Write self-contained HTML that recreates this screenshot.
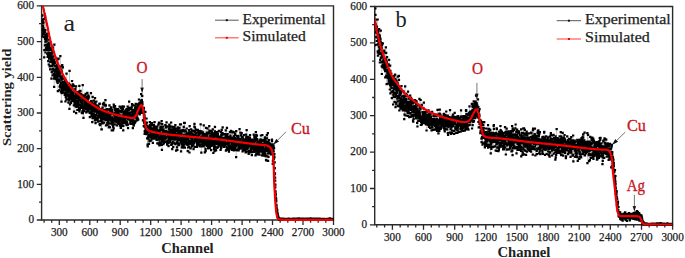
<!DOCTYPE html>
<html><head><meta charset="utf-8"><style>
html,body{margin:0;padding:0;background:#fff;width:685px;height:258px;overflow:hidden}
svg{display:block}
text{font-family:"Liberation Serif",serif}
</style></head><body>
<svg width="685" height="258" viewBox="0 0 685 258">
<rect width="685" height="258" fill="#fff"/>
<path d="M41.6 5.9H333.5V220H41.6Z" fill="none" stroke="#2a2a2a" stroke-width="1.4"/>
<path d="M44.1 220v2.8M51.7 220v2.8M59.3 220v5.0M66.9 220v2.8M74.5 220v2.8M82.1 220v2.8M89.8 220v5.0M97.4 220v2.8M105 220v2.8M112.6 220v2.8M120.2 220v5.0M127.8 220v2.8M135.5 220v2.8M143.1 220v2.8M150.7 220v5.0M158.3 220v2.8M165.9 220v2.8M173.5 220v2.8M181.1 220v5.0M188.8 220v2.8M196.4 220v2.8M204 220v2.8M211.6 220v5.0M219.2 220v2.8M226.8 220v2.8M234.5 220v2.8M242.1 220v5.0M249.7 220v2.8M257.3 220v2.8M264.9 220v2.8M272.5 220v5.0M280.2 220v2.8M287.8 220v2.8M295.4 220v2.8M303 220v5.0M310.6 220v2.8M318.2 220v2.8M325.8 220v2.8M333.5 220v5.0M41.6 220h-4.8M41.6 202.2h-2.6M41.6 184.3h-4.8M41.6 166.5h-2.6M41.6 148.6h-4.8M41.6 130.8h-2.6M41.6 113h-4.8M41.6 95.1h-2.6M41.6 77.3h-4.8M41.6 59.4h-2.6M41.6 41.6h-4.8M41.6 23.7h-2.6M41.6 5.9h-4.8" stroke="#2a2a2a" stroke-width="1.3" fill="none"/>
<g fill="#222" stroke="#222" stroke-width="0.25" font-family="Liberation Serif, serif"><text x="59.3" y="236" text-anchor="middle" font-size="11.6" textLength="16.8" lengthAdjust="spacingAndGlyphs">300</text><text x="89.8" y="236" text-anchor="middle" font-size="11.6" textLength="16.8" lengthAdjust="spacingAndGlyphs">600</text><text x="120.2" y="236" text-anchor="middle" font-size="11.6" textLength="16.8" lengthAdjust="spacingAndGlyphs">900</text><text x="150.7" y="236" text-anchor="middle" font-size="11.6" textLength="22.4" lengthAdjust="spacingAndGlyphs">1200</text><text x="181.1" y="236" text-anchor="middle" font-size="11.6" textLength="22.4" lengthAdjust="spacingAndGlyphs">1500</text><text x="211.6" y="236" text-anchor="middle" font-size="11.6" textLength="22.4" lengthAdjust="spacingAndGlyphs">1800</text><text x="242.1" y="236" text-anchor="middle" font-size="11.6" textLength="22.4" lengthAdjust="spacingAndGlyphs">2100</text><text x="272.5" y="236" text-anchor="middle" font-size="11.6" textLength="22.4" lengthAdjust="spacingAndGlyphs">2400</text><text x="303" y="236" text-anchor="middle" font-size="11.6" textLength="22.4" lengthAdjust="spacingAndGlyphs">2700</text><text x="333.5" y="236" text-anchor="middle" font-size="11.6" textLength="22.4" lengthAdjust="spacingAndGlyphs">3000</text><text x="34" y="223.3" text-anchor="end" font-size="11.6" textLength="5.6" lengthAdjust="spacingAndGlyphs">0</text><text x="34" y="187.6" text-anchor="end" font-size="11.6" textLength="16.8" lengthAdjust="spacingAndGlyphs">100</text><text x="34" y="151.9" text-anchor="end" font-size="11.6" textLength="16.8" lengthAdjust="spacingAndGlyphs">200</text><text x="34" y="116.2" text-anchor="end" font-size="11.6" textLength="16.8" lengthAdjust="spacingAndGlyphs">300</text><text x="34" y="80.6" text-anchor="end" font-size="11.6" textLength="16.8" lengthAdjust="spacingAndGlyphs">400</text><text x="34" y="44.9" text-anchor="end" font-size="11.6" textLength="16.8" lengthAdjust="spacingAndGlyphs">500</text><text x="34" y="9.2" text-anchor="end" font-size="11.6" textLength="16.8" lengthAdjust="spacingAndGlyphs">600</text></g>
<path d="M374.7 6.5H672.6V224.8H374.7Z" fill="none" stroke="#2a2a2a" stroke-width="1.4"/>
<path d="M376.8 224.8v2.8M384.6 224.8v2.8M392.4 224.8v5.0M400.2 224.8v2.8M408 224.8v2.8M415.7 224.8v2.8M423.5 224.8v5.0M431.3 224.8v2.8M439.1 224.8v2.8M446.9 224.8v2.8M454.7 224.8v5.0M462.4 224.8v2.8M470.2 224.8v2.8M478 224.8v2.8M485.8 224.8v5.0M493.6 224.8v2.8M501.4 224.8v2.8M509.1 224.8v2.8M516.9 224.8v5.0M524.7 224.8v2.8M532.5 224.8v2.8M540.3 224.8v2.8M548.1 224.8v5.0M555.8 224.8v2.8M563.6 224.8v2.8M571.4 224.8v2.8M579.2 224.8v5.0M587 224.8v2.8M594.8 224.8v2.8M602.5 224.8v2.8M610.3 224.8v5.0M618.1 224.8v2.8M625.9 224.8v2.8M633.7 224.8v2.8M641.5 224.8v5.0M649.2 224.8v2.8M657 224.8v2.8M664.8 224.8v2.8M672.6 224.8v5.0M374.7 224.8h-4.8M374.7 206.7h-2.6M374.7 188.5h-4.8M374.7 170.3h-2.6M374.7 152.1h-4.8M374.7 133.9h-2.6M374.7 115.7h-4.8M374.7 97.5h-2.6M374.7 79.3h-4.8M374.7 61.1h-2.6M374.7 42.9h-4.8M374.7 24.7h-2.6M374.7 6.5h-4.8" stroke="#2a2a2a" stroke-width="1.3" fill="none"/>
<g fill="#222" stroke="#222" stroke-width="0.25" font-family="Liberation Serif, serif"><text x="392.4" y="240.5" text-anchor="middle" font-size="11.6" textLength="16.8" lengthAdjust="spacingAndGlyphs">300</text><text x="423.5" y="240.5" text-anchor="middle" font-size="11.6" textLength="16.8" lengthAdjust="spacingAndGlyphs">600</text><text x="454.7" y="240.5" text-anchor="middle" font-size="11.6" textLength="16.8" lengthAdjust="spacingAndGlyphs">900</text><text x="485.8" y="240.5" text-anchor="middle" font-size="11.6" textLength="22.4" lengthAdjust="spacingAndGlyphs">1200</text><text x="516.9" y="240.5" text-anchor="middle" font-size="11.6" textLength="22.4" lengthAdjust="spacingAndGlyphs">1500</text><text x="548.1" y="240.5" text-anchor="middle" font-size="11.6" textLength="22.4" lengthAdjust="spacingAndGlyphs">1800</text><text x="579.2" y="240.5" text-anchor="middle" font-size="11.6" textLength="22.4" lengthAdjust="spacingAndGlyphs">2100</text><text x="610.3" y="240.5" text-anchor="middle" font-size="11.6" textLength="22.4" lengthAdjust="spacingAndGlyphs">2400</text><text x="641.5" y="240.5" text-anchor="middle" font-size="11.6" textLength="22.4" lengthAdjust="spacingAndGlyphs">2700</text><text x="672.6" y="240.5" text-anchor="middle" font-size="11.6" textLength="22.4" lengthAdjust="spacingAndGlyphs">3000</text><text x="367.1" y="228.2" text-anchor="end" font-size="11.6" textLength="5.6" lengthAdjust="spacingAndGlyphs">0</text><text x="367.1" y="191.8" text-anchor="end" font-size="11.6" textLength="16.8" lengthAdjust="spacingAndGlyphs">100</text><text x="367.1" y="155.4" text-anchor="end" font-size="11.6" textLength="16.8" lengthAdjust="spacingAndGlyphs">200</text><text x="367.1" y="119" text-anchor="end" font-size="11.6" textLength="16.8" lengthAdjust="spacingAndGlyphs">300</text><text x="367.1" y="82.6" text-anchor="end" font-size="11.6" textLength="16.8" lengthAdjust="spacingAndGlyphs">400</text><text x="367.1" y="46.2" text-anchor="end" font-size="11.6" textLength="16.8" lengthAdjust="spacingAndGlyphs">500</text><text x="367.1" y="9.8" text-anchor="end" font-size="11.6" textLength="16.8" lengthAdjust="spacingAndGlyphs">600</text></g>
<clipPath id="c1"><rect x="41.6" y="5.9" width="291.9" height="215.1"/></clipPath>
<g clip-path="url(#c1)">
<path d="M41.8 19.6 41.9 15.3 42 20.4 42.1 36.5 42.2 15.6 42.3 20.4 42.4 30.2 42.5 19.8 42.6 22.3 42.7 23.3 42.8 26.2 42.9 21.7 43 34.3 43.1 29.2 43.2 32.6 43.3 22.7 43.4 28.4 43.5 31.9 43.6 37 43.7 33.2 43.8 30.3 43.9 33.4 44 19 44.1 18.8 44.2 57.4 44.3 50.2 44.4 34.5 44.5 37.2 44.6 30.9 44.7 32 44.8 14.6 45 45.3 45.1 38.8 45.2 16.6 45.3 30 45.4 30.3 45.5 41.6 45.6 52.5 45.7 36 45.8 36.9 45.9 49.7 46 45 46.1 39.7 46.2 48.2 46.3 40.7 46.4 39.3 46.5 40.3 46.6 45.6 46.7 35.9 46.8 33.6 46.9 38.2 47 50 47.1 36.2 47.2 47.9 47.3 35.7 47.4 53.9 47.5 36.3 47.6 45.2 47.7 56.8 47.8 48.7 47.9 45.8 48 44.3 48.1 56 48.2 61.1 48.3 46.2 48.4 52.7 48.5 46.8 48.6 42.5 48.7 64.5 48.8 47.9 48.9 39.7 49 53.7 49.1 58.7 49.2 45.1 49.3 50 49.4 44.6 49.5 56 49.6 66.5 49.7 54.7 49.8 58 49.9 47.5 50 53 50.1 69.4 50.2 65.9 50.3 47.9 50.4 50 50.5 61.9 50.6 56.6 50.7 53 50.8 53.1 50.9 49.8 51 55.6 51.1 58.9 51.2 60.6 51.3 49.5 51.4 78.6 51.6 60.4 51.7 59.2 51.8 72.2 51.9 57.2 52 66 52.1 53.1 52.2 62 52.3 53.3 52.4 50.9 52.5 58.4 52.6 69.5 52.7 75.3 52.8 47.3 52.9 63.7 53 68.9 53.1 62 53.2 65.1 53.3 56.4 53.4 63.7 53.5 64.1 53.6 70.6 53.7 60.7 53.8 73.8 53.9 59.5 54 52.4 54.1 78.6 54.2 86.9 54.3 60.8 54.4 44.6 54.5 75.1 54.6 77.4 54.7 62 54.8 74.4 54.9 71.7 55 70.6 55.1 63.4 55.2 71.5 55.3 66 55.4 70 55.5 75.9 55.6 71.7 55.7 77.2 55.8 69.3 55.9 79.1 56 79 56.1 57.8 56.2 70.7 56.3 70.9 56.4 66.4 56.5 74.4 56.6 73 56.7 67.7 56.8 69.1 56.9 81.4 57 64.9 57.1 77 57.2 81.1 57.3 80 57.4 75.9 57.5 59.3 57.6 82.8 57.7 71.9 57.8 91.2 57.9 73.6 58 66.3 58.2 76 58.3 79.4 58.4 72.5 58.5 68.8 58.6 69.3 58.7 58.6 58.8 73.4 58.9 80.2 59 76.5 59.1 76.3 59.2 74.9 59.3 76.3 59.4 74.8 59.5 90.1 59.6 69.8 59.7 81.5 59.8 86.6 59.9 71.9 60 66.6 60.1 73.5 60.2 76.4 60.3 85.5 60.4 56.1 60.5 71.1 60.6 87.7 60.7 85 60.8 78.1 60.9 91.6 61 77.8 61.1 83 61.2 69.6 61.3 72 61.4 101.6 61.5 79.7 61.6 93.2 61.7 71.5 61.8 79.2 61.9 76.3 62 89.4 62.1 66.5 62.2 65.1 62.3 89.9 62.4 78.6 62.5 87.1 62.6 82.1 62.7 92.1 62.8 67.4 62.9 90 63 84.9 63.1 78.7 63.2 87.9 63.3 84.9 63.4 87.6 63.5 84.3 63.6 92.6 63.7 87 63.8 85.4 63.9 86.5 64 83.6 64.1 86.5 64.2 78.5 64.3 87 64.4 85.7 64.5 89.9 64.6 89 64.8 94.9 64.9 81.2 65 94.2 65.1 93.3 65.2 82.8 65.3 82.6 65.4 89 65.5 101.5 65.6 82.9 65.7 84.3 65.8 97.2 65.9 80.6 66 92 66.1 95.4 66.2 86.2 66.3 88.4 66.4 85.6 66.5 99.5 66.6 73.7 66.7 92.1 66.8 99.4 66.9 83.1 67 90.6 67.1 85.6 67.2 90.7 67.3 88.7 67.4 86.6 67.5 94.2 67.6 83.6 67.7 92.3 67.8 95.4 67.9 88.4 68 85.8 68.1 91 68.2 95.8 68.3 84.9 68.4 102.7 68.5 97.4 68.6 89.4 68.7 100.1 68.8 89.8 68.9 90.6 69 83.6 69.1 99.5 69.2 95.1 69.3 88.1 69.4 108.9 69.5 70.9 69.6 96.1 69.7 96.5 69.8 84.9 69.9 91.6 70 104.5 70.1 87 70.2 85.5 70.3 95.2 70.4 94 70.5 88.6 70.6 98.9 70.7 89.2 70.8 91 70.9 97.5 71 102.8 71.1 94.5 71.3 101.5 71.4 85.8 71.5 92.1 71.6 87.6 71.7 92.4 71.8 91.6 71.9 99.2 72 88.9 72.1 81 72.2 96.1 72.3 98.3 72.4 95.3 72.5 97.7 72.6 99.3 72.7 93.4 72.8 96.6 72.9 84.4 73 94.7 73.1 92.5 73.2 85.8 73.3 97.1 73.4 84.9 73.5 99.7 73.6 101 73.7 98 73.8 96.3 73.9 105.4 74 95.9 74.1 111.6 74.2 86 74.3 96.5 74.4 100.5 74.5 102.5 74.6 98.9 74.7 97.8 74.8 103.7 74.9 102.9 75 97.8 75.1 100.2 75.2 90.1 75.3 88.8 75.4 96.7 75.5 93.6 75.6 106.3 75.7 92.7 75.8 97.4 75.9 93.9 76 86.3 76.1 113.2 76.2 95.7 76.3 105.2 76.4 93.6 76.5 106.8 76.6 101.2 76.7 96.5 76.8 93.8 76.9 97.6 77 103.6 77.1 102 77.2 92.3 77.3 98.4 77.4 110 77.5 92.8 77.6 95.8 77.7 92.8 77.9 101.1 78 93.3 78.1 106.2 78.2 95.2 78.3 102.5 78.4 94.6 78.5 92.5 78.6 104.4 78.7 99.8 78.8 99.3 78.9 91.6 79 94.9 79.1 108 79.2 96.8 79.3 95 79.4 85.8 79.5 111.4 79.6 105.1 79.7 91.4 79.8 109.4 79.9 108.5 80 97.1 80.1 93.8 80.2 105.1 80.3 97.2 80.4 100.1 80.5 90.8 80.6 101 80.7 94.5 80.8 107.2 80.9 102.5 81 102 81.1 93.9 81.2 97.7 81.3 106.5 81.4 97.1 81.5 96.6 81.6 102.5 81.7 103.6 81.8 103.2 81.9 113.2 82 100.9 82.1 100.7 82.2 107.9 82.3 97.5 82.4 111.4 82.5 106.1 82.6 105.7 82.7 85.2 82.8 113.1 82.9 99.2 83 96.8 83.1 100.5 83.2 95.4 83.3 109.6 83.4 117.9 83.5 98.3 83.6 111.1 83.7 105.5 83.8 111.1 83.9 96.8 84 98.1 84.1 108.4 84.2 98 84.3 103.1 84.5 104.8 84.6 103.7 84.7 105.4 84.8 100.3 84.9 102.3 85 106.6 85.1 98 85.2 108.4 85.3 102.7 85.4 101.9 85.5 95.3 85.6 108 85.7 93.8 85.8 103.8 85.9 106.2 86 109.3 86.1 101.4 86.2 104.9 86.3 112.2 86.4 112.5 86.5 108.9 86.6 109.7 86.7 98.7 86.8 97 86.9 100.3 87 103.6 87.1 108.5 87.2 105.6 87.3 100.5 87.4 92.8 87.5 100.5 87.6 108.6 87.7 106.1 87.8 109.4 87.9 111.3 88 107.6 88.1 105.4 88.2 95.3 88.3 106.4 88.4 98.4 88.5 96 88.6 106.4 88.7 97.1 88.8 102.7 88.9 109.7 89 105.6 89.1 107.1 89.2 108.8 89.3 108.6 89.4 106.6 89.5 104.9 89.6 113 89.7 107.8 89.8 117.1 89.9 106.3 90 104.1 90.1 107 90.2 106.3 90.3 104.6 90.4 112.2 90.5 109.7 90.6 105.3 90.7 102.4 90.8 106.1 90.9 93.2 91.1 109.2 91.2 102.7 91.3 101.2 91.4 109.7 91.5 113.9 91.6 116.1 91.7 108.1 91.8 102.5 91.9 107 92 108.3 92.1 111.6 92.2 106.1 92.3 122.2 92.4 108.2 92.5 109.5 92.6 117.8 92.7 96.9 92.8 118.1 92.9 116.3 93 117.1 93.1 103.5 93.2 115.4 93.3 106.3 93.4 106.8 93.5 108.8 93.6 118.1 93.7 114.1 93.8 100.7 93.9 118.2 94 115.5 94.1 111.7 94.2 106.1 94.3 109.4 94.4 106.6 94.5 117.2 94.6 105.6 94.7 107.8 94.8 120.5 94.9 102.4 95 98.1 95.1 115.9 95.2 111.2 95.3 103.5 95.4 120.2 95.5 123.1 95.6 119.2 95.7 115.1 95.8 115.2 95.9 108.4 96 110.5 96.1 119.2 96.2 108.9 96.3 101.5 96.4 105.4 96.5 106.6 96.6 112.2 96.7 106.8 96.8 118 96.9 108.3 97 113.1 97.1 106.2 97.2 110.1 97.3 119 97.4 112.1 97.5 106 97.7 119.3 97.8 116.2 97.9 117.4 98 121.6 98.1 107.8 98.2 105.9 98.3 108.8 98.4 112 98.5 113.7 98.6 112.1 98.7 117.6 98.8 108.6 98.9 107.8 99 108.5 99.1 116.7 99.2 113.3 99.3 114.8 99.4 103.9 99.5 112.9 99.6 124.4 99.7 111.8 99.8 103.7 99.9 110.3 100 109.3 100.1 114 100.2 125.1 100.3 124.2 100.4 121.1 100.5 115 100.6 112.6 100.7 110.5 100.8 116.2 100.9 109.1 101 115.9 101.1 118.3 101.2 109.7 101.3 119.5 101.4 129.4 101.5 120.3 101.6 114 101.7 129.4 101.8 116.5 101.9 116.4 102 122.4 102.1 122.7 102.2 118 102.3 117.6 102.4 107.7 102.5 112.6 102.6 123.4 102.7 119.4 102.8 110.8 102.9 104.2 103 111.8 103.1 113 103.2 104.5 103.3 114.9 103.4 116.5 103.5 122.6 103.6 117.6 103.7 102.8 103.8 122.7 103.9 114.8 104 122.6 104.1 114.1 104.3 110 104.4 116.2 104.5 110.9 104.6 110.9 104.7 112.5 104.8 105.5 104.9 110.6 105 116.6 105.1 118.7 105.2 119.6 105.3 112.4 105.4 116.8 105.5 100.1 105.6 104.9 105.7 116.6 105.8 116.9 105.9 105.7 106 125.4 106.1 117.6 106.2 109.8 106.3 120.1 106.4 117.7 106.5 117 106.6 111.5 106.7 114.4 106.8 112.9 106.9 111.9 107 115 107.1 109.1 107.2 119.2 107.3 123.1 107.4 125 107.5 124.1 107.6 118.3 107.7 109.6 107.8 114.3 107.9 118.5 108 121.1 108.1 118.2 108.2 117.5 108.3 118.4 108.4 123.2 108.5 117.9 108.6 109.7 108.7 127.3 108.8 116.7 108.9 127 109 114.3 109.1 119.5 109.2 126.8 109.3 114.8 109.4 105.4 109.5 114.8 109.6 109 109.7 115.8 109.8 127.3 109.9 112.7 110 117.7 110.1 123.5 110.2 111.1 110.3 113.9 110.4 118.3 110.5 110.7 110.6 120.3 110.7 111.9 110.9 120.7 111 112.6 111.1 123.7 111.2 107.3 111.3 114.1 111.4 107.7 111.5 120.1 111.6 118.2 111.7 110.9 111.8 130.4 111.9 121.4 112 109.9 112.1 113 112.2 110.2 112.3 117.3 112.4 112.5 112.5 119.6 112.6 123.1 112.7 124.9 112.8 118.7 112.9 118.6 113 119.1 113.1 130.5 113.2 126.6 113.3 118.6 113.4 114.1 113.5 118.8 113.6 120.5 113.7 128.4 113.8 104.6 113.9 121.7 114 106.4 114.1 107.1 114.2 114.2 114.3 118.8 114.4 115 114.5 124.3 114.6 114.3 114.7 115.7 114.8 112.8 114.9 108.7 115 106.2 115.1 117.9 115.2 110 115.3 120.1 115.4 120.7 115.5 119.1 115.6 121.2 115.7 110.4 115.8 110.7 115.9 108.8 116 115.9 116.1 114.3 116.2 119 116.3 122.1 116.4 113.3 116.5 114.3 116.6 121.9 116.7 111.5 116.8 125.4 116.9 116.8 117 119.3 117.1 118.7 117.2 121.8 117.3 110.6 117.5 112.7 117.6 109.3 117.7 115.1 117.8 122.9 117.9 117.9 118 122.4 118.1 113.4 118.2 109.2 118.3 114.1 118.4 120.4 118.5 117.9 118.6 114.8 118.7 123.8 118.8 115.1 118.9 114.8 119 118.9 119.1 118.2 119.2 115 119.3 120.4 119.4 122.1 119.5 111.7 119.6 114.7 119.7 106.7 119.8 121.4 119.9 125.7 120 110.8 120.1 110.7 120.2 120 120.3 124 120.4 116.2 120.5 125.6 120.6 117.9 120.7 128 120.8 117.4 120.9 127.7 121 117.4 121.1 107.8 121.2 117.6 121.3 111.9 121.4 119.6 121.5 121 121.6 124.4 121.7 110.5 121.8 116.5 121.9 107.3 122 122.7 122.1 117.4 122.2 115.8 122.3 108.5 122.4 106.3 122.5 119.8 122.6 122.5 122.7 125.8 122.8 109 122.9 116.8 123 119.9 123.1 116.6 123.2 130.4 123.3 125.8 123.4 111.3 123.5 114.2 123.6 115.6 123.7 121.9 123.8 113.2 123.9 106.7 124.1 123.1 124.2 116.4 124.3 118.8 124.4 114.5 124.5 116.4 124.6 117.3 124.7 121.3 124.8 116.6 124.9 119.9 125 117.3 125.1 116.8 125.2 112.9 125.3 119.7 125.4 118.3 125.5 110.7 125.6 117.7 125.7 118 125.8 111.8 125.9 114.6 126 116.1 126.1 115.4 126.2 123.3 126.3 114 126.4 109.3 126.5 113.4 126.6 125.1 126.7 115 126.8 121.5 126.9 117.8 127 115.9 127.1 123.1 127.2 109.2 127.3 116.9 127.4 112.2 127.5 113.1 127.6 106.7 127.7 110 127.8 124.6 127.9 116.3 128 128.2 128.1 119 128.2 112.6 128.3 109.9 128.4 109.5 128.5 118.6 128.6 114.3 128.7 116 128.8 109.6 128.9 107.9 129 119.3 129.1 101.6 129.2 116.6 129.3 118.6 129.4 113.3 129.5 112.5 129.6 113.6 129.7 120.2 129.8 108.6 129.9 116.3 130 108.2 130.1 109 130.2 123.6 130.3 122 130.4 122.1 130.6 115.3 130.7 116.3 130.8 115.1 130.9 121.1 131 114.3 131.1 108.9 131.2 123.9 131.3 118.1 131.4 115.2 131.5 117.3 131.6 117.6 131.7 106.9 131.8 109.5 131.9 111.9 132 120.7 132.1 104.2 132.2 114.5 132.3 119.6 132.4 118.3 132.5 119.1 132.6 104.8 132.7 115.2 132.8 116 132.9 128.1 133 112.2 133.1 124 133.2 122.3 133.3 112.7 133.4 120.8 133.5 111.4 133.6 109.8 133.7 125.7 133.8 116.6 133.9 124.4 134 116.1 134.1 110.6 134.2 123.1 134.3 105.6 134.4 117.1 134.5 121.8 134.6 115.9 134.7 110.8 134.8 122.6 134.9 114.9 135 122.4 135.1 108 135.2 113.7 135.3 116.7 135.4 108.5 135.5 121.3 135.6 116.2 135.7 103.8 135.8 114.6 135.9 106.3 136 112.7 136.1 117.5 136.2 114.9 136.3 113 136.4 115.5 136.5 116.9 136.6 116.5 136.7 119.6 136.8 112 136.9 110.5 137 108.7 137.2 120.4 137.3 108 137.4 111.6 137.5 118 137.6 110.7 137.7 107.1 137.8 108.3 137.9 107.2 138 104.4 138.1 106 138.2 110.3 138.3 119.7 138.4 113.3 138.5 107.9 138.6 111.6 138.7 105.9 138.8 103.8 138.9 108.4 139 99.5 139.1 112.8 139.2 103.5 139.3 110 139.4 111.3 139.5 104.5 139.6 110.1 139.7 102.9 139.8 114.3 139.9 106.5 140 110.5 140.1 107.5 140.2 108 140.3 111.5 140.4 102.8 140.5 111.8 140.6 110.4 140.7 101.3 140.8 100.8 140.9 102.1 141 103.6 141.1 94.2 141.2 113 141.3 108.7 141.4 109.9 141.5 100.8 141.6 103.8 141.7 100 141.8 100.8 141.9 106.8 142 109.8 142.1 110.9 142.2 95.9 142.3 102.2 142.4 104.3 142.5 109.1 142.6 108.8 142.7 109.9 142.8 110.2 142.9 120.4 143 109.9 143.1 111.7 143.2 109.2 143.3 110.2 143.4 108 143.5 112.8 143.6 109.8 143.8 126.1 143.9 120.1 144 107.9 144.1 122.1 144.2 118.6 144.3 114.9 144.4 122.8 144.5 116.3 144.6 126.7 144.7 133.9 144.8 131.1 144.9 133.6 145 124.6 145.1 126.9 145.2 123.6 145.3 132 145.4 111.8 145.5 127.5 145.6 127.7 145.7 125.2 145.8 129.6 145.9 132.1 146 128.2 146.1 123.7 146.2 125.4 146.3 124 146.4 132.8 146.5 134.1 146.6 118.5 146.7 131.4 146.8 126.6 146.9 126.2 147 122.5 147.1 138.3 147.2 133.5 147.3 133.3 147.4 132.7 147.5 144.7 147.6 131.7 147.7 146.4 147.8 129.7 147.9 128.4 148 128.2 148.1 138.4 148.2 126.3 148.3 136.6 148.4 138.7 148.5 137.4 148.6 136.7 148.7 131 148.8 127.4 148.9 143.9 149 135.2 149.1 127.2 149.2 131.1 149.3 129.5 149.4 140.7 149.5 127.1 149.6 141.2 149.7 131.4 149.8 124.9 149.9 122 150 129.7 150.1 127.7 150.2 136 150.4 135.3 150.5 126.1 150.6 132.7 150.7 133.4 150.8 140.6 150.9 131.9 151 129.2 151.1 137.2 151.2 135.7 151.3 124.1 151.4 131.9 151.5 134.5 151.6 139.3 151.7 136.4 151.8 134.4 151.9 125.4 152 136.4 152.1 123.1 152.2 138.3 152.3 135.1 152.4 128.4 152.5 134.5 152.6 137.8 152.7 133.9 152.8 130.7 152.9 142.8 153 134.7 153.1 133.9 153.2 135.6 153.3 129.3 153.4 136.5 153.5 135.4 153.6 133.2 153.7 129.4 153.8 134.7 153.9 125.1 154 138.6 154.1 126.4 154.2 138.3 154.3 134.5 154.4 131.6 154.5 122.2 154.6 128.7 154.7 135.9 154.8 126.5 154.9 134.9 155 138.1 155.1 131.3 155.2 133.3 155.3 128.5 155.4 136.9 155.5 131.7 155.6 130.3 155.7 132.3 155.8 134.1 155.9 137.8 156 128.9 156.1 133.2 156.2 131.2 156.3 135.9 156.4 134 156.5 139.8 156.6 133.6 156.7 129.8 156.8 133.6 157 129.4 157.1 132.4 157.2 126.6 157.3 135.2 157.4 143.3 157.5 131.8 157.6 135.2 157.7 139.6 157.8 130.7 157.9 132.8 158 131.9 158.1 136.2 158.2 133.3 158.3 133 158.4 124.6 158.5 138.2 158.6 134.5 158.7 132.4 158.8 144 158.9 143.3 159 122.5 159.1 144.3 159.2 131.4 159.3 139.2 159.4 138.8 159.5 145.5 159.6 139.6 159.7 130.3 159.8 142.3 159.9 130.2 160 132.9 160.1 123.5 160.2 137.3 160.3 127.7 160.4 129.8 160.5 136.3 160.6 143.9 160.7 126.5 160.8 142.3 160.9 137.4 161 130 161.1 128.7 161.2 139.5 161.3 135 161.4 136.3 161.5 128.4 161.6 121.1 161.7 145 161.8 129.9 161.9 149.8 162 134.9 162.1 141.1 162.2 124 162.3 134.1 162.4 139.1 162.5 137.8 162.6 138.2 162.7 133.7 162.8 136 162.9 131.5 163 126.6 163.1 131.3 163.2 141.9 163.3 144.1 163.4 139.3 163.6 129.4 163.7 137.1 163.8 138.9 163.9 134.5 164 143 164.1 141.5 164.2 132.5 164.3 137 164.4 137.8 164.5 133.6 164.6 138.5 164.7 139.1 164.8 137.9 164.9 132.1 165 135.1 165.1 142 165.2 137.1 165.3 131.9 165.4 125.2 165.5 141.7 165.6 133.6 165.7 136.9 165.8 131 165.9 133 166 127.4 166.1 132.7 166.2 138.5 166.3 138.5 166.4 133.3 166.5 133.4 166.6 122.4 166.7 126.4 166.8 142.1 166.9 133.7 167 142.9 167.1 144.7 167.2 131.6 167.3 132.6 167.4 141.4 167.5 126.7 167.6 141.1 167.7 142.1 167.8 132.2 167.9 134.5 168 136.6 168.1 136.1 168.2 134.1 168.3 136.6 168.4 136.7 168.5 146.2 168.6 143.2 168.7 132.5 168.8 139.7 168.9 132.9 169 129.1 169.1 137.8 169.2 134.3 169.3 124.5 169.4 132.1 169.5 125.8 169.6 127.5 169.7 130.4 169.8 136.6 169.9 140.6 170 142.1 170.2 133.3 170.3 133.4 170.4 137 170.5 131.4 170.6 139.3 170.7 130 170.8 135.8 170.9 136.3 171 136.1 171.1 136.6 171.2 122.5 171.3 144.9 171.4 135.1 171.5 129.3 171.6 132.2 171.7 137.8 171.8 126.6 171.9 144.1 172 143.3 172.1 133.1 172.2 144.1 172.3 149.2 172.4 131.4 172.5 132.1 172.6 132.2 172.7 138.9 172.8 135.3 172.9 141.5 173 126.8 173.1 132 173.2 132.2 173.3 147 173.4 131.9 173.5 128.2 173.6 129.7 173.7 132 173.8 136.4 173.9 138.2 174 133.1 174.1 134.3 174.2 135.1 174.3 138.1 174.4 127.2 174.5 142.8 174.6 136.6 174.7 139.6 174.8 130.8 174.9 128.7 175 129.7 175.1 132.4 175.2 144.1 175.3 125.1 175.4 133.7 175.5 137.1 175.6 136.4 175.7 138.4 175.8 134.2 175.9 134.9 176 138.5 176.1 150.6 176.2 136.8 176.3 134 176.4 133.7 176.5 137.5 176.6 134.2 176.8 131 176.9 139.2 177 128.7 177.1 147.3 177.2 143.5 177.3 141.6 177.4 150 177.5 142.2 177.6 129.9 177.7 130 177.8 136.2 177.9 127.4 178 135.4 178.1 139.5 178.2 135.5 178.3 137.5 178.4 132.8 178.5 145 178.6 131.4 178.7 139.3 178.8 132.2 178.9 145.2 179 139.1 179.1 136.4 179.2 132 179.3 143.5 179.4 127.8 179.5 134.3 179.6 139.8 179.7 130.3 179.8 136.4 179.9 130.6 180 124.3 180.1 132.8 180.2 139.8 180.3 139.3 180.4 133.8 180.5 135.4 180.6 141.5 180.7 140.6 180.8 133.4 180.9 124.3 181 151.4 181.1 133.1 181.2 138.2 181.3 132.8 181.4 132.4 181.5 136.8 181.6 142.6 181.7 144.7 181.8 147.3 181.9 130.5 182 138.3 182.1 140.1 182.2 138.7 182.3 144.5 182.4 135.5 182.5 130 182.6 131 182.7 145.7 182.8 129.8 182.9 141.4 183 147.6 183.1 143.9 183.3 142.5 183.4 137.3 183.5 142.9 183.6 145.5 183.7 138.7 183.8 126.9 183.9 141.1 184 134.8 184.1 136.9 184.2 122.9 184.3 147.7 184.4 131.4 184.5 144.4 184.6 140.6 184.7 137.9 184.8 122.8 184.9 141.6 185 147.7 185.1 130.4 185.2 142 185.3 138.8 185.4 137.6 185.5 137 185.6 138.4 185.7 136.1 185.8 135.4 185.9 131.3 186 139.9 186.1 141.6 186.2 143.4 186.3 134.4 186.4 137.9 186.5 134.6 186.6 134.7 186.7 128.5 186.8 136.5 186.9 133.6 187 144.2 187.1 143.5 187.2 139.4 187.3 144.3 187.4 134 187.5 144.9 187.6 137.4 187.7 151.1 187.8 143.7 187.9 139.6 188 139.2 188.1 147.5 188.2 137.2 188.3 132.5 188.4 134.3 188.5 141.4 188.6 141 188.7 144.3 188.8 134.4 188.9 130.1 189 140.7 189.1 147.1 189.2 136.8 189.3 134.1 189.4 152.5 189.5 137.2 189.6 126.2 189.7 133.5 189.9 135 190 135.8 190.1 132.2 190.2 143.1 190.3 142.6 190.4 135.8 190.5 141.7 190.6 136.1 190.7 148.4 190.8 133.9 190.9 133.5 191 137.8 191.1 136.9 191.2 129.3 191.3 143.9 191.4 143 191.5 144 191.6 140.4 191.7 143.6 191.8 137.9 191.9 141.7 192 146 192.1 146.5 192.2 131.6 192.3 138.6 192.4 139.4 192.5 138.1 192.6 138.7 192.7 134.1 192.8 135.2 192.9 141.4 193 142.7 193.1 144.1 193.2 145 193.3 130.7 193.4 143.2 193.5 149.2 193.6 142.9 193.7 142.6 193.8 136.5 193.9 143.1 194 135.5 194.1 136.3 194.2 131.5 194.3 126.7 194.4 123.8 194.5 131.1 194.6 146.8 194.7 140.6 194.8 137.1 194.9 127.3 195 134.8 195.1 131.9 195.2 139.4 195.3 135.3 195.4 134.6 195.5 140.9 195.6 132.8 195.7 132.7 195.8 139.4 195.9 133 196 129.6 196.1 138.2 196.2 138.5 196.3 140.2 196.5 141.9 196.6 137.7 196.7 140.8 196.8 140.3 196.9 142.8 197 146.9 197.1 143.7 197.2 136.8 197.3 145 197.4 142.1 197.5 129.8 197.6 132.6 197.7 142.4 197.8 135.4 197.9 142.2 198 129.9 198.1 141.8 198.2 138.3 198.3 131.2 198.4 143.2 198.5 131.7 198.6 143.1 198.7 137.5 198.8 140.3 198.9 139.2 199 137.6 199.1 139.2 199.2 144.3 199.3 134.1 199.4 134.9 199.5 131.9 199.6 131.4 199.7 146.1 199.8 131.9 199.9 131.9 200 141.7 200.1 133.3 200.2 131 200.3 141.8 200.4 146.3 200.5 140.8 200.6 124.4 200.7 137.6 200.8 145.4 200.9 140.3 201 144.3 201.1 141.1 201.2 138.4 201.3 152.7 201.4 137 201.5 131.4 201.6 140 201.7 141.1 201.8 133.1 201.9 145.8 202 145.7 202.1 146.5 202.2 139.9 202.3 136.9 202.4 139.5 202.5 136.1 202.6 134.6 202.7 135.5 202.8 143.4 202.9 140.5 203.1 132.4 203.2 144.7 203.3 140.5 203.4 141.4 203.5 140.1 203.6 144.9 203.7 146.4 203.8 125.4 203.9 134.1 204 143 204.1 139.5 204.2 135.6 204.3 141.1 204.4 135.9 204.5 142.5 204.6 141.2 204.7 139.7 204.8 141.7 204.9 152.4 205 139.2 205.1 137.9 205.2 136.7 205.3 144.6 205.4 137.5 205.5 138.2 205.6 148.8 205.7 151.1 205.8 136.8 205.9 144.5 206 134 206.1 127.9 206.2 143.6 206.3 143.1 206.4 139.5 206.5 135.8 206.6 145.5 206.7 132.7 206.8 134.1 206.9 135.9 207 142.3 207.1 134.5 207.2 134.9 207.3 145.9 207.4 128.3 207.5 141.1 207.6 137.5 207.7 142.3 207.8 137.5 207.9 133.3 208 143.9 208.1 148.4 208.2 142 208.3 146.6 208.4 143.6 208.5 140.3 208.6 139.9 208.7 132.7 208.8 145 208.9 137.7 209 142.3 209.1 132.3 209.2 126.1 209.3 138 209.4 130.7 209.5 142.5 209.7 148.2 209.8 146.5 209.9 148.2 210 144.8 210.1 141 210.2 133.6 210.3 136 210.4 137.3 210.5 142 210.6 143.6 210.7 139.6 210.8 139.1 210.9 138.4 211 137.8 211.1 140.4 211.2 150.1 211.3 145.8 211.4 144.3 211.5 130.8 211.6 142.2 211.7 135 211.8 132.1 211.9 138.1 212 142 212.1 141.5 212.2 145.4 212.3 138.3 212.4 133.9 212.5 136.9 212.6 135.8 212.7 136.1 212.8 129.3 212.9 143.4 213 139.2 213.1 136.2 213.2 133.4 213.3 153 213.4 142.8 213.5 141.2 213.6 145.6 213.7 135.6 213.8 138.9 213.9 142.2 214 148.8 214.1 147.2 214.2 145.4 214.3 137.7 214.4 146.7 214.5 151.2 214.6 147.9 214.7 143.3 214.8 131.3 214.9 126.9 215 142.8 215.1 135.2 215.2 132.8 215.3 133.4 215.4 140.9 215.5 147.2 215.6 142.9 215.7 150.2 215.8 139 215.9 136.2 216 150.4 216.1 140.6 216.3 138.8 216.4 133.7 216.5 133 216.6 136.1 216.7 144.1 216.8 142.4 216.9 134 217 143.7 217.1 140.7 217.2 132.1 217.3 139.8 217.4 147.8 217.5 142.1 217.6 137.1 217.7 141.5 217.8 134.3 217.9 133.7 218 144 218.1 143.2 218.2 141.1 218.3 147 218.4 138.6 218.5 141.6 218.6 136.4 218.7 143.8 218.8 145.3 218.9 130.9 219 145.3 219.1 143.8 219.2 144.6 219.3 142.3 219.4 145.6 219.5 141 219.6 144.5 219.7 143 219.8 138.8 219.9 137 220 138.3 220.1 144.7 220.2 138.7 220.3 141.5 220.4 141.4 220.5 150 220.6 137.3 220.7 141.6 220.8 131.8 220.9 137.5 221 146.8 221.1 148.2 221.2 134.8 221.3 145.6 221.4 137.3 221.5 142.6 221.6 129.8 221.7 140.6 221.8 133 221.9 133.9 222 143.5 222.1 142.8 222.2 133.2 222.3 141 222.4 145.7 222.5 134.7 222.6 127.4 222.7 141.2 222.9 133.6 223 141.9 223.1 133.8 223.2 142.3 223.3 134 223.4 138.1 223.5 142 223.6 139.8 223.7 143.9 223.8 147 223.9 146.6 224 141.3 224.1 146.6 224.2 138.7 224.3 138.2 224.4 138.5 224.5 143.7 224.6 140.7 224.7 141.2 224.8 134 224.9 145.3 225 143.1 225.1 142.3 225.2 141.8 225.3 145.1 225.4 144.4 225.5 135.7 225.6 144.5 225.7 136.3 225.8 130.4 225.9 134.4 226 150.7 226.1 137.1 226.2 138.7 226.3 138.3 226.4 149.8 226.5 137.2 226.6 147 226.7 134.4 226.8 135.6 226.9 127.8 227 143.4 227.1 149.4 227.2 135.8 227.3 136.8 227.4 143.4 227.5 134.2 227.6 137.8 227.7 148.2 227.8 143.3 227.9 143.8 228 142.1 228.1 140.5 228.2 145.2 228.3 142.6 228.4 138.4 228.5 141.9 228.6 143 228.7 143.2 228.8 142.1 228.9 151.7 229 140.8 229.1 147.1 229.2 141.1 229.3 149.4 229.5 136.8 229.6 140.4 229.7 148.8 229.8 140.5 229.9 145.7 230 132.2 230.1 139.2 230.2 146 230.3 140.6 230.4 142 230.5 135.5 230.6 139.9 230.7 138.1 230.8 147.7 230.9 137.7 231 130.8 231.1 138.5 231.2 142.1 231.3 140.6 231.4 146.9 231.5 140.9 231.6 147.7 231.7 141.7 231.8 144 231.9 146.3 232 138.9 232.1 149.8 232.2 142.2 232.3 149 232.4 132.4 232.5 131.7 232.6 137.6 232.7 132.1 232.8 139 232.9 139.2 233 144.4 233.1 146.8 233.2 141.5 233.3 145 233.4 144.5 233.5 138.4 233.6 142.9 233.7 150.4 233.8 143.4 233.9 146.3 234 143.8 234.1 148.1 234.2 136 234.3 132.3 234.4 150.1 234.5 138.9 234.6 139.2 234.7 148 234.8 141.6 234.9 135 235 138 235.1 133.9 235.2 148.6 235.3 146.4 235.4 141 235.5 140.6 235.6 142.4 235.7 144.6 235.8 144.7 235.9 145.8 236.1 140.2 236.2 157.1 236.3 131.2 236.4 145.4 236.5 150.2 236.6 139.8 236.7 150.1 236.8 140.7 236.9 144.9 237 139.7 237.1 138.6 237.2 136 237.3 145.4 237.4 144.4 237.5 142.9 237.6 150.3 237.7 139.8 237.8 142.2 237.9 149.9 238 136.6 238.1 135.8 238.2 149.9 238.3 140 238.4 136.5 238.5 138.6 238.6 148.2 238.7 150.4 238.8 143.7 238.9 145.7 239 143.1 239.1 143.7 239.2 140.4 239.3 146.1 239.4 144 239.5 129.2 239.6 143.9 239.7 139.4 239.8 141.7 239.9 142.1 240 148 240.1 140.5 240.2 143.6 240.3 139 240.4 132.6 240.5 142.4 240.6 139.4 240.7 148.7 240.8 142.8 240.9 135.3 241 143.7 241.1 146.8 241.2 142.4 241.3 144.4 241.4 144.7 241.5 145.4 241.6 133.1 241.7 148.1 241.8 145.7 241.9 146.5 242 137.1 242.1 145 242.2 136.8 242.3 142.7 242.4 143.7 242.6 151.3 242.7 137.3 242.8 140.8 242.9 141.6 243 144.3 243.1 145.9 243.2 150.3 243.3 138.8 243.4 142.3 243.5 145.6 243.6 147.1 243.7 143.2 243.8 144.3 243.9 135.2 244 139.8 244.1 146.9 244.2 149.6 244.3 145.1 244.4 148.6 244.5 143.5 244.6 141.8 244.7 140.6 244.8 141.7 244.9 144.9 245 140.8 245.1 148.6 245.2 144.4 245.3 139.7 245.4 142.5 245.5 150.6 245.6 150 245.7 152.4 245.8 134.6 245.9 152.1 246 144.7 246.1 134.5 246.2 138.4 246.3 137.2 246.4 146.7 246.5 140.2 246.6 130.2 246.7 144.3 246.8 142 246.9 145.8 247 144.2 247.1 142.2 247.2 136.9 247.3 148.8 247.4 151.6 247.5 144.1 247.6 143.1 247.7 136.9 247.8 140.5 247.9 147.5 248 141.3 248.1 138.5 248.2 142.8 248.3 146 248.4 140.8 248.5 146.2 248.6 154 248.7 137.4 248.8 151 248.9 146.1 249 146 249.2 146.1 249.3 145.9 249.4 151.9 249.5 141.7 249.6 144.3 249.7 144.3 249.8 138.9 249.9 138.8 250 137.6 250.1 135 250.2 142.2 250.3 152.5 250.4 143.5 250.5 144.5 250.6 144.3 250.7 147.7 250.8 149.2 250.9 140.5 251 139.6 251.1 150.5 251.2 141.9 251.3 145.6 251.4 146.7 251.5 141.2 251.6 145 251.7 147.6 251.8 144.5 251.9 155.1 252 147.9 252.1 147.1 252.2 152.1 252.3 143.9 252.4 143.5 252.5 148 252.6 145.8 252.7 141.4 252.8 139.5 252.9 148.9 253 143.2 253.1 139.6 253.2 145.2 253.3 149 253.4 149 253.5 146.7 253.6 150.4 253.7 134.7 253.8 148.1 253.9 143.2 254 144.2 254.1 141.9 254.2 147.2 254.3 151.9 254.4 136.8 254.5 145.6 254.6 144.6 254.7 144.2 254.8 138.8 254.9 141.3 255 139.2 255.1 141.1 255.2 144.5 255.3 144 255.4 149.2 255.5 155.4 255.6 146.6 255.8 150.9 255.9 132 256 137.4 256.1 139.4 256.2 148.3 256.3 134.8 256.4 154.2 256.5 151.7 256.6 149.5 256.7 150.4 256.8 144.8 256.9 144.5 257 135.7 257.1 140.4 257.2 139.2 257.3 143.4 257.4 146.3 257.5 149.1 257.6 153.4 257.7 150.1 257.8 147.6 257.9 141.7 258 154.3 258.1 152.7 258.2 144.5 258.3 151.1 258.4 143.9 258.5 147.8 258.6 149.6 258.7 152.6 258.8 146.2 258.9 149.5 259 148.9 259.1 149 259.2 144.8 259.3 145 259.4 154.6 259.5 146.6 259.6 143.7 259.7 140.4 259.8 141.8 259.9 144.7 260 151.7 260.1 149.8 260.2 141.1 260.3 149.4 260.4 140.6 260.5 139.3 260.6 151.3 260.7 143.6 260.8 146.5 260.9 135.5 261 141.6 261.1 148.5 261.2 143.8 261.3 150.6 261.4 146.7 261.5 144.9 261.6 145.2 261.7 143.8 261.8 150.6 261.9 155.5 262 147.8 262.1 150.6 262.2 149.6 262.4 135 262.5 140 262.6 146.9 262.7 153.4 262.8 152.7 262.9 144.2 263 140.5 263.1 147.5 263.2 145.4 263.3 144.8 263.4 140.6 263.5 155.7 263.6 145.3 263.7 144 263.8 141.2 263.9 144.1 264 151.8 264.1 149.1 264.2 154 264.3 145.2 264.4 145.2 264.5 143.6 264.6 151.2 264.7 152.1 264.8 138.4 264.9 145.3 265 137.3 265.1 144 265.2 153.8 265.3 142.2 265.4 140 265.5 148.6 265.6 156.2 265.7 143 265.8 147.1 265.9 145 266 160.2 266.1 144.1 266.2 160.3 266.3 150.9 266.4 142 266.5 155.9 266.6 156.1 266.7 148.9 266.8 135.2 266.9 138.4 267 150.9 267.1 141.6 267.2 143.8 267.3 145.5 267.4 145 267.5 150.6 267.6 142.8 267.7 141.5 267.8 133.2 267.9 142.4 268 160.9 268.1 153.3 268.2 145.5 268.3 146.8 268.4 156.8 268.5 148.1 268.6 149.2 268.7 147.7 268.8 148.2 269 142.9 269.1 140.2 269.2 144.3 269.3 153.4 269.4 152.2 269.5 151.3 269.6 148.3 269.7 150.3 269.8 150 269.9 153 270 143.6 270.1 144.2 270.2 143.8 270.3 149.1 270.4 146.5 270.5 153.5 270.6 153.1 270.7 150.9 270.8 145.3 270.9 149.2 271 154.4 271.1 147.1 271.2 145.5 271.3 146.9 271.4 151.3 271.5 147.7 271.6 150.3 271.7 149.9 271.8 148.9 271.9 144.8 272 139.6 272.1 141.1 272.2 146 272.3 151.4 272.4 151.1 272.5 151.2 272.6 144.3 272.7 163.8 272.8 149.4 272.9 160.9 273 151.4 273.1 145.1 273.2 156.5 273.3 163.7 273.4 146.5 273.5 145.9 273.6 151.3 273.7 148.2 273.8 158.8 273.9 148 274 148.3 274.1 154.3 274.2 157 274.3 154.2 274.4 157.3 274.5 168.5 274.6 162.3 274.7 168.1 274.8 174.1 274.9 173.3 275 177.6 275.1 180.7 275.2 187.3 275.3 184.6 275.4 193 275.6 191.4 275.7 197.9 275.8 199.4 275.9 194.6 276 197.7 276.1 198.9 276.2 199.1 276.3 201.3 276.4 206.5 276.5 204.9 276.6 206.5 276.7 208.7 276.8 209 276.9 210.4 277 211.8 277.1 212.1 277.2 211.9 277.3 209.8 277.4 215.4 277.5 213.6 277.6 216.9 277.7 213.4 277.8 216.3 277.9 216.2 278 215.4 278.1 216.2 278.2 218.9 278.3 217.3 278.4 218.2 278.5 217.7 278.6 218.2 278.7 217.9 278.8 218.4 278.9 218.9 279 218.1 279.1 219.9 279.2 219.3 279.3 219.7 279.4 219.3 279.5 219.5 279.6 219.4 279.7 219.7 279.8 219.6 279.9 220 280 219.4 280.1 219.3 280.2 219.7 280.3 219.7 280.4 219.7 280.5 218.7 280.6 219.3 280.7 219.3 280.8 219.6 280.9 219.7 281 219.8 281.1 218.7 281.2 220 281.3 219.3 281.4 219.4 281.5 219.5 281.6 220 281.7 220 281.8 219 281.9 219.7 282 219 282.2 219.1 282.3 219.2 282.4 219.1 282.5 220 282.6 219.6 282.7 219.1 282.8 220 282.9 218.7 283 219.7 283.1 219.5 283.2 219.9 283.3 219.3 283.4 219.8 283.5 219.5 283.6 219.9 283.7 218.9 283.8 220 283.9 219.2 284 219.3 284.1 219.2 284.2 219.9 284.3 219 284.4 219 284.5 219.4 284.6 219.3 284.7 219.5 284.8 219.1 284.9 219.9 285 219.2 285.1 219.2 285.2 220 285.3 220 285.4 219.5 285.5 219.5 285.6 218.9 285.7 219.4 285.8 219.7 285.9 220 286 219.5 286.1 219.7 286.2 219.9 286.3 219.5 286.4 219 286.5 219.4 286.6 219.9 286.7 219.3 286.8 219.9 286.9 220 287 219.2 287.1 219.7 287.2 218.9 287.3 219.3 287.4 219.8 287.5 219.3 287.6 218.8 287.7 219.5 287.8 219.9 287.9 219.7 288 219.8 288.1 220 288.2 220 288.3 219.2 288.4 218.9 288.5 219.6 288.6 219.1 288.8 219 288.9 218.7 289 219.5 289.1 219.6 289.2 219.2 289.3 219.4 289.4 219.3 289.5 218.8 289.6 219.6 289.7 219.3 289.8 219.9 289.9 219.5 290 219.7 290.1 219.8 290.2 219.5 290.3 219.6 290.4 219.3 290.5 219.1 290.6 220 290.7 219 290.8 220 290.9 219.3 291 219.1 291.1 219.7 291.2 219.5 291.3 219.8 291.4 219 291.5 220 291.6 219.9 291.7 220 291.8 219.3 291.9 218.8 292 218.9 292.1 219.1 292.2 219.3 292.3 219.8 292.4 218.9 292.5 219.1 292.6 219.8 292.7 220 292.8 219.7 292.9 218.9 293 218.9 293.1 218.7 293.2 219.8 293.3 219.6 293.4 218.8 293.5 219.3 293.6 219.1 293.7 220 293.8 219.7 293.9 219.4 294 219.6 294.1 219.6 294.2 220 294.3 218.7 294.4 219.4 294.5 220 294.6 218.9 294.7 219.4 294.8 219.1 294.9 219.5 295 219.8 295.1 219.8 295.3 219.3 295.4 219.1 295.5 219.2 295.6 219.1 295.7 218.9 295.8 219.3 295.9 219 296 218.9 296.1 219.3 296.2 219.5 296.3 219.6 296.4 220 296.5 220 296.6 218.8 296.7 219.4 296.8 219.7 296.9 218.7 297 219 297.1 219.4 297.2 219 297.3 219.5 297.4 219.2 297.5 218.6 297.6 218.9 297.7 219.5 297.8 219.1 297.9 218.9 298 219.5 298.1 219.6 298.2 218.6 298.3 219.5 298.4 220 298.5 219.3 298.6 218.4 298.7 219.1 298.8 219 298.9 220 299 219.6 299.1 218.6 299.2 219.6 299.3 218.8 299.4 219.2 299.5 219.2 299.6 218.6 299.7 219.6 299.8 219.6 299.9 219.3 300 219.3 300.1 220 300.2 218.8 300.3 219.3 300.4 219.4 300.5 219.1 300.6 219.5 300.7 218.8 300.8 219.3 300.9 219 301 219.8 301.1 219.5 301.2 219.2 301.3 219.8 301.4 219.7 301.5 219.4 301.6 218.9 301.7 219 301.9 219 302 219.2 302.1 219 302.2 218.7 302.3 219.3 302.4 219.2 302.5 219.1 302.6 220 302.7 219.4 302.8 219.2 302.9 219 303 219.5 303.1 218.9 303.2 219.7 303.3 219.5 303.4 218.6 303.5 220 303.6 219.4 303.7 219.4 303.8 219.4 303.9 219.6 304 219.1 304.1 219.9 304.2 220 304.3 219.2 304.4 219.9 304.5 219.2 304.6 219.4 304.7 219.7 304.8 219.5 304.9 219.4 305 219.2 305.1 219.7 305.2 219.5 305.3 220 305.4 219.5 305.5 220 305.6 219.4 305.7 219.6 305.8 218.5 305.9 218.8 306 219.5 306.1 219 306.2 219.3 306.3 219.9 306.4 220 306.5 218.9 306.6 219.2 306.7 220 306.8 219.1 306.9 218.8 307 219.7 307.1 219.1 307.2 220 307.3 219.5 307.4 219.4 307.5 219.1 307.6 219.2 307.7 219.3 307.8 219.2 307.9 219.7 308 218.7 308.1 219.6 308.2 219.1 308.3 219.4 308.5 219.6 308.6 219.2 308.7 219.2 308.8 218.8 308.9 218.9 309 219.7 309.1 219.2 309.2 219.4 309.3 219.8 309.4 219.9 309.5 219.3 309.6 219.7 309.7 220 309.8 219.5 309.9 219.3 310 219.4 310.1 220 310.2 219.7 310.3 218.8 310.4 219.8 310.5 219.6 310.6 218.4 310.7 219.3 310.8 219.6 310.9 220 311 219.3 311.1 220 311.2 219.4 311.3 219.8 311.4 220 311.5 218.7 311.6 219.5 311.7 219 311.8 219.1 311.9 219.8 312 219.4 312.1 219.6 312.2 219 312.3 219.2 312.4 219.6 312.5 218.7 312.6 219.2 312.7 219.2 312.8 219.8 312.9 219.2 313 220 313.1 219.2 313.2 219.8 313.3 219.3 313.4 219.6 313.5 219.3 313.6 219.3 313.7 219.5 313.8 219.5 313.9 220 314 220 314.1 218.9 314.2 219.2 314.3 220 314.4 218.6 314.5 219.8 314.6 219.2 314.7 219.2 314.8 219.4 314.9 219.2 315.1 220 315.2 219.4 315.3 219.5 315.4 219.4 315.5 219.6 315.6 219.7 315.7 219.8 315.8 219 315.9 219.8 316 219.3 316.1 219.3 316.2 219.5 316.3 219.2 316.4 219.2 316.5 219.8 316.6 219.3 316.7 218.6 316.8 219.9 316.9 219.6 317 219.8 317.1 218.5 317.2 220 317.3 219.4 317.4 219 317.5 219.8 317.6 219.5 317.7 219.8 317.8 220 317.9 219.5 318 219.2 318.1 219.6 318.2 219.4 318.3 219.1 318.4 218.9 318.5 220 318.6 219.2 318.7 219.7 318.8 220 318.9 219.8 319 219.1 319.1 219.3 319.2 219.9 319.3 218.7 319.4 219.2 319.5 219.5 319.6 219.7 319.7 219.2 319.8 219.6 319.9 218.9 320 219.3 320.1 219.2 320.2 219.6 320.3 220 320.4 219.2 320.5 219.9 320.6 219.5 320.7 219.4 320.8 219.8 320.9 219 321 220 321.1 218.8 321.2 219.7 321.3 219 321.4 218.8 321.5 219.8 321.7 219.8 321.8 219 321.9 219.3 322 219.4 322.1 220 322.2 220 322.3 219.2 322.4 218.8 322.5 219.7 322.6 219.8 322.7 219.3 322.8 219.2 322.9 219.2 323 219.6 323.1 220 323.2 218.8 323.3 219.7 323.4 218.9 323.5 220 323.6 219.3 323.7 219.7 323.8 220 323.9 219 324 218.8 324.1 219.7 324.2 219.1 324.3 219.9 324.4 219.7 324.5 219.5 324.6 219.6 324.7 219.1 324.8 220 324.9 219 325 219 325.1 219.5 325.2 220 325.3 220 325.4 219.5 325.5 219.7 325.6 219.4 325.7 219.9 325.8 219.4 325.9 219.5 326 219.4 326.1 219.3 326.2 219.3 326.3 219 326.4 219.8 326.5 219 326.6 219.4 326.7 219.6 326.8 219.9 326.9 218.8 327 219.3 327.1 219.7 327.2 219.4 327.3 219.4 327.4 219.7 327.5 220 327.6 219.4 327.7 219.5 327.8 219.6 327.9 219 328 220 328.1 219.9 328.3 219.4 328.4 219.1 328.5 219.2 328.6 219.1 328.7 220 328.8 219.2 328.9 219.2 329 219.1 329.1 219.7 329.2 219.2 329.3 219 329.4 218.7 329.5 219.3 329.6 220 329.7 219.4 329.8 219.1 329.9 219.2 330 218.3 330.1 219.5 330.2 219.9 330.3 219.7 330.4 219.1 330.5 219.8 330.6 219.9 330.7 219.8 330.8 218.9 330.9 219.3 331 219.6 331.1 219 331.2 219.1 331.3 219.9 331.4 219.1 331.5 219.3 331.6 220 331.7 220 331.8 219.3 331.9 219.2 332 219.6 332.1 219.9 332.2 219.3 332.3 220 332.4 219.2 332.5 219.5 332.6 219.4 332.7 219.7 332.8 219.1 332.9 220 333 219.8 333.1 219.2 333.2 219.8 333.3 218.8 333.4 219.2 333.5 219.8" fill="none" stroke="#000" stroke-width="0.4" stroke-opacity="0.3"/>
<path d="M40.7 19.6h2.3M40.8 15.3h2.3M40.9 20.4h2.3M41 36.5h2.3M41.1 15.6h2.3M41.2 20.4h2.3M41.3 30.2h2.3M41.4 19.8h2.3M41.5 22.3h2.3M41.6 23.3h2.3M41.7 26.2h2.3M41.8 21.7h2.3M41.9 34.3h2.3M42 29.2h2.3M42.1 32.6h2.3M42.2 22.7h2.3M42.3 28.4h2.3M42.4 31.9h2.3M42.5 37h2.3M42.6 33.2h2.3M42.7 30.3h2.3M42.8 33.4h2.3M42.9 19h2.3M43 18.8h2.3M43.1 57.4h2.3M43.2 50.2h2.3M43.3 34.5h2.3M43.4 37.2h2.3M43.5 30.9h2.3M43.6 32h2.3M43.7 14.6h2.3M43.8 45.3h2.3M43.9 38.8h2.3M44 16.6h2.3M44.1 30h2.3M44.2 30.3h2.3M44.3 41.6h2.3M44.4 52.5h2.3M44.5 36h2.3M44.6 36.9h2.3M44.7 49.7h2.3M44.8 45h2.3M44.9 39.7h2.3M45 48.2h2.3M45.1 40.7h2.3M45.2 39.3h2.3M45.3 40.3h2.3M45.4 45.6h2.3M45.5 35.9h2.3M45.6 33.6h2.3M45.7 38.2h2.3M45.8 50h2.3M45.9 36.2h2.3M46 47.9h2.3M46.1 35.7h2.3M46.2 53.9h2.3M46.3 36.3h2.3M46.4 45.2h2.3M46.5 56.8h2.3M46.6 48.7h2.3M46.7 45.8h2.3M46.8 44.3h2.3M46.9 56h2.3M47.1 61.1h2.3M47.2 46.2h2.3M47.3 52.7h2.3M47.4 46.8h2.3M47.5 42.5h2.3M47.6 64.5h2.3M47.7 47.9h2.3M47.8 39.7h2.3M47.9 53.7h2.3M48 58.7h2.3M48.1 45.1h2.3M48.2 50h2.3M48.3 44.6h2.3M48.4 56h2.3M48.5 66.5h2.3M48.6 54.7h2.3M48.7 58h2.3M48.8 47.5h2.3M48.9 53h2.3M49 69.4h2.3M49.1 65.9h2.3M49.2 47.9h2.3M49.3 50h2.3M49.4 61.9h2.3M49.5 56.6h2.3M49.6 53h2.3M49.7 53.1h2.3M49.8 49.8h2.3M49.9 55.6h2.3M50 58.9h2.3M50.1 60.6h2.3M50.2 49.5h2.3M50.3 78.6h2.3M50.4 60.4h2.3M50.5 59.2h2.3M50.6 72.2h2.3M50.7 57.2h2.3M50.8 66h2.3M50.9 53.1h2.3M51 62h2.3M51.1 53.3h2.3M51.2 50.9h2.3M51.3 58.4h2.3M51.4 69.5h2.3M51.5 75.3h2.3M51.6 47.3h2.3M51.7 63.7h2.3M51.8 68.9h2.3M51.9 62h2.3M52 65.1h2.3M52.1 56.4h2.3M52.2 63.7h2.3M52.3 64.1h2.3M52.4 70.6h2.3M52.5 60.7h2.3M52.6 73.8h2.3M52.7 59.5h2.3M52.8 52.4h2.3M52.9 78.6h2.3M53 86.9h2.3M53.1 60.8h2.3M53.2 44.6h2.3M53.3 75.1h2.3M53.4 77.4h2.3M53.5 62h2.3M53.7 74.4h2.3M53.8 71.7h2.3M53.9 70.6h2.3M54 63.4h2.3M54.1 71.5h2.3M54.2 66h2.3M54.3 70h2.3M54.4 75.9h2.3M54.5 71.7h2.3M54.6 77.2h2.3M54.7 69.3h2.3M54.8 79.1h2.3M54.9 79h2.3M55 57.8h2.3M55.1 70.7h2.3M55.2 70.9h2.3M55.3 66.4h2.3M55.4 74.4h2.3M55.5 73h2.3M55.6 67.7h2.3M55.7 69.1h2.3M55.8 81.4h2.3M55.9 64.9h2.3M56 77h2.3M56.1 81.1h2.3M56.2 80h2.3M56.3 75.9h2.3M56.4 59.3h2.3M56.5 82.8h2.3M56.6 71.9h2.3M56.7 91.2h2.3M56.8 73.6h2.3M56.9 66.3h2.3M57 76h2.3M57.1 79.4h2.3M57.2 72.5h2.3M57.3 68.8h2.3M57.4 69.3h2.3M57.5 58.6h2.3M57.6 73.4h2.3M57.7 80.2h2.3M57.8 76.5h2.3M57.9 76.3h2.3M58 74.9h2.3M58.1 76.3h2.3M58.2 74.8h2.3M58.3 90.1h2.3M58.4 69.8h2.3M58.5 81.5h2.3M58.6 86.6h2.3M58.7 71.9h2.3M58.8 66.6h2.3M58.9 73.5h2.3M59 76.4h2.3M59.1 85.5h2.3M59.2 56.1h2.3M59.3 71.1h2.3M59.4 87.7h2.3M59.5 85h2.3M59.6 78.1h2.3M59.7 91.6h2.3M59.8 77.8h2.3M59.9 83h2.3M60 69.6h2.3M60.1 72h2.3M60.3 101.6h2.3M60.4 79.7h2.3M60.5 93.2h2.3M60.6 71.5h2.3M60.7 79.2h2.3M60.8 76.3h2.3M60.9 89.4h2.3M61 66.5h2.3M61.1 65.1h2.3M61.2 89.9h2.3M61.3 78.6h2.3M61.4 87.1h2.3M61.5 82.1h2.3M61.6 92.1h2.3M61.7 67.4h2.3M61.8 90h2.3M61.9 84.9h2.3M62 78.7h2.3M62.1 87.9h2.3M62.2 84.9h2.3M62.3 87.6h2.3M62.4 84.3h2.3M62.5 92.6h2.3M62.6 87h2.3M62.7 85.4h2.3M62.8 86.5h2.3M62.9 83.6h2.3M63 86.5h2.3M63.1 78.5h2.3M63.2 87h2.3M63.3 85.7h2.3M63.4 89.9h2.3M63.5 89h2.3M63.6 94.9h2.3M63.7 81.2h2.3M63.8 94.2h2.3M63.9 93.3h2.3M64 82.8h2.3M64.1 82.6h2.3M64.2 89h2.3M64.3 101.5h2.3M64.4 82.9h2.3M64.5 84.3h2.3M64.6 97.2h2.3M64.7 80.6h2.3M64.8 92h2.3M64.9 95.4h2.3M65 86.2h2.3M65.1 88.4h2.3M65.2 85.6h2.3M65.3 99.5h2.3M65.4 73.7h2.3M65.5 92.1h2.3M65.6 99.4h2.3M65.7 83.1h2.3M65.8 90.6h2.3M65.9 85.6h2.3M66 90.7h2.3M66.1 88.7h2.3M66.2 86.6h2.3M66.3 94.2h2.3M66.4 83.6h2.3M66.5 92.3h2.3M66.6 95.4h2.3M66.7 88.4h2.3M66.9 85.8h2.3M67 91h2.3M67.1 95.8h2.3M67.2 84.9h2.3M67.3 102.7h2.3M67.4 97.4h2.3M67.5 89.4h2.3M67.6 100.1h2.3M67.7 89.8h2.3M67.8 90.6h2.3M67.9 83.6h2.3M68 99.5h2.3M68.1 95.1h2.3M68.2 88.1h2.3M68.3 108.9h2.3M68.4 70.9h2.3M68.5 96.1h2.3M68.6 96.5h2.3M68.7 84.9h2.3M68.8 91.6h2.3M68.9 104.5h2.3M69 87h2.3M69.1 85.5h2.3M69.2 95.2h2.3M69.3 94h2.3M69.4 88.6h2.3M69.5 98.9h2.3M69.6 89.2h2.3M69.7 91h2.3M69.8 97.5h2.3M69.9 102.8h2.3M70 94.5h2.3M70.1 101.5h2.3M70.2 85.8h2.3M70.3 92.1h2.3M70.4 87.6h2.3M70.5 92.4h2.3M70.6 91.6h2.3M70.7 99.2h2.3M70.8 88.9h2.3M70.9 81h2.3M71 96.1h2.3M71.1 98.3h2.3M71.2 95.3h2.3M71.3 97.7h2.3M71.4 99.3h2.3M71.5 93.4h2.3M71.6 96.6h2.3M71.7 84.4h2.3M71.8 94.7h2.3M71.9 92.5h2.3M72 85.8h2.3M72.1 97.1h2.3M72.2 84.9h2.3M72.3 99.7h2.3M72.4 101h2.3M72.5 98h2.3M72.6 96.3h2.3M72.7 105.4h2.3M72.8 95.9h2.3M72.9 111.6h2.3M73 86h2.3M73.1 96.5h2.3M73.2 100.5h2.3M73.3 102.5h2.3M73.5 98.9h2.3M73.6 97.8h2.3M73.7 103.7h2.3M73.8 102.9h2.3M73.9 97.8h2.3M74 100.2h2.3M74.1 90.1h2.3M74.2 88.8h2.3M74.3 96.7h2.3M74.4 93.6h2.3M74.5 106.3h2.3M74.6 92.7h2.3M74.7 97.4h2.3M74.8 93.9h2.3M74.9 86.3h2.3M75 113.2h2.3M75.1 95.7h2.3M75.2 105.2h2.3M75.3 93.6h2.3M75.4 106.8h2.3M75.5 101.2h2.3M75.6 96.5h2.3M75.7 93.8h2.3M75.8 97.6h2.3M75.9 103.6h2.3M76 102h2.3M76.1 92.3h2.3M76.2 98.4h2.3M76.3 110h2.3M76.4 92.8h2.3M76.5 95.8h2.3M76.6 92.8h2.3M76.7 101.1h2.3M76.8 93.3h2.3M76.9 106.2h2.3M77 95.2h2.3M77.1 102.5h2.3M77.2 94.6h2.3M77.3 92.5h2.3M77.4 104.4h2.3M77.5 99.8h2.3M77.6 99.3h2.3M77.7 91.6h2.3M77.8 94.9h2.3M77.9 108h2.3M78 96.8h2.3M78.1 95h2.3M78.2 85.8h2.3M78.3 111.4h2.3M78.4 105.1h2.3M78.5 91.4h2.3M78.6 109.4h2.3M78.7 108.5h2.3M78.8 97.1h2.3M78.9 93.8h2.3M79 105.1h2.3M79.1 97.2h2.3M79.2 100.1h2.3M79.3 90.8h2.3M79.4 101h2.3M79.5 94.5h2.3M79.6 107.2h2.3M79.7 102.5h2.3M79.8 102h2.3M79.9 93.9h2.3M80.1 97.7h2.3M80.2 106.5h2.3M80.3 97.1h2.3M80.4 96.6h2.3M80.5 102.5h2.3M80.6 103.6h2.3M80.7 103.2h2.3M80.8 113.2h2.3M80.9 100.9h2.3M81 100.7h2.3M81.1 107.9h2.3M81.2 97.5h2.3M81.3 111.4h2.3M81.4 106.1h2.3M81.5 105.7h2.3M81.6 85.2h2.3M81.7 113.1h2.3M81.8 99.2h2.3M81.9 96.8h2.3M82 100.5h2.3M82.1 95.4h2.3M82.2 109.6h2.3M82.3 117.9h2.3M82.4 98.3h2.3M82.5 111.1h2.3M82.6 105.5h2.3M82.7 111.1h2.3M82.8 96.8h2.3M82.9 98.1h2.3M83 108.4h2.3M83.1 98h2.3M83.2 103.1h2.3M83.3 104.8h2.3M83.4 103.7h2.3M83.5 105.4h2.3M83.6 100.3h2.3M83.7 102.3h2.3M83.8 106.6h2.3M83.9 98h2.3M84 108.4h2.3M84.1 102.7h2.3M84.2 101.9h2.3M84.3 95.3h2.3M84.4 108h2.3M84.5 93.8h2.3M84.6 103.8h2.3M84.7 106.2h2.3M84.8 109.3h2.3M84.9 101.4h2.3M85 104.9h2.3M85.1 112.2h2.3M85.2 112.5h2.3M85.3 108.9h2.3M85.4 109.7h2.3M85.5 98.7h2.3M85.6 97h2.3M85.7 100.3h2.3M85.8 103.6h2.3M85.9 108.5h2.3M86 105.6h2.3M86.1 100.5h2.3M86.2 92.8h2.3M86.3 100.5h2.3M86.4 108.6h2.3M86.5 106.1h2.3M86.7 109.4h2.3M86.8 111.3h2.3M86.9 107.6h2.3M87 105.4h2.3M87.1 95.3h2.3M87.2 106.4h2.3M87.3 98.4h2.3M87.4 96h2.3M87.5 106.4h2.3M87.6 97.1h2.3M87.7 102.7h2.3M87.8 109.7h2.3M87.9 105.6h2.3M88 107.1h2.3M88.1 108.8h2.3M88.2 108.6h2.3M88.3 106.6h2.3M88.4 104.9h2.3M88.5 113h2.3M88.6 107.8h2.3M88.7 117.1h2.3M88.8 106.3h2.3M88.9 104.1h2.3M89 107h2.3M89.1 106.3h2.3M89.2 104.6h2.3M89.3 112.2h2.3M89.4 109.7h2.3M89.5 105.3h2.3M89.6 102.4h2.3M89.7 106.1h2.3M89.8 93.2h2.3M89.9 109.2h2.3M90 102.7h2.3M90.1 101.2h2.3M90.2 109.7h2.3M90.3 113.9h2.3M90.4 116.1h2.3M90.5 108.1h2.3M90.6 102.5h2.3M90.7 107h2.3M90.8 108.3h2.3M90.9 111.6h2.3M91 106.1h2.3M91.1 122.2h2.3M91.2 108.2h2.3M91.3 109.5h2.3M91.4 117.8h2.3M91.5 96.9h2.3M91.6 118.1h2.3M91.7 116.3h2.3M91.8 117.1h2.3M91.9 103.5h2.3M92 115.4h2.3M92.1 106.3h2.3M92.2 106.8h2.3M92.3 108.8h2.3M92.4 118.1h2.3M92.5 114.1h2.3M92.6 100.7h2.3M92.7 118.2h2.3M92.8 115.5h2.3M92.9 111.7h2.3M93 106.1h2.3M93.1 109.4h2.3M93.3 106.6h2.3M93.4 117.2h2.3M93.5 105.6h2.3M93.6 107.8h2.3M93.7 120.5h2.3M93.8 102.4h2.3M93.9 98.1h2.3M94 115.9h2.3M94.1 111.2h2.3M94.2 103.5h2.3M94.3 120.2h2.3M94.4 123.1h2.3M94.5 119.2h2.3M94.6 115.1h2.3M94.7 115.2h2.3M94.8 108.4h2.3M94.9 110.5h2.3M95 119.2h2.3M95.1 108.9h2.3M95.2 101.5h2.3M95.3 105.4h2.3M95.4 106.6h2.3M95.5 112.2h2.3M95.6 106.8h2.3M95.7 118h2.3M95.8 108.3h2.3M95.9 113.1h2.3M96 106.2h2.3M96.1 110.1h2.3M96.2 119h2.3M96.3 112.1h2.3M96.4 106h2.3M96.5 119.3h2.3M96.6 116.2h2.3M96.7 117.4h2.3M96.8 121.6h2.3M96.9 107.8h2.3M97 105.9h2.3M97.1 108.8h2.3M97.2 112h2.3M97.3 113.7h2.3M97.4 112.1h2.3M97.5 117.6h2.3M97.6 108.6h2.3M97.7 107.8h2.3M97.8 108.5h2.3M97.9 116.7h2.3M98 113.3h2.3M98.1 114.8h2.3M98.2 103.9h2.3M98.3 112.9h2.3M98.4 124.4h2.3M98.5 111.8h2.3M98.6 103.7h2.3M98.7 110.3h2.3M98.8 109.3h2.3M98.9 114h2.3M99 125.1h2.3M99.1 124.2h2.3M99.2 121.1h2.3M99.3 115h2.3M99.4 112.6h2.3M99.5 110.5h2.3M99.6 116.2h2.3M99.8 109.1h2.3M99.9 115.9h2.3M100 118.3h2.3M100.1 109.7h2.3M100.2 119.5h2.3M100.3 129.4h2.3M100.4 120.3h2.3M100.5 114h2.3M100.6 129.4h2.3M100.7 116.5h2.3M100.8 116.4h2.3M100.9 122.4h2.3M101 122.7h2.3M101.1 118h2.3M101.2 117.6h2.3M101.3 107.7h2.3M101.4 112.6h2.3M101.5 123.4h2.3M101.6 119.4h2.3M101.7 110.8h2.3M101.8 104.2h2.3M101.9 111.8h2.3M102 113h2.3M102.1 104.5h2.3M102.2 114.9h2.3M102.3 116.5h2.3M102.4 122.6h2.3M102.5 117.6h2.3M102.6 102.8h2.3M102.7 122.7h2.3M102.8 114.8h2.3M102.9 122.6h2.3M103 114.1h2.3M103.1 110h2.3M103.2 116.2h2.3M103.3 110.9h2.3M103.4 110.9h2.3M103.5 112.5h2.3M103.6 105.5h2.3M103.7 110.6h2.3M103.8 116.6h2.3M103.9 118.7h2.3M104 119.6h2.3M104.1 112.4h2.3M104.2 116.8h2.3M104.3 100.1h2.3M104.4 104.9h2.3M104.5 116.6h2.3M104.6 116.9h2.3M104.7 105.7h2.3M104.8 125.4h2.3M104.9 117.6h2.3M105 109.8h2.3M105.1 120.1h2.3M105.2 117.7h2.3M105.3 117h2.3M105.4 111.5h2.3M105.5 114.4h2.3M105.6 112.9h2.3M105.7 111.9h2.3M105.8 115h2.3M105.9 109.1h2.3M106 119.2h2.3M106.1 123.1h2.3M106.2 125h2.3M106.4 124.1h2.3M106.5 118.3h2.3M106.6 109.6h2.3M106.7 114.3h2.3M106.8 118.5h2.3M106.9 121.1h2.3M107 118.2h2.3M107.1 117.5h2.3M107.2 118.4h2.3M107.3 123.2h2.3M107.4 117.9h2.3M107.5 109.7h2.3M107.6 127.3h2.3M107.7 116.7h2.3M107.8 127h2.3M107.9 114.3h2.3M108 119.5h2.3M108.1 126.8h2.3M108.2 114.8h2.3M108.3 105.4h2.3M108.4 114.8h2.3M108.5 109h2.3M108.6 115.8h2.3M108.7 127.3h2.3M108.8 112.7h2.3M108.9 117.7h2.3M109 123.5h2.3M109.1 111.1h2.3M109.2 113.9h2.3M109.3 118.3h2.3M109.4 110.7h2.3M109.5 120.3h2.3M109.6 111.9h2.3M109.7 120.7h2.3M109.8 112.6h2.3M109.9 123.7h2.3M110 107.3h2.3M110.1 114.1h2.3M110.2 107.7h2.3M110.3 120.1h2.3M110.4 118.2h2.3M110.5 110.9h2.3M110.6 130.4h2.3M110.7 121.4h2.3M110.8 109.9h2.3M110.9 113h2.3M111 110.2h2.3M111.1 117.3h2.3M111.2 112.5h2.3M111.3 119.6h2.3M111.4 123.1h2.3M111.5 124.9h2.3M111.6 118.7h2.3M111.7 118.6h2.3M111.8 119.1h2.3M111.9 130.5h2.3M112 126.6h2.3M112.1 118.6h2.3M112.2 114.1h2.3M112.3 118.8h2.3M112.4 120.5h2.3M112.5 128.4h2.3M112.6 104.6h2.3M112.7 121.7h2.3M112.8 106.4h2.3M113 107.1h2.3M113.1 114.2h2.3M113.2 118.8h2.3M113.3 115h2.3M113.4 124.3h2.3M113.5 114.3h2.3M113.6 115.7h2.3M113.7 112.8h2.3M113.8 108.7h2.3M113.9 106.2h2.3M114 117.9h2.3M114.1 110h2.3M114.2 120.1h2.3M114.3 120.7h2.3M114.4 119.1h2.3M114.5 121.2h2.3M114.6 110.4h2.3M114.7 110.7h2.3M114.8 108.8h2.3M114.9 115.9h2.3M115 114.3h2.3M115.1 119h2.3M115.2 122.1h2.3M115.3 113.3h2.3M115.4 114.3h2.3M115.5 121.9h2.3M115.6 111.5h2.3M115.7 125.4h2.3M115.8 116.8h2.3M115.9 119.3h2.3M116 118.7h2.3M116.1 121.8h2.3M116.2 110.6h2.3M116.3 112.7h2.3M116.4 109.3h2.3M116.5 115.1h2.3M116.6 122.9h2.3M116.7 117.9h2.3M116.8 122.4h2.3M116.9 113.4h2.3M117 109.2h2.3M117.1 114.1h2.3M117.2 120.4h2.3M117.3 117.9h2.3M117.4 114.8h2.3M117.5 123.8h2.3M117.6 115.1h2.3M117.7 114.8h2.3M117.8 118.9h2.3M117.9 118.2h2.3M118 115h2.3M118.1 120.4h2.3M118.2 122.1h2.3M118.3 111.7h2.3M118.4 114.7h2.3M118.5 106.7h2.3M118.6 121.4h2.3M118.7 125.7h2.3M118.8 110.8h2.3M118.9 110.7h2.3M119 120h2.3M119.1 124h2.3M119.2 116.2h2.3M119.3 125.6h2.3M119.4 117.9h2.3M119.6 128h2.3M119.7 117.4h2.3M119.8 127.7h2.3M119.9 117.4h2.3M120 107.8h2.3M120.1 117.6h2.3M120.2 111.9h2.3M120.3 119.6h2.3M120.4 121h2.3M120.5 124.4h2.3M120.6 110.5h2.3M120.7 116.5h2.3M120.8 107.3h2.3M120.9 122.7h2.3M121 117.4h2.3M121.1 115.8h2.3M121.2 108.5h2.3M121.3 106.3h2.3M121.4 119.8h2.3M121.5 122.5h2.3M121.6 125.8h2.3M121.7 109h2.3M121.8 116.8h2.3M121.9 119.9h2.3M122 116.6h2.3M122.1 130.4h2.3M122.2 125.8h2.3M122.3 111.3h2.3M122.4 114.2h2.3M122.5 115.6h2.3M122.6 121.9h2.3M122.7 113.2h2.3M122.8 106.7h2.3M122.9 123.1h2.3M123 116.4h2.3M123.1 118.8h2.3M123.2 114.5h2.3M123.3 116.4h2.3M123.4 117.3h2.3M123.5 121.3h2.3M123.6 116.6h2.3M123.7 119.9h2.3M123.8 117.3h2.3M123.9 116.8h2.3M124 112.9h2.3M124.1 119.7h2.3M124.2 118.3h2.3M124.3 110.7h2.3M124.4 117.7h2.3M124.5 118h2.3M124.6 111.8h2.3M124.7 114.6h2.3M124.8 116.1h2.3M124.9 115.4h2.3M125 123.3h2.3M125.1 114h2.3M125.2 109.3h2.3M125.3 113.4h2.3M125.4 125.1h2.3M125.5 115h2.3M125.6 121.5h2.3M125.7 117.8h2.3M125.8 115.9h2.3M125.9 123.1h2.3M126 109.2h2.3M126.2 116.9h2.3M126.3 112.2h2.3M126.4 113.1h2.3M126.5 106.7h2.3M126.6 110h2.3M126.7 124.6h2.3M126.8 116.3h2.3M126.9 128.2h2.3M127 119h2.3M127.1 112.6h2.3M127.2 109.9h2.3M127.3 109.5h2.3M127.4 118.6h2.3M127.5 114.3h2.3M127.6 116h2.3M127.7 109.6h2.3M127.8 107.9h2.3M127.9 119.3h2.3M128 101.6h2.3M128.1 116.6h2.3M128.2 118.6h2.3M128.3 113.3h2.3M128.4 112.5h2.3M128.5 113.6h2.3M128.6 120.2h2.3M128.7 108.6h2.3M128.8 116.3h2.3M128.9 108.2h2.3M129 109h2.3M129.1 123.6h2.3M129.2 122h2.3M129.3 122.1h2.3M129.4 115.3h2.3M129.5 116.3h2.3M129.6 115.1h2.3M129.7 121.1h2.3M129.8 114.3h2.3M129.9 108.9h2.3M130 123.9h2.3M130.1 118.1h2.3M130.2 115.2h2.3M130.3 117.3h2.3M130.4 117.6h2.3M130.5 106.9h2.3M130.6 109.5h2.3M130.7 111.9h2.3M130.8 120.7h2.3M130.9 104.2h2.3M131 114.5h2.3M131.1 119.6h2.3M131.2 118.3h2.3M131.3 119.1h2.3M131.4 104.8h2.3M131.5 115.2h2.3M131.6 116h2.3M131.7 128.1h2.3M131.8 112.2h2.3M131.9 124h2.3M132 122.3h2.3M132.1 112.7h2.3M132.2 120.8h2.3M132.3 111.4h2.3M132.4 109.8h2.3M132.5 125.7h2.3M132.6 116.6h2.3M132.8 124.4h2.3M132.9 116.1h2.3M133 110.6h2.3M133.1 123.1h2.3M133.2 105.6h2.3M133.3 117.1h2.3M133.4 121.8h2.3M133.5 115.9h2.3M133.6 110.8h2.3M133.7 122.6h2.3M133.8 114.9h2.3M133.9 122.4h2.3M134 108h2.3M134.1 113.7h2.3M134.2 116.7h2.3M134.3 108.5h2.3M134.4 121.3h2.3M134.5 116.2h2.3M134.6 103.8h2.3M134.7 114.6h2.3M134.8 106.3h2.3M134.9 112.7h2.3M135 117.5h2.3M135.1 114.9h2.3M135.2 113h2.3M135.3 115.5h2.3M135.4 116.9h2.3M135.5 116.5h2.3M135.6 119.6h2.3M135.7 112h2.3M135.8 110.5h2.3M135.9 108.7h2.3M136 120.4h2.3M136.1 108h2.3M136.2 111.6h2.3M136.3 118h2.3M136.4 110.7h2.3M136.5 107.1h2.3M136.6 108.3h2.3M136.7 107.2h2.3M136.8 104.4h2.3M136.9 106h2.3M137 110.3h2.3M137.1 119.7h2.3M137.2 113.3h2.3M137.3 107.9h2.3M137.4 111.6h2.3M137.5 105.9h2.3M137.6 103.8h2.3M137.7 108.4h2.3M137.8 99.5h2.3M137.9 112.8h2.3M138 103.5h2.3M138.1 110h2.3M138.2 111.3h2.3M138.3 104.5h2.3M138.4 110.1h2.3M138.5 102.9h2.3M138.6 114.3h2.3M138.7 106.5h2.3M138.8 110.5h2.3M138.9 107.5h2.3M139 108h2.3M139.1 111.5h2.3M139.2 102.8h2.3M139.4 111.8h2.3M139.5 110.4h2.3M139.6 101.3h2.3M139.7 100.8h2.3M139.8 102.1h2.3M139.9 103.6h2.3M140 94.2h2.3M140.1 113h2.3M140.2 108.7h2.3M140.3 109.9h2.3M140.4 100.8h2.3M140.5 103.8h2.3M140.6 100h2.3M140.7 100.8h2.3M140.8 106.8h2.3M140.9 109.8h2.3M141 110.9h2.3M141.1 95.9h2.3M141.2 102.2h2.3M141.3 104.3h2.3M141.4 109.1h2.3M141.5 108.8h2.3M141.6 109.9h2.3M141.7 110.2h2.3M141.8 120.4h2.3M141.9 109.9h2.3M142 111.7h2.3M142.1 109.2h2.3M142.2 110.2h2.3M142.3 108h2.3M142.4 112.8h2.3M142.5 109.8h2.3M142.6 126.1h2.3M142.7 120.1h2.3M142.8 107.9h2.3M142.9 122.1h2.3M143 118.6h2.3M143.1 114.9h2.3M143.2 122.8h2.3M143.3 116.3h2.3M143.4 126.7h2.3M143.5 133.9h2.3M143.6 131.1h2.3M143.7 133.6h2.3M143.8 124.6h2.3M143.9 126.9h2.3M144 123.6h2.3M144.1 132h2.3M144.2 111.8h2.3M144.3 127.5h2.3M144.4 127.7h2.3M144.5 125.2h2.3M144.6 129.6h2.3M144.7 132.1h2.3M144.8 128.2h2.3M144.9 123.7h2.3M145 125.4h2.3M145.1 124h2.3M145.2 132.8h2.3M145.3 134.1h2.3M145.4 118.5h2.3M145.5 131.4h2.3M145.6 126.6h2.3M145.7 126.2h2.3M145.8 122.5h2.3M146 138.3h2.3M146.1 133.5h2.3M146.2 133.3h2.3M146.3 132.7h2.3M146.4 144.7h2.3M146.5 131.7h2.3M146.6 146.4h2.3M146.7 129.7h2.3M146.8 128.4h2.3M146.9 128.2h2.3M147 138.4h2.3M147.1 126.3h2.3M147.2 136.6h2.3M147.3 138.7h2.3M147.4 137.4h2.3M147.5 136.7h2.3M147.6 131h2.3M147.7 127.4h2.3M147.8 143.9h2.3M147.9 135.2h2.3M148 127.2h2.3M148.1 131.1h2.3M148.2 129.5h2.3M148.3 140.7h2.3M148.4 127.1h2.3M148.5 141.2h2.3M148.6 131.4h2.3M148.7 124.9h2.3M148.8 122h2.3M148.9 129.7h2.3M149 127.7h2.3M149.1 136h2.3M149.2 135.3h2.3M149.3 126.1h2.3M149.4 132.7h2.3M149.5 133.4h2.3M149.6 140.6h2.3M149.7 131.9h2.3M149.8 129.2h2.3M149.9 137.2h2.3M150 135.7h2.3M150.1 124.1h2.3M150.2 131.9h2.3M150.3 134.5h2.3M150.4 139.3h2.3M150.5 136.4h2.3M150.6 134.4h2.3M150.7 125.4h2.3M150.8 136.4h2.3M150.9 123.1h2.3M151 138.3h2.3M151.1 135.1h2.3M151.2 128.4h2.3M151.3 134.5h2.3M151.4 137.8h2.3M151.5 133.9h2.3M151.6 130.7h2.3M151.7 142.8h2.3M151.8 134.7h2.3M151.9 133.9h2.3M152 135.6h2.3M152.1 129.3h2.3M152.2 136.5h2.3M152.3 135.4h2.3M152.4 133.2h2.3M152.6 129.4h2.3M152.7 134.7h2.3M152.8 125.1h2.3M152.9 138.6h2.3M153 126.4h2.3M153.1 138.3h2.3M153.2 134.5h2.3M153.3 131.6h2.3M153.4 122.2h2.3M153.5 128.7h2.3M153.6 135.9h2.3M153.7 126.5h2.3M153.8 134.9h2.3M153.9 138.1h2.3M154 131.3h2.3M154.1 133.3h2.3M154.2 128.5h2.3M154.3 136.9h2.3M154.4 131.7h2.3M154.5 130.3h2.3M154.6 132.3h2.3M154.7 134.1h2.3M154.8 137.8h2.3M154.9 128.9h2.3M155 133.2h2.3M155.1 131.2h2.3M155.2 135.9h2.3M155.3 134h2.3M155.4 139.8h2.3M155.5 133.6h2.3M155.6 129.8h2.3M155.7 133.6h2.3M155.8 129.4h2.3M155.9 132.4h2.3M156 126.6h2.3M156.1 135.2h2.3M156.2 143.3h2.3M156.3 131.8h2.3M156.4 135.2h2.3M156.5 139.6h2.3M156.6 130.7h2.3M156.7 132.8h2.3M156.8 131.9h2.3M156.9 136.2h2.3M157 133.3h2.3M157.1 133h2.3M157.2 124.6h2.3M157.3 138.2h2.3M157.4 134.5h2.3M157.5 132.4h2.3M157.6 144h2.3M157.7 143.3h2.3M157.8 122.5h2.3M157.9 144.3h2.3M158 131.4h2.3M158.1 139.2h2.3M158.2 138.8h2.3M158.3 145.5h2.3M158.4 139.6h2.3M158.5 130.3h2.3M158.6 142.3h2.3M158.7 130.2h2.3M158.8 132.9h2.3M158.9 123.5h2.3M159.1 137.3h2.3M159.2 127.7h2.3M159.3 129.8h2.3M159.4 136.3h2.3M159.5 143.9h2.3M159.6 126.5h2.3M159.7 142.3h2.3M159.8 137.4h2.3M159.9 130h2.3M160 128.7h2.3M160.1 139.5h2.3M160.2 135h2.3M160.3 136.3h2.3M160.4 128.4h2.3M160.5 121.1h2.3M160.6 145h2.3M160.7 129.9h2.3M160.8 149.8h2.3M160.9 134.9h2.3M161 141.1h2.3M161.1 124h2.3M161.2 134.1h2.3M161.3 139.1h2.3M161.4 137.8h2.3M161.5 138.2h2.3M161.6 133.7h2.3M161.7 136h2.3M161.8 131.5h2.3M161.9 126.6h2.3M162 131.3h2.3M162.1 141.9h2.3M162.2 144.1h2.3M162.3 139.3h2.3M162.4 129.4h2.3M162.5 137.1h2.3M162.6 138.9h2.3M162.7 134.5h2.3M162.8 143h2.3M162.9 141.5h2.3M163 132.5h2.3M163.1 137h2.3M163.2 137.8h2.3M163.3 133.6h2.3M163.4 138.5h2.3M163.5 139.1h2.3M163.6 137.9h2.3M163.7 132.1h2.3M163.8 135.1h2.3M163.9 142h2.3M164 137.1h2.3M164.1 131.9h2.3M164.2 125.2h2.3M164.3 141.7h2.3M164.4 133.6h2.3M164.5 136.9h2.3M164.6 131h2.3M164.7 133h2.3M164.8 127.4h2.3M164.9 132.7h2.3M165 138.5h2.3M165.1 138.5h2.3M165.2 133.3h2.3M165.3 133.4h2.3M165.4 122.4h2.3M165.5 126.4h2.3M165.7 142.1h2.3M165.8 133.7h2.3M165.9 142.9h2.3M166 144.7h2.3M166.1 131.6h2.3M166.2 132.6h2.3M166.3 141.4h2.3M166.4 126.7h2.3M166.5 141.1h2.3M166.6 142.1h2.3M166.7 132.2h2.3M166.8 134.5h2.3M166.9 136.6h2.3M167 136.1h2.3M167.1 134.1h2.3M167.2 136.6h2.3M167.3 136.7h2.3M167.4 146.2h2.3M167.5 143.2h2.3M167.6 132.5h2.3M167.7 139.7h2.3M167.8 132.9h2.3M167.9 129.1h2.3M168 137.8h2.3M168.1 134.3h2.3M168.2 124.5h2.3M168.3 132.1h2.3M168.4 125.8h2.3M168.5 127.5h2.3M168.6 130.4h2.3M168.7 136.6h2.3M168.8 140.6h2.3M168.9 142.1h2.3M169 133.3h2.3M169.1 133.4h2.3M169.2 137h2.3M169.3 131.4h2.3M169.4 139.3h2.3M169.5 130h2.3M169.6 135.8h2.3M169.7 136.3h2.3M169.8 136.1h2.3M169.9 136.6h2.3M170 122.5h2.3M170.1 144.9h2.3M170.2 135.1h2.3M170.3 129.3h2.3M170.4 132.2h2.3M170.5 137.8h2.3M170.6 126.6h2.3M170.7 144.1h2.3M170.8 143.3h2.3M170.9 133.1h2.3M171 144.1h2.3M171.1 149.2h2.3M171.2 131.4h2.3M171.3 132.1h2.3M171.4 132.2h2.3M171.5 138.9h2.3M171.6 135.3h2.3M171.7 141.5h2.3M171.8 126.8h2.3M171.9 132h2.3M172 132.2h2.3M172.1 147h2.3M172.3 131.9h2.3M172.4 128.2h2.3M172.5 129.7h2.3M172.6 132h2.3M172.7 136.4h2.3M172.8 138.2h2.3M172.9 133.1h2.3M173 134.3h2.3M173.1 135.1h2.3M173.2 138.1h2.3M173.3 127.2h2.3M173.4 142.8h2.3M173.5 136.6h2.3M173.6 139.6h2.3M173.7 130.8h2.3M173.8 128.7h2.3M173.9 129.7h2.3M174 132.4h2.3M174.1 144.1h2.3M174.2 125.1h2.3M174.3 133.7h2.3M174.4 137.1h2.3M174.5 136.4h2.3M174.6 138.4h2.3M174.7 134.2h2.3M174.8 134.9h2.3M174.9 138.5h2.3M175 150.6h2.3M175.1 136.8h2.3M175.2 134h2.3M175.3 133.7h2.3M175.4 137.5h2.3M175.5 134.2h2.3M175.6 131h2.3M175.7 139.2h2.3M175.8 128.7h2.3M175.9 147.3h2.3M176 143.5h2.3M176.1 141.6h2.3M176.2 150h2.3M176.3 142.2h2.3M176.4 129.9h2.3M176.5 130h2.3M176.6 136.2h2.3M176.7 127.4h2.3M176.8 135.4h2.3M176.9 139.5h2.3M177 135.5h2.3M177.1 137.5h2.3M177.2 132.8h2.3M177.3 145h2.3M177.4 131.4h2.3M177.5 139.3h2.3M177.6 132.2h2.3M177.7 145.2h2.3M177.8 139.1h2.3M177.9 136.4h2.3M178 132h2.3M178.1 143.5h2.3M178.2 127.8h2.3M178.3 134.3h2.3M178.4 139.8h2.3M178.5 130.3h2.3M178.6 136.4h2.3M178.7 130.6h2.3M178.9 124.3h2.3M179 132.8h2.3M179.1 139.8h2.3M179.2 139.3h2.3M179.3 133.8h2.3M179.4 135.4h2.3M179.5 141.5h2.3M179.6 140.6h2.3M179.7 133.4h2.3M179.8 124.3h2.3M179.9 151.4h2.3M180 133.1h2.3M180.1 138.2h2.3M180.2 132.8h2.3M180.3 132.4h2.3M180.4 136.8h2.3M180.5 142.6h2.3M180.6 144.7h2.3M180.7 147.3h2.3M180.8 130.5h2.3M180.9 138.3h2.3M181 140.1h2.3M181.1 138.7h2.3M181.2 144.5h2.3M181.3 135.5h2.3M181.4 130h2.3M181.5 131h2.3M181.6 145.7h2.3M181.7 129.8h2.3M181.8 141.4h2.3M181.9 147.6h2.3M182 143.9h2.3M182.1 142.5h2.3M182.2 137.3h2.3M182.3 142.9h2.3M182.4 145.5h2.3M182.5 138.7h2.3M182.6 126.9h2.3M182.7 141.1h2.3M182.8 134.8h2.3M182.9 136.9h2.3M183 122.9h2.3M183.1 147.7h2.3M183.2 131.4h2.3M183.3 144.4h2.3M183.4 140.6h2.3M183.5 137.9h2.3M183.6 122.8h2.3M183.7 141.6h2.3M183.8 147.7h2.3M183.9 130.4h2.3M184 142h2.3M184.1 138.8h2.3M184.2 137.6h2.3M184.3 137h2.3M184.4 138.4h2.3M184.5 136.1h2.3M184.6 135.4h2.3M184.7 131.3h2.3M184.8 139.9h2.3M184.9 141.6h2.3M185 143.4h2.3M185.1 134.4h2.3M185.2 137.9h2.3M185.3 134.6h2.3M185.5 134.7h2.3M185.6 128.5h2.3M185.7 136.5h2.3M185.8 133.6h2.3M185.9 144.2h2.3M186 143.5h2.3M186.1 139.4h2.3M186.2 144.3h2.3M186.3 134h2.3M186.4 144.9h2.3M186.5 137.4h2.3M186.6 151.1h2.3M186.7 143.7h2.3M186.8 139.6h2.3M186.9 139.2h2.3M187 147.5h2.3M187.1 137.2h2.3M187.2 132.5h2.3M187.3 134.3h2.3M187.4 141.4h2.3M187.5 141h2.3M187.6 144.3h2.3M187.7 134.4h2.3M187.8 130.1h2.3M187.9 140.7h2.3M188 147.1h2.3M188.1 136.8h2.3M188.2 134.1h2.3M188.3 152.5h2.3M188.4 137.2h2.3M188.5 126.2h2.3M188.6 133.5h2.3M188.7 135h2.3M188.8 135.8h2.3M188.9 132.2h2.3M189 143.1h2.3M189.1 142.6h2.3M189.2 135.8h2.3M189.3 141.7h2.3M189.4 136.1h2.3M189.5 148.4h2.3M189.6 133.9h2.3M189.7 133.5h2.3M189.8 137.8h2.3M189.9 136.9h2.3M190 129.3h2.3M190.1 143.9h2.3M190.2 143h2.3M190.3 144h2.3M190.4 140.4h2.3M190.5 143.6h2.3M190.6 137.9h2.3M190.7 141.7h2.3M190.8 146h2.3M190.9 146.5h2.3M191 131.6h2.3M191.1 138.6h2.3M191.2 139.4h2.3M191.3 138.1h2.3M191.4 138.7h2.3M191.5 134.1h2.3M191.6 135.2h2.3M191.7 141.4h2.3M191.8 142.7h2.3M191.9 144.1h2.3M192.1 145h2.3M192.2 130.7h2.3M192.3 143.2h2.3M192.4 149.2h2.3M192.5 142.9h2.3M192.6 142.6h2.3M192.7 136.5h2.3M192.8 143.1h2.3M192.9 135.5h2.3M193 136.3h2.3M193.1 131.5h2.3M193.2 126.7h2.3M193.3 123.8h2.3M193.4 131.1h2.3M193.5 146.8h2.3M193.6 140.6h2.3M193.7 137.1h2.3M193.8 127.3h2.3M193.9 134.8h2.3M194 131.9h2.3M194.1 139.4h2.3M194.2 135.3h2.3M194.3 134.6h2.3M194.4 140.9h2.3M194.5 132.8h2.3M194.6 132.7h2.3M194.7 139.4h2.3M194.8 133h2.3M194.9 129.6h2.3M195 138.2h2.3M195.1 138.5h2.3M195.2 140.2h2.3M195.3 141.9h2.3M195.4 137.7h2.3M195.5 140.8h2.3M195.6 140.3h2.3M195.7 142.8h2.3M195.8 146.9h2.3M195.9 143.7h2.3M196 136.8h2.3M196.1 145h2.3M196.2 142.1h2.3M196.3 129.8h2.3M196.4 132.6h2.3M196.5 142.4h2.3M196.6 135.4h2.3M196.7 142.2h2.3M196.8 129.9h2.3M196.9 141.8h2.3M197 138.3h2.3M197.1 131.2h2.3M197.2 143.2h2.3M197.3 131.7h2.3M197.4 143.1h2.3M197.5 137.5h2.3M197.6 140.3h2.3M197.7 139.2h2.3M197.8 137.6h2.3M197.9 139.2h2.3M198 144.3h2.3M198.1 134.1h2.3M198.2 134.9h2.3M198.3 131.9h2.3M198.4 131.4h2.3M198.5 146.1h2.3M198.7 131.9h2.3M198.8 131.9h2.3M198.9 141.7h2.3M199 133.3h2.3M199.1 131h2.3M199.2 141.8h2.3M199.3 146.3h2.3M199.4 140.8h2.3M199.5 124.4h2.3M199.6 137.6h2.3M199.7 145.4h2.3M199.8 140.3h2.3M199.9 144.3h2.3M200 141.1h2.3M200.1 138.4h2.3M200.2 152.7h2.3M200.3 137h2.3M200.4 131.4h2.3M200.5 140h2.3M200.6 141.1h2.3M200.7 133.1h2.3M200.8 145.8h2.3M200.9 145.7h2.3M201 146.5h2.3M201.1 139.9h2.3M201.2 136.9h2.3M201.3 139.5h2.3M201.4 136.1h2.3M201.5 134.6h2.3M201.6 135.5h2.3M201.7 143.4h2.3M201.8 140.5h2.3M201.9 132.4h2.3M202 144.7h2.3M202.1 140.5h2.3M202.2 141.4h2.3M202.3 140.1h2.3M202.4 144.9h2.3M202.5 146.4h2.3M202.6 125.4h2.3M202.7 134.1h2.3M202.8 143h2.3M202.9 139.5h2.3M203 135.6h2.3M203.1 141.1h2.3M203.2 135.9h2.3M203.3 142.5h2.3M203.4 141.2h2.3M203.5 139.7h2.3M203.6 141.7h2.3M203.7 152.4h2.3M203.8 139.2h2.3M203.9 137.9h2.3M204 136.7h2.3M204.1 144.6h2.3M204.2 137.5h2.3M204.3 138.2h2.3M204.4 148.8h2.3M204.5 151.1h2.3M204.6 136.8h2.3M204.7 144.5h2.3M204.8 134h2.3M204.9 127.9h2.3M205 143.6h2.3M205.1 143.1h2.3M205.3 139.5h2.3M205.4 135.8h2.3M205.5 145.5h2.3M205.6 132.7h2.3M205.7 134.1h2.3M205.8 135.9h2.3M205.9 142.3h2.3M206 134.5h2.3M206.1 134.9h2.3M206.2 145.9h2.3M206.3 128.3h2.3M206.4 141.1h2.3M206.5 137.5h2.3M206.6 142.3h2.3M206.7 137.5h2.3M206.8 133.3h2.3M206.9 143.9h2.3M207 148.4h2.3M207.1 142h2.3M207.2 146.6h2.3M207.3 143.6h2.3M207.4 140.3h2.3M207.5 139.9h2.3M207.6 132.7h2.3M207.7 145h2.3M207.8 137.7h2.3M207.9 142.3h2.3M208 132.3h2.3M208.1 126.1h2.3M208.2 138h2.3M208.3 130.7h2.3M208.4 142.5h2.3M208.5 148.2h2.3M208.6 146.5h2.3M208.7 148.2h2.3M208.8 144.8h2.3M208.9 141h2.3M209 133.6h2.3M209.1 136h2.3M209.2 137.3h2.3M209.3 142h2.3M209.4 143.6h2.3M209.5 139.6h2.3M209.6 139.1h2.3M209.7 138.4h2.3M209.8 137.8h2.3M209.9 140.4h2.3M210 150.1h2.3M210.1 145.8h2.3M210.2 144.3h2.3M210.3 130.8h2.3M210.4 142.2h2.3M210.5 135h2.3M210.6 132.1h2.3M210.7 138.1h2.3M210.8 142h2.3M210.9 141.5h2.3M211 145.4h2.3M211.1 138.3h2.3M211.2 133.9h2.3M211.3 136.9h2.3M211.4 135.8h2.3M211.5 136.1h2.3M211.6 129.3h2.3M211.8 143.4h2.3M211.9 139.2h2.3M212 136.2h2.3M212.1 133.4h2.3M212.2 153h2.3M212.3 142.8h2.3M212.4 141.2h2.3M212.5 145.6h2.3M212.6 135.6h2.3M212.7 138.9h2.3M212.8 142.2h2.3M212.9 148.8h2.3M213 147.2h2.3M213.1 145.4h2.3M213.2 137.7h2.3M213.3 146.7h2.3M213.4 151.2h2.3M213.5 147.9h2.3M213.6 143.3h2.3M213.7 131.3h2.3M213.8 126.9h2.3M213.9 142.8h2.3M214 135.2h2.3M214.1 132.8h2.3M214.2 133.4h2.3M214.3 140.9h2.3M214.4 147.2h2.3M214.5 142.9h2.3M214.6 150.2h2.3M214.7 139h2.3M214.8 136.2h2.3M214.9 150.4h2.3M215 140.6h2.3M215.1 138.8h2.3M215.2 133.7h2.3M215.3 133h2.3M215.4 136.1h2.3M215.5 144.1h2.3M215.6 142.4h2.3M215.7 134h2.3M215.8 143.7h2.3M215.9 140.7h2.3M216 132.1h2.3M216.1 139.8h2.3M216.2 147.8h2.3M216.3 142.1h2.3M216.4 137.1h2.3M216.5 141.5h2.3M216.6 134.3h2.3M216.7 133.7h2.3M216.8 144h2.3M216.9 143.2h2.3M217 141.1h2.3M217.1 147h2.3M217.2 138.6h2.3M217.3 141.6h2.3M217.4 136.4h2.3M217.5 143.8h2.3M217.6 145.3h2.3M217.7 130.9h2.3M217.8 145.3h2.3M217.9 143.8h2.3M218 144.6h2.3M218.1 142.3h2.3M218.2 145.6h2.3M218.4 141h2.3M218.5 144.5h2.3M218.6 143h2.3M218.7 138.8h2.3M218.8 137h2.3M218.9 138.3h2.3M219 144.7h2.3M219.1 138.7h2.3M219.2 141.5h2.3M219.3 141.4h2.3M219.4 150h2.3M219.5 137.3h2.3M219.6 141.6h2.3M219.7 131.8h2.3M219.8 137.5h2.3M219.9 146.8h2.3M220 148.2h2.3M220.1 134.8h2.3M220.2 145.6h2.3M220.3 137.3h2.3M220.4 142.6h2.3M220.5 129.8h2.3M220.6 140.6h2.3M220.7 133h2.3M220.8 133.9h2.3M220.9 143.5h2.3M221 142.8h2.3M221.1 133.2h2.3M221.2 141h2.3M221.3 145.7h2.3M221.4 134.7h2.3M221.5 127.4h2.3M221.6 141.2h2.3M221.7 133.6h2.3M221.8 141.9h2.3M221.9 133.8h2.3M222 142.3h2.3M222.1 134h2.3M222.2 138.1h2.3M222.3 142h2.3M222.4 139.8h2.3M222.5 143.9h2.3M222.6 147h2.3M222.7 146.6h2.3M222.8 141.3h2.3M222.9 146.6h2.3M223 138.7h2.3M223.1 138.2h2.3M223.2 138.5h2.3M223.3 143.7h2.3M223.4 140.7h2.3M223.5 141.2h2.3M223.6 134h2.3M223.7 145.3h2.3M223.8 143.1h2.3M223.9 142.3h2.3M224 141.8h2.3M224.1 145.1h2.3M224.2 144.4h2.3M224.3 135.7h2.3M224.4 144.5h2.3M224.5 136.3h2.3M224.6 130.4h2.3M224.7 134.4h2.3M224.8 150.7h2.3M225 137.1h2.3M225.1 138.7h2.3M225.2 138.3h2.3M225.3 149.8h2.3M225.4 137.2h2.3M225.5 147h2.3M225.6 134.4h2.3M225.7 135.6h2.3M225.8 127.8h2.3M225.9 143.4h2.3M226 149.4h2.3M226.1 135.8h2.3M226.2 136.8h2.3M226.3 143.4h2.3M226.4 134.2h2.3M226.5 137.8h2.3M226.6 148.2h2.3M226.7 143.3h2.3M226.8 143.8h2.3M226.9 142.1h2.3M227 140.5h2.3M227.1 145.2h2.3M227.2 142.6h2.3M227.3 138.4h2.3M227.4 141.9h2.3M227.5 143h2.3M227.6 143.2h2.3M227.7 142.1h2.3M227.8 151.7h2.3M227.9 140.8h2.3M228 147.1h2.3M228.1 141.1h2.3M228.2 149.4h2.3M228.3 136.8h2.3M228.4 140.4h2.3M228.5 148.8h2.3M228.6 140.5h2.3M228.7 145.7h2.3M228.8 132.2h2.3M228.9 139.2h2.3M229 146h2.3M229.1 140.6h2.3M229.2 142h2.3M229.3 135.5h2.3M229.4 139.9h2.3M229.5 138.1h2.3M229.6 147.7h2.3M229.7 137.7h2.3M229.8 130.8h2.3M229.9 138.5h2.3M230 142.1h2.3M230.1 140.6h2.3M230.2 146.9h2.3M230.3 140.9h2.3M230.4 147.7h2.3M230.5 141.7h2.3M230.6 144h2.3M230.7 146.3h2.3M230.8 138.9h2.3M230.9 149.8h2.3M231 142.2h2.3M231.1 149h2.3M231.2 132.4h2.3M231.3 131.7h2.3M231.4 137.6h2.3M231.6 132.1h2.3M231.7 139h2.3M231.8 139.2h2.3M231.9 144.4h2.3M232 146.8h2.3M232.1 141.5h2.3M232.2 145h2.3M232.3 144.5h2.3M232.4 138.4h2.3M232.5 142.9h2.3M232.6 150.4h2.3M232.7 143.4h2.3M232.8 146.3h2.3M232.9 143.8h2.3M233 148.1h2.3M233.1 136h2.3M233.2 132.3h2.3M233.3 150.1h2.3M233.4 138.9h2.3M233.5 139.2h2.3M233.6 148h2.3M233.7 141.6h2.3M233.8 135h2.3M233.9 138h2.3M234 133.9h2.3M234.1 148.6h2.3M234.2 146.4h2.3M234.3 141h2.3M234.4 140.6h2.3M234.5 142.4h2.3M234.6 144.6h2.3M234.7 144.7h2.3M234.8 145.8h2.3M234.9 140.2h2.3M235 157.1h2.3M235.1 131.2h2.3M235.2 145.4h2.3M235.3 150.2h2.3M235.4 139.8h2.3M235.5 150.1h2.3M235.6 140.7h2.3M235.7 144.9h2.3M235.8 139.7h2.3M235.9 138.6h2.3M236 136h2.3M236.1 145.4h2.3M236.2 144.4h2.3M236.3 142.9h2.3M236.4 150.3h2.3M236.5 139.8h2.3M236.6 142.2h2.3M236.7 149.9h2.3M236.8 136.6h2.3M236.9 135.8h2.3M237 149.9h2.3M237.1 140h2.3M237.2 136.5h2.3M237.3 138.6h2.3M237.4 148.2h2.3M237.5 150.4h2.3M237.6 143.7h2.3M237.7 145.7h2.3M237.8 143.1h2.3M237.9 143.7h2.3M238 140.4h2.3M238.2 146.1h2.3M238.3 144h2.3M238.4 129.2h2.3M238.5 143.9h2.3M238.6 139.4h2.3M238.7 141.7h2.3M238.8 142.1h2.3M238.9 148h2.3M239 140.5h2.3M239.1 143.6h2.3M239.2 139h2.3M239.3 132.6h2.3M239.4 142.4h2.3M239.5 139.4h2.3M239.6 148.7h2.3M239.7 142.8h2.3M239.8 135.3h2.3M239.9 143.7h2.3M240 146.8h2.3M240.1 142.4h2.3M240.2 144.4h2.3M240.3 144.7h2.3M240.4 145.4h2.3M240.5 133.1h2.3M240.6 148.1h2.3M240.7 145.7h2.3M240.8 146.5h2.3M240.9 137.1h2.3M241 145h2.3M241.1 136.8h2.3M241.2 142.7h2.3M241.3 143.7h2.3M241.4 151.3h2.3M241.5 137.3h2.3M241.6 140.8h2.3M241.7 141.6h2.3M241.8 144.3h2.3M241.9 145.9h2.3M242 150.3h2.3M242.1 138.8h2.3M242.2 142.3h2.3M242.3 145.6h2.3M242.4 147.1h2.3M242.5 143.2h2.3M242.6 144.3h2.3M242.7 135.2h2.3M242.8 139.8h2.3M242.9 146.9h2.3M243 149.6h2.3M243.1 145.1h2.3M243.2 148.6h2.3M243.3 143.5h2.3M243.4 141.8h2.3M243.5 140.6h2.3M243.6 141.7h2.3M243.7 144.9h2.3M243.8 140.8h2.3M243.9 148.6h2.3M244 144.4h2.3M244.1 139.7h2.3M244.2 142.5h2.3M244.3 150.6h2.3M244.4 150h2.3M244.5 152.4h2.3M244.6 134.6h2.3M244.8 152.1h2.3M244.9 144.7h2.3M245 134.5h2.3M245.1 138.4h2.3M245.2 137.2h2.3M245.3 146.7h2.3M245.4 140.2h2.3M245.5 130.2h2.3M245.6 144.3h2.3M245.7 142h2.3M245.8 145.8h2.3M245.9 144.2h2.3M246 142.2h2.3M246.1 136.9h2.3M246.2 148.8h2.3M246.3 151.6h2.3M246.4 144.1h2.3M246.5 143.1h2.3M246.6 136.9h2.3M246.7 140.5h2.3M246.8 147.5h2.3M246.9 141.3h2.3M247 138.5h2.3M247.1 142.8h2.3M247.2 146h2.3M247.3 140.8h2.3M247.4 146.2h2.3M247.5 154h2.3M247.6 137.4h2.3M247.7 151h2.3M247.8 146.1h2.3M247.9 146h2.3M248 146.1h2.3M248.1 145.9h2.3M248.2 151.9h2.3M248.3 141.7h2.3M248.4 144.3h2.3M248.5 144.3h2.3M248.6 138.9h2.3M248.7 138.8h2.3M248.8 137.6h2.3M248.9 135h2.3M249 142.2h2.3M249.1 152.5h2.3M249.2 143.5h2.3M249.3 144.5h2.3M249.4 144.3h2.3M249.5 147.7h2.3M249.6 149.2h2.3M249.7 140.5h2.3M249.8 139.6h2.3M249.9 150.5h2.3M250 141.9h2.3M250.1 145.6h2.3M250.2 146.7h2.3M250.3 141.2h2.3M250.4 145h2.3M250.5 147.6h2.3M250.6 144.5h2.3M250.7 155.1h2.3M250.8 147.9h2.3M250.9 147.1h2.3M251 152.1h2.3M251.1 143.9h2.3M251.2 143.5h2.3M251.4 148h2.3M251.5 145.8h2.3M251.6 141.4h2.3M251.7 139.5h2.3M251.8 148.9h2.3M251.9 143.2h2.3M252 139.6h2.3M252.1 145.2h2.3M252.2 149h2.3M252.3 149h2.3M252.4 146.7h2.3M252.5 150.4h2.3M252.6 134.7h2.3M252.7 148.1h2.3M252.8 143.2h2.3M252.9 144.2h2.3M253 141.9h2.3M253.1 147.2h2.3M253.2 151.9h2.3M253.3 136.8h2.3M253.4 145.6h2.3M253.5 144.6h2.3M253.6 144.2h2.3M253.7 138.8h2.3M253.8 141.3h2.3M253.9 139.2h2.3M254 141.1h2.3M254.1 144.5h2.3M254.2 144h2.3M254.3 149.2h2.3M254.4 155.4h2.3M254.5 146.6h2.3M254.6 150.9h2.3M254.7 132h2.3M254.8 137.4h2.3M254.9 139.4h2.3M255 148.3h2.3M255.1 134.8h2.3M255.2 154.2h2.3M255.3 151.7h2.3M255.4 149.5h2.3M255.5 150.4h2.3M255.6 144.8h2.3M255.7 144.5h2.3M255.8 135.7h2.3M255.9 140.4h2.3M256 139.2h2.3M256.1 143.4h2.3M256.2 146.3h2.3M256.3 149.1h2.3M256.4 153.4h2.3M256.5 150.1h2.3M256.6 147.6h2.3M256.7 141.7h2.3M256.8 154.3h2.3M256.9 152.7h2.3M257 144.5h2.3M257.1 151.1h2.3M257.2 143.9h2.3M257.3 147.8h2.3M257.4 149.6h2.3M257.5 152.6h2.3M257.6 146.2h2.3M257.7 149.5h2.3M257.8 148.9h2.3M258 149h2.3M258.1 144.8h2.3M258.2 145h2.3M258.3 154.6h2.3M258.4 146.6h2.3M258.5 143.7h2.3M258.6 140.4h2.3M258.7 141.8h2.3M258.8 144.7h2.3M258.9 151.7h2.3M259 149.8h2.3M259.1 141.1h2.3M259.2 149.4h2.3M259.3 140.6h2.3M259.4 139.3h2.3M259.5 151.3h2.3M259.6 143.6h2.3M259.7 146.5h2.3M259.8 135.5h2.3M259.9 141.6h2.3M260 148.5h2.3M260.1 143.8h2.3M260.2 150.6h2.3M260.3 146.7h2.3M260.4 144.9h2.3M260.5 145.2h2.3M260.6 143.8h2.3M260.7 150.6h2.3M260.8 155.5h2.3M260.9 147.8h2.3M261 150.6h2.3M261.1 149.6h2.3M261.2 135h2.3M261.3 140h2.3M261.4 146.9h2.3M261.5 153.4h2.3M261.6 152.7h2.3M261.7 144.2h2.3M261.8 140.5h2.3M261.9 147.5h2.3M262 145.4h2.3M262.1 144.8h2.3M262.2 140.6h2.3M262.3 155.7h2.3M262.4 145.3h2.3M262.5 144h2.3M262.6 141.2h2.3M262.7 144.1h2.3M262.8 151.8h2.3M262.9 149.1h2.3M263 154h2.3M263.1 145.2h2.3M263.2 145.2h2.3M263.3 143.6h2.3M263.4 151.2h2.3M263.5 152.1h2.3M263.6 138.4h2.3M263.7 145.3h2.3M263.8 137.3h2.3M263.9 144h2.3M264 153.8h2.3M264.1 142.2h2.3M264.2 140h2.3M264.3 148.6h2.3M264.4 156.2h2.3M264.6 143h2.3M264.7 147.1h2.3M264.8 145h2.3M264.9 160.2h2.3M265 144.1h2.3M265.1 160.3h2.3M265.2 150.9h2.3M265.3 142h2.3M265.4 155.9h2.3M265.5 156.1h2.3M265.6 148.9h2.3M265.7 135.2h2.3M265.8 138.4h2.3M265.9 150.9h2.3M266 141.6h2.3M266.1 143.8h2.3M266.2 145.5h2.3M266.3 145h2.3M266.4 150.6h2.3M266.5 142.8h2.3M266.6 141.5h2.3M266.7 133.2h2.3M266.8 142.4h2.3M266.9 160.9h2.3M267 153.3h2.3M267.1 145.5h2.3M267.2 146.8h2.3M267.3 156.8h2.3M267.4 148.1h2.3M267.5 149.2h2.3M267.6 147.7h2.3M267.7 148.2h2.3M267.8 142.9h2.3M267.9 140.2h2.3M268 144.3h2.3M268.1 153.4h2.3M268.2 152.2h2.3M268.3 151.3h2.3M268.4 148.3h2.3M268.5 150.3h2.3M268.6 150h2.3M268.7 153h2.3M268.8 143.6h2.3M268.9 144.2h2.3M269 143.8h2.3M269.1 149.1h2.3M269.2 146.5h2.3M269.3 153.5h2.3M269.4 153.1h2.3M269.5 150.9h2.3M269.6 145.3h2.3M269.7 149.2h2.3M269.8 154.4h2.3M269.9 147.1h2.3M270 145.5h2.3M270.1 146.9h2.3M270.2 151.3h2.3M270.3 147.7h2.3M270.4 150.3h2.3M270.5 149.9h2.3M270.6 148.9h2.3M270.7 144.8h2.3M270.8 139.6h2.3M270.9 141.1h2.3M271.1 146h2.3M271.2 151.4h2.3M271.3 151.1h2.3M271.4 151.2h2.3M271.5 144.3h2.3M271.6 163.8h2.3M271.7 149.4h2.3M271.8 160.9h2.3M271.9 151.4h2.3M272 145.1h2.3M272.1 156.5h2.3M272.2 163.7h2.3M272.3 146.5h2.3M272.4 145.9h2.3M272.5 151.3h2.3M272.6 148.2h2.3M272.7 158.8h2.3M272.8 148h2.3M272.9 148.3h2.3M273 154.3h2.3M273.1 157h2.3M273.2 154.2h2.3M273.3 157.3h2.3M273.4 168.5h2.3M273.5 162.3h2.3M273.6 168.1h2.3M273.7 174.1h2.3M273.8 173.3h2.3M273.9 177.6h2.3M274 180.7h2.3M274.1 187.3h2.3M274.2 184.6h2.3M274.3 193h2.3M274.4 191.4h2.3M274.5 197.9h2.3M274.6 199.4h2.3M274.7 194.6h2.3M274.8 197.7h2.3M274.9 198.9h2.3M275 199.1h2.3M275.1 201.3h2.3M275.2 206.5h2.3M275.3 204.9h2.3M275.4 206.5h2.3M275.5 208.7h2.3M275.6 209h2.3M275.7 210.4h2.3M275.8 211.8h2.3M275.9 212.1h2.3M276 211.9h2.3M276.1 209.8h2.3M276.2 215.4h2.3M276.3 213.6h2.3M276.4 216.9h2.3M276.5 213.4h2.3M276.6 216.3h2.3M276.7 216.2h2.3M276.8 215.4h2.3M276.9 216.2h2.3M277 218.9h2.3M277.1 217.3h2.3M277.2 218.2h2.3M277.3 217.7h2.3M277.4 218.2h2.3M277.5 217.9h2.3M277.7 218.4h2.3M277.8 218.9h2.3M277.9 218.1h2.3M278 219.9h2.3M278.1 219.3h2.3M278.2 219.7h2.3M278.3 219.3h2.3M278.4 219.5h2.3M278.5 219.4h2.3M278.6 219.7h2.3M278.7 219.6h2.3M278.8 220h2.3M278.9 219.4h2.3M279 219.3h2.3M279.1 219.7h2.3M279.2 219.7h2.3M279.3 219.7h2.3M279.4 218.7h2.3M279.5 219.3h2.3M279.6 219.3h2.3M279.7 219.6h2.3M279.8 219.7h2.3M279.9 219.8h2.3M280 218.7h2.3M280.1 220h2.3M280.2 219.3h2.3M280.3 219.4h2.3M280.4 219.5h2.3M280.5 220h2.3M280.6 220h2.3M280.7 219h2.3M280.8 219.7h2.3M280.9 219h2.3M281 219.1h2.3M281.1 219.2h2.3M281.2 219.1h2.3M281.3 220h2.3M281.4 219.6h2.3M281.5 219.1h2.3M281.6 220h2.3M281.7 218.7h2.3M281.8 219.7h2.3M281.9 219.5h2.3M282 219.9h2.3M282.1 219.3h2.3M282.2 219.8h2.3M282.3 219.5h2.3M282.4 219.9h2.3M282.5 218.9h2.3M282.6 220h2.3M282.7 219.2h2.3M282.8 219.3h2.3M282.9 219.2h2.3M283 219.9h2.3M283.1 219h2.3M283.2 219h2.3M283.3 219.4h2.3M283.4 219.3h2.3M283.5 219.5h2.3M283.6 219.1h2.3M283.7 219.9h2.3M283.8 219.2h2.3M283.9 219.2h2.3M284 220h2.3M284.1 220h2.3M284.3 219.5h2.3M284.4 219.5h2.3M284.5 218.9h2.3M284.6 219.4h2.3M284.7 219.7h2.3M284.8 220h2.3M284.9 219.5h2.3M285 219.7h2.3M285.1 219.9h2.3M285.2 219.5h2.3M285.3 219h2.3M285.4 219.4h2.3M285.5 219.9h2.3M285.6 219.3h2.3M285.7 219.9h2.3M285.8 220h2.3M285.9 219.2h2.3M286 219.7h2.3M286.1 218.9h2.3M286.2 219.3h2.3M286.3 219.8h2.3M286.4 219.3h2.3M286.5 218.8h2.3M286.6 219.5h2.3M286.7 219.9h2.3M286.8 219.7h2.3M286.9 219.8h2.3M287 220h2.3M287.1 220h2.3M287.2 219.2h2.3M287.3 218.9h2.3M287.4 219.6h2.3M287.5 219.1h2.3M287.6 219h2.3M287.7 218.7h2.3M287.8 219.5h2.3M287.9 219.6h2.3M288 219.2h2.3M288.1 219.4h2.3M288.2 219.3h2.3M288.3 218.8h2.3M288.4 219.6h2.3M288.5 219.3h2.3M288.6 219.9h2.3M288.7 219.5h2.3M288.8 219.7h2.3M288.9 219.8h2.3M289 219.5h2.3M289.1 219.6h2.3M289.2 219.3h2.3M289.3 219.1h2.3M289.4 220h2.3M289.5 219h2.3M289.6 220h2.3M289.7 219.3h2.3M289.8 219.1h2.3M289.9 219.7h2.3M290 219.5h2.3M290.1 219.8h2.3M290.2 219h2.3M290.3 220h2.3M290.4 219.9h2.3M290.5 220h2.3M290.6 219.3h2.3M290.7 218.8h2.3M290.9 218.9h2.3M291 219.1h2.3M291.1 219.3h2.3M291.2 219.8h2.3M291.3 218.9h2.3M291.4 219.1h2.3M291.5 219.8h2.3M291.6 220h2.3M291.7 219.7h2.3M291.8 218.9h2.3M291.9 218.9h2.3M292 218.7h2.3M292.1 219.8h2.3M292.2 219.6h2.3M292.3 218.8h2.3M292.4 219.3h2.3M292.5 219.1h2.3M292.6 220h2.3M292.7 219.7h2.3M292.8 219.4h2.3M292.9 219.6h2.3M293 219.6h2.3M293.1 220h2.3M293.2 218.7h2.3M293.3 219.4h2.3M293.4 220h2.3M293.5 218.9h2.3M293.6 219.4h2.3M293.7 219.1h2.3M293.8 219.5h2.3M293.9 219.8h2.3M294 219.8h2.3M294.1 219.3h2.3M294.2 219.1h2.3M294.3 219.2h2.3M294.4 219.1h2.3M294.5 218.9h2.3M294.6 219.3h2.3M294.7 219h2.3M294.8 218.9h2.3M294.9 219.3h2.3M295 219.5h2.3M295.1 219.6h2.3M295.2 220h2.3M295.3 220h2.3M295.4 218.8h2.3M295.5 219.4h2.3M295.6 219.7h2.3M295.7 218.7h2.3M295.8 219h2.3M295.9 219.4h2.3M296 219h2.3M296.1 219.5h2.3M296.2 219.2h2.3M296.3 218.6h2.3M296.4 218.9h2.3M296.5 219.5h2.3M296.6 219.1h2.3M296.7 218.9h2.3M296.8 219.5h2.3M296.9 219.6h2.3M297 218.6h2.3M297.1 219.5h2.3M297.2 220h2.3M297.3 219.3h2.3M297.5 218.4h2.3M297.6 219.1h2.3M297.7 219h2.3M297.8 220h2.3M297.9 219.6h2.3M298 218.6h2.3M298.1 219.6h2.3M298.2 218.8h2.3M298.3 219.2h2.3M298.4 219.2h2.3M298.5 218.6h2.3M298.6 219.6h2.3M298.7 219.6h2.3M298.8 219.3h2.3M298.9 219.3h2.3M299 220h2.3M299.1 218.8h2.3M299.2 219.3h2.3M299.3 219.4h2.3M299.4 219.1h2.3M299.5 219.5h2.3M299.6 218.8h2.3M299.7 219.3h2.3M299.8 219h2.3M299.9 219.8h2.3M300 219.5h2.3M300.1 219.2h2.3M300.2 219.8h2.3M300.3 219.7h2.3M300.4 219.4h2.3M300.5 218.9h2.3M300.6 219h2.3M300.7 219h2.3M300.8 219.2h2.3M300.9 219h2.3M301 218.7h2.3M301.1 219.3h2.3M301.2 219.2h2.3M301.3 219.1h2.3M301.4 220h2.3M301.5 219.4h2.3M301.6 219.2h2.3M301.7 219h2.3M301.8 219.5h2.3M301.9 218.9h2.3M302 219.7h2.3M302.1 219.5h2.3M302.2 218.6h2.3M302.3 220h2.3M302.4 219.4h2.3M302.5 219.4h2.3M302.6 219.4h2.3M302.7 219.6h2.3M302.8 219.1h2.3M302.9 219.9h2.3M303 220h2.3M303.1 219.2h2.3M303.2 219.9h2.3M303.3 219.2h2.3M303.4 219.4h2.3M303.5 219.7h2.3M303.6 219.5h2.3M303.7 219.4h2.3M303.8 219.2h2.3M303.9 219.7h2.3M304.1 219.5h2.3M304.2 220h2.3M304.3 219.5h2.3M304.4 220h2.3M304.5 219.4h2.3M304.6 219.6h2.3M304.7 218.5h2.3M304.8 218.8h2.3M304.9 219.5h2.3M305 219h2.3M305.1 219.3h2.3M305.2 219.9h2.3M305.3 220h2.3M305.4 218.9h2.3M305.5 219.2h2.3M305.6 220h2.3M305.7 219.1h2.3M305.8 218.8h2.3M305.9 219.7h2.3M306 219.1h2.3M306.1 220h2.3M306.2 219.5h2.3M306.3 219.4h2.3M306.4 219.1h2.3M306.5 219.2h2.3M306.6 219.3h2.3M306.7 219.2h2.3M306.8 219.7h2.3M306.9 218.7h2.3M307 219.6h2.3M307.1 219.1h2.3M307.2 219.4h2.3M307.3 219.6h2.3M307.4 219.2h2.3M307.5 219.2h2.3M307.6 218.8h2.3M307.7 218.9h2.3M307.8 219.7h2.3M307.9 219.2h2.3M308 219.4h2.3M308.1 219.8h2.3M308.2 219.9h2.3M308.3 219.3h2.3M308.4 219.7h2.3M308.5 220h2.3M308.6 219.5h2.3M308.7 219.3h2.3M308.8 219.4h2.3M308.9 220h2.3M309 219.7h2.3M309.1 218.8h2.3M309.2 219.8h2.3M309.3 219.6h2.3M309.4 218.4h2.3M309.5 219.3h2.3M309.6 219.6h2.3M309.7 220h2.3M309.8 219.3h2.3M309.9 220h2.3M310 219.4h2.3M310.1 219.8h2.3M310.2 220h2.3M310.3 218.7h2.3M310.4 219.5h2.3M310.5 219h2.3M310.7 219.1h2.3M310.8 219.8h2.3M310.9 219.4h2.3M311 219.6h2.3M311.1 219h2.3M311.2 219.2h2.3M311.3 219.6h2.3M311.4 218.7h2.3M311.5 219.2h2.3M311.6 219.2h2.3M311.7 219.8h2.3M311.8 219.2h2.3M311.9 220h2.3M312 219.2h2.3M312.1 219.8h2.3M312.2 219.3h2.3M312.3 219.6h2.3M312.4 219.3h2.3M312.5 219.3h2.3M312.6 219.5h2.3M312.7 219.5h2.3M312.8 220h2.3M312.9 220h2.3M313 218.9h2.3M313.1 219.2h2.3M313.2 220h2.3M313.3 218.6h2.3M313.4 219.8h2.3M313.5 219.2h2.3M313.6 219.2h2.3M313.7 219.4h2.3M313.8 219.2h2.3M313.9 220h2.3M314 219.4h2.3M314.1 219.5h2.3M314.2 219.4h2.3M314.3 219.6h2.3M314.4 219.7h2.3M314.5 219.8h2.3M314.6 219h2.3M314.7 219.8h2.3M314.8 219.3h2.3M314.9 219.3h2.3M315 219.5h2.3M315.1 219.2h2.3M315.2 219.2h2.3M315.3 219.8h2.3M315.4 219.3h2.3M315.5 218.6h2.3M315.6 219.9h2.3M315.7 219.6h2.3M315.8 219.8h2.3M315.9 218.5h2.3M316 220h2.3M316.1 219.4h2.3M316.2 219h2.3M316.3 219.8h2.3M316.4 219.5h2.3M316.5 219.8h2.3M316.6 220h2.3M316.7 219.5h2.3M316.8 219.2h2.3M316.9 219.6h2.3M317 219.4h2.3M317.1 219.1h2.3M317.3 218.9h2.3M317.4 220h2.3M317.5 219.2h2.3M317.6 219.7h2.3M317.7 220h2.3M317.8 219.8h2.3M317.9 219.1h2.3M318 219.3h2.3M318.1 219.9h2.3M318.2 218.7h2.3M318.3 219.2h2.3M318.4 219.5h2.3M318.5 219.7h2.3M318.6 219.2h2.3M318.7 219.6h2.3M318.8 218.9h2.3M318.9 219.3h2.3M319 219.2h2.3M319.1 219.6h2.3M319.2 220h2.3M319.3 219.2h2.3M319.4 219.9h2.3M319.5 219.5h2.3M319.6 219.4h2.3M319.7 219.8h2.3M319.8 219h2.3M319.9 220h2.3M320 218.8h2.3M320.1 219.7h2.3M320.2 219h2.3M320.3 218.8h2.3M320.4 219.8h2.3M320.5 219.8h2.3M320.6 219h2.3M320.7 219.3h2.3M320.8 219.4h2.3M320.9 220h2.3M321 220h2.3M321.1 219.2h2.3M321.2 218.8h2.3M321.3 219.7h2.3M321.4 219.8h2.3M321.5 219.3h2.3M321.6 219.2h2.3M321.7 219.2h2.3M321.8 219.6h2.3M321.9 220h2.3M322 218.8h2.3M322.1 219.7h2.3M322.2 218.9h2.3M322.3 220h2.3M322.4 219.3h2.3M322.5 219.7h2.3M322.6 220h2.3M322.7 219h2.3M322.8 218.8h2.3M322.9 219.7h2.3M323 219.1h2.3M323.1 219.9h2.3M323.2 219.7h2.3M323.3 219.5h2.3M323.4 219.6h2.3M323.5 219.1h2.3M323.6 220h2.3M323.8 219h2.3M323.9 219h2.3M324 219.5h2.3M324.1 220h2.3M324.2 220h2.3M324.3 219.5h2.3M324.4 219.7h2.3M324.5 219.4h2.3M324.6 219.9h2.3M324.7 219.4h2.3M324.8 219.5h2.3M324.9 219.4h2.3M325 219.3h2.3M325.1 219.3h2.3M325.2 219h2.3M325.3 219.8h2.3M325.4 219h2.3M325.5 219.4h2.3M325.6 219.6h2.3M325.7 219.9h2.3M325.8 218.8h2.3M325.9 219.3h2.3M326 219.7h2.3M326.1 219.4h2.3M326.2 219.4h2.3M326.3 219.7h2.3M326.4 220h2.3M326.5 219.4h2.3M326.6 219.5h2.3M326.7 219.6h2.3M326.8 219h2.3M326.9 220h2.3M327 219.9h2.3M327.1 219.4h2.3M327.2 219.1h2.3M327.3 219.2h2.3M327.4 219.1h2.3M327.5 220h2.3M327.6 219.2h2.3M327.7 219.2h2.3M327.8 219.1h2.3M327.9 219.7h2.3M328 219.2h2.3M328.1 219h2.3M328.2 218.7h2.3M328.3 219.3h2.3M328.4 220h2.3M328.5 219.4h2.3M328.6 219.1h2.3M328.7 219.2h2.3M328.8 218.3h2.3M328.9 219.5h2.3M329 219.9h2.3M329.1 219.7h2.3M329.2 219.1h2.3M329.3 219.8h2.3M329.4 219.9h2.3M329.5 219.8h2.3M329.6 218.9h2.3M329.7 219.3h2.3M329.8 219.6h2.3M329.9 219h2.3M330 219.1h2.3M330.1 219.9h2.3M330.2 219.1h2.3M330.4 219.3h2.3M330.5 220h2.3M330.6 220h2.3M330.7 219.3h2.3M330.8 219.2h2.3M330.9 219.6h2.3M331 219.9h2.3M331.1 219.3h2.3M331.2 220h2.3M331.3 219.2h2.3M331.4 219.5h2.3M331.5 219.4h2.3M331.6 219.7h2.3M331.7 219.1h2.3M331.8 220h2.3M331.9 219.8h2.3M332 219.2h2.3M332.1 219.8h2.3M332.2 218.8h2.3M332.3 219.2h2.3M332.4 219.8h2.3" fill="none" stroke="#000" stroke-width="2.2"/>
<path d="M40 -6 L40.2 -5.1 L40.5 -4.2 L40.8 -3.2 L41 -2.2 L41.2 -1.2 L41.5 -0.2 L41.8 0.9 L42 1.9 L42.2 3 L42.5 4 L42.8 5.1 L43 6.2 L43.2 7.3 L43.5 8.5 L43.8 9.6 L44 10.8 L44.2 12 L44.5 13.2 L44.8 14.4 L45 15.5 L45.2 16.7 L45.5 17.8 L45.8 18.9 L46 20 L46.2 21.1 L46.5 22.2 L46.8 23.3 L47 24.5 L47.2 25.6 L47.5 26.8 L47.8 28.1 L48 29.3 L48.2 30.5 L48.5 31.8 L48.8 33 L49 34.2 L49.2 35.4 L49.5 36.6 L49.8 37.7 L50 38.8 L50.2 39.8 L50.5 40.8 L50.8 41.7 L51 42.7 L51.2 43.6 L51.5 44.5 L51.8 45.4 L52 46.3 L52.2 47.1 L52.5 48 L52.8 48.8 L53 49.6 L53.2 50.4 L53.5 51.2 L53.8 52 L54 52.8 L54.2 53.5 L54.5 54.3 L54.8 55 L55 55.7 L55.2 56.4 L55.5 57.1 L55.8 57.8 L56 58.5 L56.2 59.2 L56.5 59.9 L56.8 60.5 L57 61.2 L57.2 61.8 L57.5 62.5 L57.8 63.1 L58 63.7 L58.2 64.4 L58.5 65 L58.8 65.6 L59 66.2 L59.2 66.8 L59.5 67.4 L59.8 67.9 L60 68.5 L60.2 69.1 L60.5 69.6 L60.8 70.2 L61 70.7 L61.2 71.3 L61.5 71.8 L61.8 72.3 L62 72.8 L62.2 73.3 L62.5 73.8 L62.8 74.3 L63 74.8 L63.2 75.3 L63.5 75.8 L63.8 76.3 L64 76.7 L64.2 77.2 L64.5 77.6 L64.8 78.1 L65 78.5 L65.2 78.9 L65.5 79.3 L65.8 79.8 L66 80.2 L66.2 80.6 L66.5 81 L66.8 81.4 L67 81.7 L67.2 82.1 L67.5 82.5 L67.8 82.9 L68 83.3 L68.2 83.6 L68.5 84 L68.8 84.4 L69 84.7 L69.2 85.1 L69.5 85.4 L69.8 85.7 L70 86.1 L70.2 86.4 L70.5 86.7 L70.8 87 L71 87.3 L71.2 87.6 L71.5 87.9 L71.8 88.2 L72 88.4 L72.2 88.7 L72.5 88.9 L72.8 89.2 L73 89.4 L73.2 89.7 L73.5 89.9 L73.8 90.1 L74 90.4 L74.2 90.6 L74.5 90.8 L74.8 91 L75 91.2 L75.2 91.4 L75.5 91.7 L75.8 91.9 L76 92.1 L76.2 92.3 L76.5 92.5 L76.8 92.7 L77 92.9 L77.2 93.1 L77.5 93.3 L77.8 93.5 L78 93.7 L78.2 93.9 L78.5 94.1 L78.8 94.3 L79 94.5 L79.2 94.7 L79.5 94.9 L79.8 95.1 L80 95.3 L80.2 95.5 L80.5 95.7 L80.8 95.9 L81 96.1 L81.2 96.3 L81.5 96.5 L81.8 96.7 L82 96.9 L82.2 97.1 L82.5 97.3 L82.8 97.5 L83 97.7 L83.2 97.9 L83.5 98.1 L83.8 98.3 L84 98.5 L84.2 98.7 L84.5 98.8 L84.8 99 L85 99.2 L85.2 99.4 L85.5 99.6 L85.8 99.8 L86 100 L86.2 100.1 L86.5 100.3 L86.8 100.5 L87 100.7 L87.2 100.9 L87.5 101 L87.8 101.2 L88 101.4 L88.2 101.6 L88.5 101.8 L88.8 101.9 L89 102.1 L89.2 102.3 L89.5 102.5 L89.8 102.6 L90 102.8 L90.2 103 L90.5 103.2 L90.8 103.4 L91 103.5 L91.2 103.7 L91.5 103.9 L91.8 104.1 L92 104.3 L92.2 104.4 L92.5 104.6 L92.8 104.8 L93 105 L93.2 105.1 L93.5 105.3 L93.8 105.5 L94 105.6 L94.2 105.8 L94.5 106 L94.8 106.2 L95 106.3 L95.2 106.5 L95.5 106.6 L95.8 106.8 L96 107 L96.2 107.1 L96.5 107.3 L96.8 107.4 L97 107.6 L97.2 107.7 L97.5 107.9 L97.8 108 L98 108.2 L98.2 108.3 L98.5 108.4 L98.8 108.6 L99 108.7 L99.2 108.8 L99.5 109 L99.8 109.1 L100 109.2 L100.2 109.3 L100.5 109.4 L100.8 109.5 L101 109.7 L101.2 109.8 L101.5 109.9 L101.8 110 L102 110.1 L102.2 110.2 L102.5 110.3 L102.8 110.4 L103 110.5 L103.2 110.6 L103.5 110.7 L103.8 110.8 L104 110.9 L104.2 111 L104.5 111.1 L104.8 111.2 L105 111.3 L105.2 111.4 L105.5 111.5 L105.8 111.6 L106 111.7 L106.2 111.7 L106.5 111.8 L106.8 111.9 L107 112 L107.2 112.1 L107.5 112.2 L107.8 112.3 L108 112.3 L108.2 112.4 L108.5 112.5 L108.8 112.6 L109 112.7 L109.2 112.8 L109.5 112.8 L109.8 112.9 L110 113 L110.2 113.1 L110.5 113.2 L110.8 113.2 L111 113.3 L111.2 113.4 L111.5 113.5 L111.8 113.6 L112 113.6 L112.2 113.7 L112.5 113.8 L112.8 113.9 L113 113.9 L113.2 114 L113.5 114.1 L113.8 114.2 L114 114.2 L114.2 114.3 L114.5 114.4 L114.8 114.4 L115 114.5 L115.2 114.6 L115.5 114.7 L115.8 114.7 L116 114.8 L116.2 114.9 L116.5 114.9 L116.8 115 L117 115 L117.2 115.1 L117.5 115.2 L117.8 115.2 L118 115.3 L118.2 115.4 L118.5 115.4 L118.8 115.5 L119 115.5 L119.2 115.6 L119.5 115.7 L119.8 115.7 L120 115.8 L120.2 115.8 L120.5 115.9 L120.8 115.9 L121 116 L121.2 116.1 L121.5 116.1 L121.8 116.2 L122 116.2 L122.2 116.3 L122.5 116.3 L122.8 116.4 L123 116.4 L123.2 116.5 L123.5 116.5 L123.8 116.6 L124 116.6 L124.2 116.7 L124.5 116.7 L124.8 116.8 L125 116.8 L125.2 116.9 L125.5 116.9 L125.8 117 L126 117 L126.2 117.1 L126.5 117.1 L126.8 117.2 L127 117.2 L127.2 117.3 L127.5 117.3 L127.8 117.4 L128 117.4 L128.2 117.4 L128.5 117.5 L128.8 117.5 L129 117.6 L129.2 117.6 L129.5 117.7 L129.8 117.7 L130 117.8 L130.2 117.8 L130.5 117.9 L130.8 117.9 L131 117.9 L131.2 118 L131.5 118 L131.8 118 L132 118 L132.2 118 L132.5 118 L132.8 117.9 L133 117.9 L133.2 117.8 L133.5 117.7 L133.8 117.6 L134 117.5 L134.2 117.4 L134.5 117.2 L134.8 117 L135 116.7 L135.2 116.4 L135.5 116.1 L135.8 115.8 L136 115.4 L136.2 115 L136.5 114.4 L136.8 113.8 L137 113.2 L137.2 112.5 L137.5 111.8 L137.8 111.2 L138 110.6 L138.2 110 L138.5 109.4 L138.8 108.8 L139 108.3 L139.2 107.7 L139.5 107.2 L139.8 106.8 L140 106.4 L140.2 106.1 L140.5 105.7 L140.8 105.4 L141 105.2 L141.2 105 L141.5 105 L141.8 105.3 L142 105.8 L142.2 106.5 L142.5 107.3 L142.8 108.2 L143 109.2 L143.2 110.5 L143.5 112.3 L143.8 114.2 L144 116.1 L144.2 117.9 L144.5 119.8 L144.8 121.6 L145 123.1 L145.2 124.4 L145.5 125.6 L145.8 126.6 L146 127.3 L146.2 127.8 L146.5 128.3 L146.8 128.7 L147 129.1 L147.2 129.4 L147.5 129.6 L147.8 129.9 L148 130.1 L148.2 130.3 L148.5 130.5 L148.8 130.6 L149 130.8 L149.2 130.9 L149.5 131 L149.8 131.1 L150 131.2 L150.2 131.3 L150.5 131.3 L150.8 131.4 L151 131.5 L151.2 131.5 L151.5 131.6 L151.8 131.7 L152 131.7 L152.2 131.8 L152.5 131.8 L152.8 131.9 L153 132 L153.2 132 L153.5 132.1 L153.8 132.1 L154 132.2 L154.2 132.3 L154.5 132.3 L154.8 132.4 L155 132.4 L155.2 132.5 L155.5 132.5 L155.8 132.6 L156 132.6 L156.2 132.7 L156.5 132.7 L156.8 132.8 L157 132.8 L157.2 132.9 L157.5 132.9 L157.8 133 L158 133 L158.2 133.1 L158.5 133.1 L158.8 133.1 L159 133.2 L159.2 133.2 L159.5 133.3 L159.8 133.3 L160 133.4 L160.2 133.4 L160.5 133.4 L160.8 133.5 L161 133.5 L161.2 133.6 L161.5 133.6 L161.8 133.6 L162 133.7 L162.2 133.7 L162.5 133.8 L162.8 133.8 L163 133.8 L163.2 133.9 L163.5 133.9 L163.8 133.9 L164 134 L164.2 134 L164.5 134 L164.8 134.1 L165 134.1 L165.2 134.1 L165.5 134.2 L165.8 134.2 L166 134.2 L166.2 134.3 L166.5 134.3 L166.8 134.3 L167 134.4 L167.2 134.4 L167.5 134.4 L167.8 134.4 L168 134.5 L168.2 134.5 L168.5 134.5 L168.8 134.6 L169 134.6 L169.2 134.6 L169.5 134.6 L169.8 134.7 L170 134.7 L170.2 134.7 L170.5 134.7 L170.8 134.8 L171 134.8 L171.2 134.8 L171.5 134.8 L171.8 134.9 L172 134.9 L172.2 134.9 L172.5 135 L172.8 135 L173 135 L173.2 135 L173.5 135.1 L173.8 135.1 L174 135.1 L174.2 135.1 L174.5 135.1 L174.8 135.2 L175 135.2 L175.2 135.2 L175.5 135.2 L175.8 135.3 L176 135.3 L176.2 135.3 L176.5 135.3 L176.8 135.4 L177 135.4 L177.2 135.4 L177.5 135.4 L177.8 135.5 L178 135.5 L178.2 135.5 L178.5 135.5 L178.8 135.6 L179 135.6 L179.2 135.6 L179.5 135.6 L179.8 135.7 L180 135.7 L180.2 135.7 L180.5 135.7 L180.8 135.8 L181 135.8 L181.2 135.8 L181.5 135.8 L181.8 135.9 L182 135.9 L182.2 135.9 L182.5 135.9 L182.8 136 L183 136 L183.2 136 L183.5 136 L183.8 136.1 L184 136.1 L184.2 136.1 L184.5 136.1 L184.8 136.2 L185 136.2 L185.2 136.2 L185.5 136.3 L185.8 136.3 L186 136.3 L186.2 136.3 L186.5 136.4 L186.8 136.4 L187 136.4 L187.2 136.4 L187.5 136.5 L187.8 136.5 L188 136.5 L188.2 136.5 L188.5 136.6 L188.8 136.6 L189 136.6 L189.2 136.6 L189.5 136.7 L189.8 136.7 L190 136.7 L190.2 136.7 L190.5 136.8 L190.8 136.8 L191 136.8 L191.2 136.8 L191.5 136.9 L191.8 136.9 L192 136.9 L192.2 136.9 L192.5 137 L192.8 137 L193 137 L193.2 137 L193.5 137 L193.8 137.1 L194 137.1 L194.2 137.1 L194.5 137.1 L194.8 137.2 L195 137.2 L195.2 137.2 L195.5 137.2 L195.8 137.2 L196 137.3 L196.2 137.3 L196.5 137.3 L196.8 137.3 L197 137.4 L197.2 137.4 L197.5 137.4 L197.8 137.4 L198 137.4 L198.2 137.5 L198.5 137.5 L198.8 137.5 L199 137.5 L199.2 137.6 L199.5 137.6 L199.8 137.6 L200 137.6 L200.2 137.6 L200.5 137.7 L200.8 137.7 L201 137.7 L201.2 137.7 L201.5 137.7 L201.8 137.8 L202 137.8 L202.2 137.8 L202.5 137.8 L202.8 137.8 L203 137.9 L203.2 137.9 L203.5 137.9 L203.8 137.9 L204 138 L204.2 138 L204.5 138 L204.8 138 L205 138 L205.2 138.1 L205.5 138.1 L205.8 138.1 L206 138.1 L206.2 138.2 L206.5 138.2 L206.8 138.2 L207 138.2 L207.2 138.2 L207.5 138.3 L207.8 138.3 L208 138.3 L208.2 138.3 L208.5 138.4 L208.8 138.4 L209 138.4 L209.2 138.4 L209.5 138.4 L209.8 138.5 L210 138.5 L210.2 138.5 L210.5 138.5 L210.8 138.6 L211 138.6 L211.2 138.6 L211.5 138.6 L211.8 138.7 L212 138.7 L212.2 138.7 L212.5 138.7 L212.8 138.8 L213 138.8 L213.2 138.8 L213.5 138.8 L213.8 138.9 L214 138.9 L214.2 138.9 L214.5 138.9 L214.8 139 L215 139 L215.2 139 L215.5 139.1 L215.8 139.1 L216 139.1 L216.2 139.1 L216.5 139.2 L216.8 139.2 L217 139.2 L217.2 139.3 L217.5 139.3 L217.8 139.3 L218 139.3 L218.2 139.4 L218.5 139.4 L218.8 139.4 L219 139.5 L219.2 139.5 L219.5 139.5 L219.8 139.5 L220 139.6 L220.2 139.6 L220.5 139.6 L220.8 139.7 L221 139.7 L221.2 139.7 L221.5 139.8 L221.8 139.8 L222 139.8 L222.2 139.9 L222.5 139.9 L222.8 139.9 L223 140 L223.2 140 L223.5 140 L223.8 140.1 L224 140.1 L224.2 140.1 L224.5 140.1 L224.8 140.2 L225 140.2 L225.2 140.2 L225.5 140.3 L225.8 140.3 L226 140.3 L226.2 140.4 L226.5 140.4 L226.8 140.4 L227 140.5 L227.2 140.5 L227.5 140.5 L227.8 140.6 L228 140.6 L228.2 140.6 L228.5 140.7 L228.8 140.7 L229 140.7 L229.2 140.8 L229.5 140.8 L229.8 140.9 L230 140.9 L230.2 140.9 L230.5 141 L230.8 141 L231 141 L231.2 141.1 L231.5 141.1 L231.8 141.1 L232 141.2 L232.2 141.2 L232.5 141.2 L232.8 141.3 L233 141.3 L233.2 141.3 L233.5 141.4 L233.8 141.4 L234 141.4 L234.2 141.5 L234.5 141.5 L234.8 141.5 L235 141.6 L235.2 141.6 L235.5 141.6 L235.8 141.7 L236 141.7 L236.2 141.7 L236.5 141.8 L236.8 141.8 L237 141.8 L237.2 141.9 L237.5 141.9 L237.8 141.9 L238 142 L238.2 142 L238.5 142 L238.8 142.1 L239 142.1 L239.2 142.1 L239.5 142.2 L239.8 142.2 L240 142.2 L240.2 142.3 L240.5 142.3 L240.8 142.3 L241 142.4 L241.2 142.4 L241.5 142.4 L241.8 142.5 L242 142.5 L242.2 142.5 L242.5 142.6 L242.8 142.6 L243 142.6 L243.2 142.7 L243.5 142.7 L243.8 142.7 L244 142.8 L244.2 142.8 L244.5 142.8 L244.8 142.9 L245 142.9 L245.2 142.9 L245.5 143 L245.8 143 L246 143 L246.2 143.1 L246.5 143.1 L246.8 143.1 L247 143.2 L247.2 143.2 L247.5 143.2 L247.8 143.2 L248 143.3 L248.2 143.3 L248.5 143.3 L248.8 143.4 L249 143.4 L249.2 143.4 L249.5 143.5 L249.8 143.5 L250 143.5 L250.2 143.6 L250.5 143.6 L250.8 143.6 L251 143.7 L251.2 143.7 L251.5 143.7 L251.8 143.8 L252 143.8 L252.2 143.8 L252.5 143.9 L252.8 143.9 L253 143.9 L253.2 143.9 L253.5 144 L253.8 144 L254 144 L254.2 144.1 L254.5 144.1 L254.8 144.1 L255 144.2 L255.2 144.2 L255.5 144.2 L255.8 144.2 L256 144.3 L256.2 144.3 L256.5 144.3 L256.8 144.4 L257 144.4 L257.2 144.4 L257.5 144.4 L257.8 144.5 L258 144.5 L258.2 144.5 L258.5 144.6 L258.8 144.6 L259 144.6 L259.2 144.6 L259.5 144.6 L259.8 144.7 L260 144.7 L260.2 144.7 L260.5 144.7 L260.8 144.7 L261 144.8 L261.2 144.8 L261.5 144.8 L261.8 144.8 L262 144.8 L262.2 144.9 L262.5 144.9 L262.8 144.9 L263 144.9 L263.2 144.9 L263.5 145 L263.8 145 L264 145 L264.2 145 L264.5 145.1 L264.8 145.1 L265 145.1 L265.2 145.2 L265.5 145.2 L265.8 145.3 L266 145.3 L266.2 145.3 L266.5 145.4 L266.8 145.5 L267 145.6 L267.2 145.6 L267.5 145.7 L267.8 145.8 L268 146 L268.2 146.1 L268.5 146.2 L268.8 146.4 L269 146.5 L269.2 146.7 L269.5 146.9 L269.8 147.1 L270 147.3 L270.2 147.6 L270.5 147.9 L270.8 148.2 L271 148.6 L271.2 149 L271.5 149.6 L271.8 150.2 L272 151 L272.2 151.8 L272.5 152.8 L272.8 153.9 L273 155.4 L273.2 157.5 L273.5 161.6 L273.8 168.6 L274 176.9 L274.2 183.5 L274.5 188.4 L274.8 192.6 L275 196.6 L275.2 200.5 L275.5 204.2 L275.8 207.4 L276 210 L276.2 212.1 L276.5 213.8 L276.8 215.3 L277 216.4 L277.2 217.4 L277.5 218 L277.8 218.4 L278 218.8 L278.2 219 L278.5 219.2 L278.8 219.3 L279 219.4 L279.2 219.4 L279.5 219.4 L279.8 219.5 L280 219.5 L280.2 219.5 L280.5 219.6 L280.8 219.6 L281 219.6 L281.2 219.6 L281.5 219.7 L281.8 219.7 L282 219.7 L282.2 219.7 L282.5 219.7 L282.8 219.7 L283 219.8 L283.2 219.8 L283.5 219.8 L283.8 219.8 L284 219.8 L284.2 219.8 L284.5 219.8 L284.8 219.8 L285 219.8 L285.2 219.8 L285.5 219.8 L285.8 219.8 L286 219.8 L286.2 219.8 L286.5 219.8 L286.8 219.8 L287 219.8 L287.2 219.8 L287.5 219.8 L287.8 219.8 L288 219.8 L288.2 219.8 L288.5 219.8 L288.8 219.8 L289 219.8 L289.2 219.8 L289.5 219.8 L289.8 219.8 L290 219.8 L290.2 219.8 L290.5 219.8 L290.8 219.8 L291 219.8 L291.2 219.8 L291.5 219.8 L291.8 219.8 L292 219.8 L292.2 219.8 L292.5 219.8 L292.8 219.8 L293 219.8 L293.2 219.8 L293.5 219.8 L293.8 219.8 L294 219.8 L294.2 219.8 L294.5 219.8 L294.8 219.8 L295 219.8 L295.2 219.8 L295.5 219.8 L295.8 219.8 L296 219.8 L296.2 219.8 L296.5 219.8 L296.8 219.8 L297 219.8 L297.2 219.8 L297.5 219.8 L297.8 219.8 L298 219.8 L298.2 219.8 L298.5 219.8 L298.8 219.8 L299 219.8 L299.2 219.8 L299.5 219.8 L299.8 219.8 L300 219.8 L300.2 219.8 L300.5 219.8 L300.8 219.8 L301 219.8 L301.2 219.8 L301.5 219.8 L301.8 219.8 L302 219.8 L302.2 219.8 L302.5 219.8 L302.8 219.8 L303 219.8 L303.2 219.8 L303.5 219.8 L303.8 219.8 L304 219.8 L304.2 219.8 L304.5 219.8 L304.8 219.8 L305 219.8 L305.2 219.8 L305.5 219.8 L305.8 219.8 L306 219.8 L306.2 219.8 L306.5 219.8 L306.8 219.8 L307 219.8 L307.2 219.8 L307.5 219.8 L307.8 219.8 L308 219.8 L308.2 219.8 L308.5 219.8 L308.8 219.8 L309 219.8 L309.2 219.8 L309.5 219.8 L309.8 219.8 L310 219.8 L310.2 219.8 L310.5 219.8 L310.8 219.8 L311 219.8 L311.2 219.8 L311.5 219.8 L311.8 219.8 L312 219.8 L312.2 219.8 L312.5 219.8 L312.8 219.8 L313 219.8 L313.2 219.8 L313.5 219.8 L313.8 219.8 L314 219.8 L314.2 219.8 L314.5 219.8 L314.8 219.8 L315 219.8 L315.2 219.8 L315.5 219.8 L315.8 219.8 L316 219.8 L316.2 219.8 L316.5 219.8 L316.8 219.8 L317 219.8 L317.2 219.8 L317.5 219.8 L317.8 219.8 L318 219.8 L318.2 219.8 L318.5 219.8 L318.8 219.8 L319 219.8 L319.2 219.8 L319.5 219.8 L319.8 219.8 L320 219.8 L320.2 219.8 L320.5 219.8 L320.8 219.8 L321 219.8 L321.2 219.8 L321.5 219.8 L321.8 219.8 L322 219.8 L322.2 219.8 L322.5 219.8 L322.8 219.8 L323 219.8 L323.2 219.8 L323.5 219.8 L323.8 219.8 L324 219.8 L324.2 219.8 L324.5 219.8 L324.8 219.8 L325 219.8 L325.2 219.8 L325.5 219.8 L325.8 219.8 L326 219.8 L326.2 219.8 L326.5 219.8 L326.8 219.8 L327 219.8 L327.2 219.8 L327.5 219.8 L327.8 219.8 L328 219.8 L328.2 219.8 L328.5 219.8 L328.8 219.8 L329 219.8 L329.2 219.8 L329.5 219.8 L329.8 219.8 L330 219.8 L330.2 219.8 L330.5 219.8 L330.8 219.8 L331 219.8 L331.2 219.8 L331.5 219.8 L331.8 219.8 L332 219.8 L332.2 219.8 L332.5 219.8 L332.8 219.8 L333 219.8 L333.2 219.8" fill="none" stroke="#f00000" stroke-width="2.2" stroke-linejoin="round"/>
</g>
<clipPath id="c2"><rect x="374.7" y="6.5" width="297.9" height="219.3"/></clipPath>
<g clip-path="url(#c2)">
<path d="M374.9 20 375 26.9 375.1 26.6 375.2 45.1 375.3 8.4 375.4 14.9 375.5 28.4 375.6 19.5 375.7 24.5 375.8 32.4 375.9 19.7 376 31.6 376.2 32.3 376.3 37 376.4 26.7 376.5 32.1 376.6 27.1 376.7 37.5 376.8 31.7 376.9 41 377 26.7 377.1 32.8 377.2 32.1 377.3 32 377.4 44.6 377.5 29.8 377.6 19.5 377.7 51.4 377.8 52.7 377.9 55.7 378 31.9 378.1 38.4 378.2 30.8 378.3 34.3 378.4 39.1 378.5 38.9 378.6 43.7 378.7 35 378.9 52.2 379 46.7 379.1 41.5 379.2 29 379.3 50.8 379.4 53.9 379.5 50 379.6 37.7 379.7 48.1 379.8 35.6 379.9 62.5 380 38 380.1 39.2 380.2 59.9 380.3 47.3 380.4 38.9 380.5 48.6 380.6 41.5 380.7 30.6 380.8 48.3 380.9 53.2 381 57.6 381.1 46.4 381.2 53.6 381.3 53.9 381.4 53.6 381.5 47.9 381.7 62.2 381.8 66.3 381.9 74 382 44.9 382.1 54.3 382.2 43.1 382.3 55.7 382.4 62 382.5 52.5 382.6 57.3 382.7 67.1 382.8 64.5 382.9 43.5 383 55.2 383.1 55 383.2 60.9 383.3 64.5 383.4 52.2 383.5 60.5 383.6 66.1 383.7 61.4 383.8 67.9 383.9 59.5 384 52.3 384.1 68.2 384.2 50.6 384.4 67.5 384.5 61.3 384.6 69.5 384.7 64.9 384.8 63.1 384.9 67.2 385 69.6 385.1 69.7 385.2 71.2 385.3 77.3 385.4 67.4 385.5 62.5 385.6 58.8 385.7 61.2 385.8 47.3 385.9 64.3 386 70.7 386.1 52.8 386.2 75.9 386.3 60.5 386.4 75.7 386.5 65.9 386.6 84.2 386.7 62.2 386.8 70.7 386.9 77.3 387 57.1 387.2 64.5 387.3 70.2 387.4 76.7 387.5 71.6 387.6 72.8 387.7 66.3 387.8 66 387.9 77.6 388 76.9 388.1 77.1 388.2 83.6 388.3 78.1 388.4 74.6 388.5 68.9 388.6 64.4 388.7 80.9 388.8 70.8 388.9 78.7 389 59.8 389.1 76.2 389.2 72.3 389.3 83.5 389.4 82.8 389.5 75.4 389.6 80.1 389.7 74.8 389.9 89.5 390 73 390.1 85 390.2 65.6 390.3 81 390.4 70.8 390.5 93.4 390.6 76.4 390.7 86.5 390.8 83.7 390.9 80.1 391 82.9 391.1 78.8 391.2 73.5 391.3 76.4 391.4 82.2 391.5 91.9 391.6 88 391.7 83.7 391.8 98.2 391.9 77.1 392 84.7 392.1 85 392.2 76.3 392.3 78.6 392.4 82.1 392.6 91.3 392.7 81.9 392.8 81.8 392.9 91 393 77.1 393.1 81.2 393.2 104.5 393.3 84.4 393.4 94.7 393.5 77.4 393.6 80 393.7 96.9 393.8 92.7 393.9 85.7 394 88.3 394.1 75.8 394.2 81.6 394.3 89.2 394.4 83.2 394.5 102.1 394.6 85.5 394.7 81.6 394.8 89.3 394.9 93.3 395 84.3 395.1 74.6 395.2 87.2 395.4 96.8 395.5 78.8 395.6 107.2 395.7 85.8 395.8 93.6 395.9 83.1 396 95.8 396.1 80.7 396.2 88 396.3 102.5 396.4 104.3 396.5 92.8 396.6 81.7 396.7 90.1 396.8 90.6 396.9 92.9 397 86.3 397.1 88.9 397.2 89.8 397.3 98.7 397.4 83.8 397.5 82.8 397.6 101.4 397.7 76.6 397.8 87.7 397.9 96.2 398.1 106.1 398.2 88.6 398.3 89.5 398.4 97.5 398.5 105.9 398.6 86.1 398.7 97.9 398.8 97.3 398.9 75.8 399 79.9 399.1 88.1 399.2 97.8 399.3 90.5 399.4 110.5 399.5 94.5 399.6 100.5 399.7 104.2 399.8 106.4 399.9 92.3 400 95.4 400.1 95.1 400.2 90.7 400.3 102.2 400.4 104.9 400.5 108.7 400.6 99.3 400.7 92.1 400.9 98.3 401 93.3 401.1 105.5 401.2 101 401.3 104.8 401.4 106.4 401.5 86.1 401.6 90.9 401.7 103.7 401.8 103.9 401.9 99.4 402 108.6 402.1 96.5 402.2 107.9 402.3 102.1 402.4 106.5 402.5 103.1 402.6 108.8 402.7 110.5 402.8 106.7 402.9 104.9 403 102.6 403.1 100.3 403.2 91.1 403.3 95.8 403.4 102.8 403.6 96.6 403.7 105.8 403.8 92.2 403.9 98.1 404 110.4 404.1 97 404.2 96.7 404.3 119.2 404.4 106.9 404.5 105.3 404.6 114.6 404.7 109.3 404.8 108.6 404.9 99.5 405 100.9 405.1 86.3 405.2 105.5 405.3 95.8 405.4 102.7 405.5 101.6 405.6 110.7 405.7 115.5 405.8 108.4 405.9 98.9 406 93.8 406.1 100 406.2 100.8 406.4 109.2 406.5 94.5 406.6 95.8 406.7 107.6 406.8 104.6 406.9 110.6 407 95.4 407.1 102.1 407.2 105.3 407.3 102.3 407.4 102.1 407.5 107.5 407.6 112.7 407.7 113 407.8 115.9 407.9 102.4 408 91.7 408.1 115.8 408.2 104.7 408.3 103.1 408.4 111.7 408.5 104.5 408.6 112.5 408.7 98.6 408.8 109.6 408.9 105.4 409.1 102 409.2 108.8 409.3 117.1 409.4 109.6 409.5 101.8 409.6 107 409.7 105.2 409.8 113.2 409.9 105.9 410 102.4 410.1 106.7 410.2 95.5 410.3 108.3 410.4 113.3 410.5 116.9 410.6 100.4 410.7 107.7 410.8 101.4 410.9 104.7 411 97.9 411.1 100.1 411.2 109.9 411.3 106.1 411.4 101.4 411.5 115.2 411.6 99.4 411.7 100.9 411.9 102.3 412 109.4 412.1 106.5 412.2 114.9 412.3 108.1 412.4 111.9 412.5 108 412.6 111.5 412.7 107 412.8 101.9 412.9 116.5 413 103.5 413.1 120.6 413.2 121.6 413.3 109.8 413.4 109.1 413.5 106.7 413.6 118.9 413.7 109.8 413.8 108.7 413.9 102.3 414 110.2 414.1 106.6 414.2 115.4 414.3 110.9 414.4 112.5 414.6 106 414.7 115.7 414.8 114.9 414.9 106.9 415 100.1 415.1 108.2 415.2 108.7 415.3 112.5 415.4 102.2 415.5 107.6 415.6 100.9 415.7 109 415.8 116.3 415.9 114.2 416 116.7 416.1 118.2 416.2 104.1 416.3 106.7 416.4 118.4 416.5 101.4 416.6 110.2 416.7 117 416.8 109.5 416.9 112.2 417 116.2 417.1 122.8 417.2 111.8 417.4 110.4 417.5 126.5 417.6 109.1 417.7 108.9 417.8 115 417.9 111.8 418 114.1 418.1 117.3 418.2 114.7 418.3 105.3 418.4 120.9 418.5 111.6 418.6 112 418.7 117 418.8 115.6 418.9 120.9 419 118 419.1 113.3 419.2 111.1 419.3 118.5 419.4 98.9 419.5 116.8 419.6 113.1 419.7 115.1 419.8 116.1 419.9 107 420.1 116.7 420.2 107 420.3 108.1 420.4 120 420.5 108.8 420.6 118 420.7 100 420.8 116.7 420.9 119.8 421 125 421.1 121.8 421.2 118 421.3 122.2 421.4 121.6 421.5 118.9 421.6 116.3 421.7 104.9 421.8 124.4 421.9 118.4 422 120.6 422.1 123.6 422.2 122.4 422.3 120.5 422.4 112 422.5 116.9 422.6 118.8 422.8 112.8 422.9 114.6 423 117.3 423.1 114.2 423.2 120.6 423.3 113.1 423.4 114 423.5 118.6 423.6 122.9 423.7 108.7 423.8 116.2 423.9 102.7 424 120.2 424.1 112.4 424.2 119.2 424.3 115.7 424.4 112.7 424.5 121.2 424.6 117.7 424.7 116.4 424.8 116.7 424.9 114.3 425 112.1 425.1 113.2 425.2 116.2 425.3 119.4 425.4 123.4 425.6 121.5 425.7 120.5 425.8 114.3 425.9 119.7 426 124.3 426.1 114.8 426.2 122.1 426.3 122 426.4 119.3 426.5 115.8 426.6 130.5 426.7 124 426.8 117.5 426.9 120.3 427 122.8 427.1 121.3 427.2 111.6 427.3 121.7 427.4 115.1 427.5 114.8 427.6 121 427.7 116.6 427.8 121.1 427.9 122 428 124.6 428.1 114.7 428.3 121.1 428.4 121.9 428.5 124.8 428.6 110.3 428.7 115.6 428.8 120 428.9 122.8 429 127 429.1 118.1 429.2 118.1 429.3 126.5 429.4 113.9 429.5 115.9 429.6 124.5 429.7 122.5 429.8 121.9 429.9 119.1 430 120.7 430.1 128 430.2 112.8 430.3 118.5 430.4 114 430.5 114.1 430.6 121.2 430.7 118.6 430.8 116.7 430.9 116.6 431.1 121.2 431.2 123.4 431.3 120.3 431.4 124.4 431.5 123.3 431.6 130.4 431.7 120.3 431.8 125.7 431.9 123.4 432 121.1 432.1 119.4 432.2 111.9 432.3 120 432.4 127.7 432.5 120.4 432.6 124.9 432.7 119.2 432.8 124.4 432.9 124.6 433 123.7 433.1 124.3 433.2 130 433.3 124.5 433.4 121.5 433.5 115.8 433.6 122.9 433.8 123.3 433.9 118.9 434 119.1 434.1 114.1 434.2 118.9 434.3 121.8 434.4 115.4 434.5 114.5 434.6 123.9 434.7 121 434.8 129.6 434.9 123.5 435 125.9 435.1 122.8 435.2 124.1 435.3 122.6 435.4 122.3 435.5 119.5 435.6 120.8 435.7 124.5 435.8 127.9 435.9 116.1 436 115.3 436.1 124.1 436.2 119.3 436.3 129.1 436.4 129.3 436.6 123.2 436.7 115.1 436.8 126.9 436.9 125.9 437 114.5 437.1 130.9 437.2 119 437.3 119.8 437.4 123 437.5 121.2 437.6 109.8 437.7 127.4 437.8 123.6 437.9 123.2 438 125.4 438.1 128.4 438.2 114.7 438.3 121.1 438.4 133.3 438.5 125.5 438.6 120.3 438.7 120.3 438.8 129 438.9 122.7 439 121 439.1 120.4 439.3 120.4 439.4 130.8 439.5 113.6 439.6 121 439.7 113.9 439.8 109.7 439.9 123.1 440 128.1 440.1 118.3 440.2 123.2 440.3 124.5 440.4 127.2 440.5 114.5 440.6 124.5 440.7 129 440.8 124.5 440.9 127.8 441 121.7 441.1 124.4 441.2 127.4 441.3 119.6 441.4 125.5 441.5 119.1 441.6 116.6 441.7 124.2 441.8 125.5 441.9 121.6 442.1 118.3 442.2 122.5 442.3 121.9 442.4 122.7 442.5 121.1 442.6 119.6 442.7 125.8 442.8 124.8 442.9 122.3 443 125.7 443.1 121.9 443.2 120.1 443.3 122.7 443.4 125.4 443.5 126.2 443.6 114.4 443.7 118.5 443.8 127.9 443.9 126.6 444 113.9 444.1 115.6 444.2 122 444.3 117.2 444.4 129.6 444.5 122.6 444.6 119.2 444.8 131.4 444.9 126.3 445 119 445.1 117.4 445.2 125.5 445.3 121.3 445.4 115.2 445.5 124.5 445.6 128.9 445.7 123 445.8 124.6 445.9 116.6 446 122 446.1 126.5 446.2 111.5 446.3 125.1 446.4 120.5 446.5 119.6 446.6 119.1 446.7 121.9 446.8 120 446.9 123.1 447 129.4 447.1 123.8 447.2 123.7 447.3 123.6 447.4 122.1 447.6 125.7 447.7 116.6 447.8 115.5 447.9 133.1 448 122.8 448.1 126.1 448.2 135 448.3 120.9 448.4 125.7 448.5 124.6 448.6 126.9 448.7 117.7 448.8 117 448.9 121.5 449 119.6 449.1 123.5 449.2 122.2 449.3 126.3 449.4 122.7 449.5 126.2 449.6 121.1 449.7 119 449.8 121.4 449.9 117.3 450 110.2 450.1 132.7 450.3 122.8 450.4 125.5 450.5 125 450.6 129.2 450.7 122.6 450.8 124.1 450.9 125.8 451 124 451.1 125.6 451.2 133.8 451.3 117.8 451.4 124.3 451.5 127.3 451.6 121.4 451.7 126 451.8 133 451.9 118.7 452 130.7 452.1 123.9 452.2 122.3 452.3 116.6 452.4 117.3 452.5 122.1 452.6 126.4 452.7 124.8 452.8 117.8 452.9 114.5 453.1 120.3 453.2 125.9 453.3 118.1 453.4 124.6 453.5 124.8 453.6 124.2 453.7 120.1 453.8 121.6 453.9 118.2 454 116.8 454.1 119.6 454.2 133.8 454.3 130.8 454.4 122.1 454.5 123.2 454.6 112.8 454.7 123 454.8 123.6 454.9 118.5 455 117.9 455.1 124 455.2 120.6 455.3 128.2 455.4 127.3 455.5 117.1 455.6 129.4 455.8 118.6 455.9 118.6 456 119.3 456.1 118.6 456.2 120.2 456.3 132.9 456.4 127.6 456.5 125.7 456.6 118.6 456.7 128.1 456.8 126.2 456.9 124.6 457 116.7 457.1 129.6 457.2 129.2 457.3 120 457.4 132.8 457.5 121.4 457.6 125.8 457.7 130.3 457.8 124.9 457.9 127.6 458 122.1 458.1 121.2 458.2 116 458.3 123 458.5 122.5 458.6 125.6 458.7 123.1 458.8 118 458.9 131.9 459 119.9 459.1 125.4 459.2 122.6 459.3 121.4 459.4 119 459.5 121.8 459.6 124.8 459.7 121.5 459.8 122.9 459.9 123.9 460 122 460.1 118.9 460.2 122.3 460.3 122.2 460.4 128.9 460.5 123.5 460.6 131.6 460.7 119.6 460.8 127.3 460.9 116.9 461 110.3 461.1 125.4 461.3 116.7 461.4 121 461.5 125.5 461.6 126.8 461.7 120.2 461.8 116.3 461.9 121.2 462 129.9 462.1 127.6 462.2 123.8 462.3 116.4 462.4 121.4 462.5 121.2 462.6 117 462.7 123.6 462.8 123.1 462.9 123.5 463 130.9 463.1 120.4 463.2 120.6 463.3 118 463.4 128.1 463.5 126.3 463.6 118.1 463.7 120.9 463.8 116 464 126.4 464.1 121.4 464.2 125.5 464.3 120.9 464.4 124.6 464.5 119.8 464.6 117.2 464.7 119.1 464.8 130.7 464.9 116.2 465 120.1 465.1 127 465.2 126.3 465.3 122 465.4 119.4 465.5 124.2 465.6 129.6 465.7 120.7 465.8 121.2 465.9 110.5 466 128 466.1 110.1 466.2 110.8 466.3 120.4 466.4 114 466.5 121.1 466.6 117.1 466.8 125.1 466.9 121.2 467 126.3 467.1 128.9 467.2 122.7 467.3 124.4 467.4 118.5 467.5 115.2 467.6 121.9 467.7 120.7 467.8 120 467.9 128.7 468 119.5 468.1 120.6 468.2 120.8 468.3 125.7 468.4 129.7 468.5 121.5 468.6 118.7 468.7 113.7 468.8 114.6 468.9 113 469 118.1 469.1 114.2 469.2 120.6 469.3 115.4 469.5 114.9 469.6 106.4 469.7 117.9 469.8 125 469.9 112.2 470 122.4 470.1 118.8 470.2 119.7 470.3 122.5 470.4 111.7 470.5 115 470.6 120.7 470.7 117.3 470.8 119.5 470.9 114.3 471 118.9 471.1 120.6 471.2 119.9 471.3 118.7 471.4 115 471.5 120.7 471.6 116.4 471.7 113.5 471.8 103.9 471.9 111 472 128.5 472.1 117.4 472.3 116.6 472.4 112.8 472.5 106.3 472.6 110.2 472.7 125.2 472.8 112 472.9 112.8 473 111.1 473.1 106.1 473.2 118.3 473.3 107 473.4 121.8 473.5 113.1 473.6 111.2 473.7 101.4 473.8 116.3 473.9 121.1 474 108.9 474.1 115.5 474.2 104 474.3 115.3 474.4 116 474.5 105.1 474.6 110.8 474.7 105.9 474.8 118.1 475 102.3 475.1 113.5 475.2 106.2 475.3 115.3 475.4 118 475.5 111.3 475.6 109 475.7 101.7 475.8 107.9 475.9 105.9 476 106.2 476.1 95.7 476.2 113.6 476.3 103 476.4 110.2 476.5 108.1 476.6 112.3 476.7 103.6 476.8 116 476.9 116.5 477 111 477.1 116 477.2 105.5 477.3 105.8 477.4 114.5 477.5 107 477.6 114.6 477.8 111.7 477.9 111.7 478 99.3 478.1 112.3 478.2 117.2 478.3 117.5 478.4 107.2 478.5 122 478.6 116.4 478.7 116.5 478.8 127.3 478.9 118 479 111.3 479.1 115.7 479.2 121.9 479.3 114.6 479.4 116 479.5 109.2 479.6 123.9 479.7 122.1 479.8 119.9 479.9 121.6 480 120.7 480.1 122.5 480.2 126.8 480.3 133.1 480.5 127 480.6 132.8 480.7 131.1 480.8 128.4 480.9 122.3 481 120.6 481.1 133 481.2 125.1 481.3 122.5 481.4 128.2 481.5 138.6 481.6 142.2 481.7 124.3 481.8 124 481.9 128.4 482 137.1 482.1 122.1 482.2 124.1 482.3 132.2 482.4 133.7 482.5 144.7 482.6 128.6 482.7 143.3 482.8 129.7 482.9 129.8 483 133.9 483.1 125.2 483.3 136.8 483.4 131.5 483.5 130.4 483.6 133.8 483.7 137.8 483.8 128 483.9 132.9 484 136.7 484.1 136.6 484.2 134.9 484.3 122.1 484.4 135.2 484.5 137.3 484.6 142.3 484.7 143.3 484.8 147.4 484.9 134.7 485 136 485.1 142.3 485.2 145.1 485.3 138.2 485.4 139.5 485.5 144.3 485.6 134.6 485.7 135.6 485.8 136.8 486 132 486.1 140.5 486.2 128.5 486.3 142.7 486.4 133.7 486.5 133 486.6 138.3 486.7 134.7 486.8 144.5 486.9 145.8 487 138.1 487.1 141.3 487.2 133.5 487.3 136.8 487.4 133.4 487.5 135.2 487.6 135.9 487.7 136.6 487.8 139.3 487.9 139.9 488 125.1 488.1 147.6 488.2 138.3 488.3 131.3 488.4 134.8 488.5 128.9 488.7 134 488.8 144.8 488.9 139.3 489 145.7 489.1 131.5 489.2 128.8 489.3 140 489.4 134.2 489.5 139.9 489.6 146 489.7 140.1 489.8 146.9 489.9 140.9 490 136.3 490.1 133.2 490.2 129.9 490.3 139.5 490.4 136.2 490.5 135.1 490.6 134.3 490.7 153.3 490.8 142.2 490.9 132.9 491 144.3 491.1 136.2 491.2 132.7 491.3 148.9 491.5 138.8 491.6 136.3 491.7 137.6 491.8 146.8 491.9 135.7 492 142.3 492.1 132.9 492.2 135.2 492.3 141 492.4 136.7 492.5 141.9 492.6 141.9 492.7 147.2 492.8 139.2 492.9 133.1 493 137.2 493.1 138 493.2 141.6 493.3 141 493.4 133.6 493.5 146.8 493.6 125.8 493.7 138.4 493.8 125.2 493.9 128.8 494 140.5 494.2 133.7 494.3 136.6 494.4 135.4 494.5 133.4 494.6 141.4 494.7 141.8 494.8 140.7 494.9 146.3 495 139.8 495.1 136.9 495.2 136.8 495.3 137.1 495.4 140.6 495.5 133.6 495.6 150.5 495.7 140.7 495.8 140.3 495.9 133.1 496 134.5 496.1 133.7 496.2 138.4 496.3 132.8 496.4 144.4 496.5 138.1 496.6 151 496.7 128.4 496.8 129.2 497 142.1 497.1 143.6 497.2 151 497.3 147.7 497.4 137.9 497.5 139.6 497.6 147.4 497.7 141.6 497.8 142.6 497.9 135.9 498 134.5 498.1 140 498.2 138 498.3 138.7 498.4 151.1 498.5 137.7 498.6 139.1 498.7 134.3 498.8 149.6 498.9 134.2 499 142.5 499.1 137.2 499.2 131.6 499.3 147.5 499.4 146.5 499.5 132.9 499.7 145.5 499.8 144.5 499.9 135.3 500 140 500.1 134.2 500.2 136.7 500.3 139 500.4 133 500.5 126 500.6 139.5 500.7 130.2 500.8 132.2 500.9 138.3 501 136.2 501.1 144.5 501.2 142.6 501.3 137.3 501.4 139.2 501.5 131.3 501.6 146.6 501.7 140.7 501.8 142.7 501.9 139.9 502 132.1 502.1 146.1 502.2 134 502.3 142.5 502.5 141 502.6 133.2 502.7 140.7 502.8 135.1 502.9 138.4 503 140.1 503.1 141.2 503.2 149.3 503.3 143.5 503.4 138.1 503.5 137.9 503.6 147.9 503.7 133.2 503.8 135.8 503.9 146.8 504 145.3 504.1 136.2 504.2 149.5 504.3 143.5 504.4 139.5 504.5 139.9 504.6 139.5 504.7 136.9 504.8 143.9 504.9 142.1 505 127.1 505.2 147.5 505.3 141.9 505.4 138.6 505.5 143.1 505.6 132.1 505.7 138.8 505.8 134.8 505.9 154.5 506 132.3 506.1 132.5 506.2 143.7 506.3 131.6 506.4 137.7 506.5 133.9 506.6 128.7 506.7 138.7 506.8 145.3 506.9 139.4 507 149.7 507.1 144.1 507.2 143.9 507.3 143.5 507.4 132.5 507.5 134.5 507.6 144.7 507.7 132.7 507.8 149.3 508 143.3 508.1 140.2 508.2 132.4 508.3 135.1 508.4 136.7 508.5 131.8 508.6 135.2 508.7 131.4 508.8 144 508.9 149.4 509 141.9 509.1 134.6 509.2 137.9 509.3 134.2 509.4 135.3 509.5 136.4 509.6 134.7 509.7 143.7 509.8 133.1 509.9 145.4 510 140.2 510.1 147.8 510.2 136.6 510.3 148.7 510.4 131.3 510.5 147.5 510.7 138.1 510.8 140.4 510.9 144.8 511 132.3 511.1 142.2 511.2 131.1 511.3 145.7 511.4 144.4 511.5 151.4 511.6 136.5 511.7 134.4 511.8 138.4 511.9 140.7 512 145.2 512.1 126 512.2 135.4 512.3 150.6 512.4 141.6 512.5 155.1 512.6 130.6 512.7 128.3 512.8 131.3 512.9 140.2 513 143.4 513.1 148.1 513.2 136.8 513.3 144.3 513.5 142.1 513.6 143.7 513.7 141.8 513.8 134.7 513.9 130.1 514 139.1 514.1 139.9 514.2 146.5 514.3 147.2 514.4 146.3 514.5 134.9 514.6 138.6 514.7 134.4 514.8 137.6 514.9 142.4 515 147.4 515.1 142.3 515.2 148.5 515.3 128.4 515.4 138.6 515.5 142.3 515.6 124.5 515.7 142.4 515.8 136.9 515.9 141.2 516 138.1 516.2 142.4 516.3 137.3 516.4 131.9 516.5 147.7 516.6 153.3 516.7 132.4 516.8 139.3 516.9 135.2 517 142 517.1 131.3 517.2 129.6 517.3 147.2 517.4 136.4 517.5 144 517.6 149.9 517.7 142.2 517.8 137.1 517.9 148.5 518 148.1 518.1 133.3 518.2 140.4 518.3 138.2 518.4 147.3 518.5 144.5 518.6 140 518.7 139.6 518.9 139.9 519 131.4 519.1 139.8 519.2 149.8 519.3 146 519.4 141.2 519.5 133.4 519.6 145 519.7 143.3 519.8 141.2 519.9 146.9 520 145.9 520.1 142.5 520.2 135.3 520.3 138.3 520.4 142.9 520.5 138.9 520.6 148.8 520.7 135.4 520.8 135.7 520.9 139.5 521 150.9 521.1 129.4 521.2 156.3 521.3 147.2 521.4 146.8 521.5 137.3 521.7 150.2 521.8 140 521.9 142.3 522 143.2 522.1 136.4 522.2 133.1 522.3 139.2 522.4 143.1 522.5 154.9 522.6 132.9 522.7 143.3 522.8 152.4 522.9 140.6 523 133.1 523.1 142.4 523.2 148.4 523.3 128.3 523.4 138 523.5 139.1 523.6 135.6 523.7 154.3 523.8 142 523.9 142.6 524 128.3 524.1 144.9 524.2 144.9 524.4 149.8 524.5 146.5 524.6 142.9 524.7 140.1 524.8 142.8 524.9 129.9 525 138.8 525.1 137.9 525.2 133.7 525.3 138 525.4 144.8 525.5 150.8 525.6 139.6 525.7 146.6 525.8 134 525.9 146.3 526 154.9 526.1 141.6 526.2 135.5 526.3 143 526.4 140.8 526.5 140.9 526.6 131.7 526.7 140.1 526.8 142.1 526.9 145.5 527 151.6 527.2 133.7 527.3 135.2 527.4 147.6 527.5 138.4 527.6 140.1 527.7 144.2 527.8 143.9 527.9 137.6 528 149.1 528.1 145.1 528.2 142.5 528.3 142.1 528.4 143.3 528.5 140.8 528.6 139 528.7 147.4 528.8 141.6 528.9 145.2 529 133.3 529.1 150.4 529.2 143.6 529.3 138.1 529.4 143.9 529.5 144.2 529.6 145.4 529.7 140.4 529.9 149.1 530 142.7 530.1 142.8 530.2 150.8 530.3 140.6 530.4 145 530.5 140.4 530.6 137.2 530.7 140.2 530.8 149.2 530.9 140.4 531 151.6 531.1 146.7 531.2 132.5 531.3 142.2 531.4 133.2 531.5 143.3 531.6 142.2 531.7 148.8 531.8 136.8 531.9 143.4 532 138.6 532.1 139.7 532.2 139.2 532.3 140.4 532.4 142.7 532.5 142.3 532.7 146.3 532.8 154.7 532.9 139.4 533 130.1 533.1 135.9 533.2 128.6 533.3 139.4 533.4 147.8 533.5 148 533.6 137.9 533.7 140.2 533.8 143.2 533.9 137.9 534 149.1 534.1 139.2 534.2 143.8 534.3 141.3 534.4 135.3 534.5 143 534.6 134.2 534.7 134.5 534.8 146.6 534.9 128.7 535 149.4 535.1 142.8 535.2 137.9 535.4 155.5 535.5 136.2 535.6 135.6 535.7 142.9 535.8 140.7 535.9 141 536 143.5 536.1 136 536.2 144.5 536.3 142.6 536.4 140.2 536.5 137.4 536.6 135.9 536.7 151 536.8 154.2 536.9 143.2 537 142.7 537.1 148.7 537.2 140.6 537.3 138.7 537.4 140.2 537.5 132.8 537.6 148.5 537.7 142.3 537.8 131.2 537.9 138.5 538 149 538.2 141.3 538.3 135.7 538.4 130.4 538.5 138.7 538.6 135.8 538.7 149 538.8 144 538.9 135.6 539 148.2 539.1 143 539.2 153.5 539.3 134 539.4 143.4 539.5 139.4 539.6 151.5 539.7 150.4 539.8 132.2 539.9 144.7 540 145.9 540.1 139.8 540.2 139.5 540.3 154.2 540.4 148.5 540.5 142.5 540.6 142.8 540.7 140.8 540.9 145.3 541 145 541.1 141.6 541.2 146.9 541.3 147.7 541.4 146.1 541.5 142.9 541.6 143.8 541.7 145.7 541.8 144.4 541.9 143.2 542 141.1 542.1 140.9 542.2 150.5 542.3 137.4 542.4 152.3 542.5 139.9 542.6 147.2 542.7 139.7 542.8 136.9 542.9 154 543 139.6 543.1 141.5 543.2 145.8 543.3 140.9 543.4 146 543.5 142.5 543.7 149.3 543.8 138.7 543.9 139.8 544 138.9 544.1 147 544.2 132.6 544.3 131.9 544.4 143.8 544.5 145.7 544.6 145.7 544.7 139.3 544.8 137.4 544.9 147.6 545 155 545.1 140.7 545.2 143.6 545.3 142.4 545.4 140.4 545.5 149.8 545.6 143.1 545.7 145.2 545.8 141.3 545.9 136.4 546 143.5 546.1 148.4 546.2 136.3 546.4 139.5 546.5 144.7 546.6 154 546.7 148.6 546.8 142.8 546.9 140.5 547 146.7 547.1 141.2 547.2 147.4 547.3 146.2 547.4 140.7 547.5 145.3 547.6 143 547.7 138.7 547.8 137.3 547.9 147.2 548 145.3 548.1 151.5 548.2 151.4 548.3 142.2 548.4 146.9 548.5 154.6 548.6 140.9 548.7 148.8 548.8 145.7 548.9 141.6 549.1 141.7 549.2 144.3 549.3 155.4 549.4 140.8 549.5 147.4 549.6 152.2 549.7 156.7 549.8 136.5 549.9 143.3 550 143.4 550.1 140.6 550.2 144.8 550.3 152.6 550.4 140.2 550.5 138.4 550.6 141.2 550.7 135.3 550.8 133.2 550.9 148.7 551 146.7 551.1 139.1 551.2 143.2 551.3 143 551.4 138.9 551.5 140 551.6 146.7 551.7 143.5 551.9 148.3 552 145.3 552.1 150.6 552.2 155.5 552.3 147.1 552.4 147.6 552.5 139.2 552.6 135.3 552.7 144.1 552.8 141.6 552.9 147.9 553 149.6 553.1 145.9 553.2 145.9 553.3 142.6 553.4 143.7 553.5 134.9 553.6 145.6 553.7 153.7 553.8 143.7 553.9 148.1 554 143.2 554.1 138 554.2 148 554.3 144.8 554.4 141.5 554.6 149.8 554.7 143.2 554.8 141.3 554.9 139.8 555 138.2 555.1 141.3 555.2 142.2 555.3 152.4 555.4 159.7 555.5 149.9 555.6 136.4 555.7 143.8 555.8 157.3 555.9 146.9 556 142.4 556.1 155 556.2 141.3 556.3 151 556.4 138.6 556.5 144.4 556.6 129.1 556.7 152.1 556.8 142.9 556.9 152.9 557 138 557.1 143.9 557.2 139.3 557.4 144 557.5 151.2 557.6 148.3 557.7 151.6 557.8 150.5 557.9 143.8 558 138.6 558.1 139.8 558.2 141.7 558.3 147.9 558.4 141.8 558.5 149.5 558.6 143.5 558.7 140 558.8 145.8 558.9 147.4 559 147.2 559.1 141.3 559.2 146.5 559.3 152.8 559.4 147.1 559.5 150.8 559.6 136.3 559.7 144.7 559.8 153.1 559.9 143.3 560.1 140.8 560.2 142.7 560.3 146.9 560.4 144 560.5 143.3 560.6 139.2 560.7 142.8 560.8 132.1 560.9 146.1 561 136.3 561.1 144.8 561.2 154.6 561.3 151.6 561.4 155.2 561.5 154.7 561.6 138.2 561.7 148.7 561.8 141.6 561.9 150.1 562 145.1 562.1 151 562.2 140.2 562.3 146.5 562.4 147.6 562.5 146 562.6 132.9 562.7 142.6 562.9 140.4 563 152.1 563.1 148.8 563.2 143.5 563.3 155.6 563.4 137.7 563.5 143.7 563.6 145.3 563.7 146.3 563.8 146.6 563.9 148.1 564 137.4 564.1 141.4 564.2 138.3 564.3 147 564.4 150.3 564.5 135 564.6 152.2 564.7 148.8 564.8 141.4 564.9 139.3 565 152.8 565.1 146.9 565.2 145.3 565.3 146.2 565.4 150.3 565.6 141.7 565.7 148.4 565.8 146.8 565.9 158.1 566 146.1 566.1 156.4 566.2 141.6 566.3 142.8 566.4 148.4 566.5 144.7 566.6 145 566.7 146.4 566.8 143.6 566.9 146.3 567 148.3 567.1 150.1 567.2 136.3 567.3 144.6 567.4 145.8 567.5 141.6 567.6 147.9 567.7 147.9 567.8 142 567.9 140 568 142 568.1 154.1 568.2 145.5 568.4 145.9 568.5 143.3 568.6 150.8 568.7 151.7 568.8 146.5 568.9 150.8 569 151.8 569.1 146.3 569.2 138.9 569.3 145.2 569.4 139.7 569.5 151.5 569.6 142 569.7 146 569.8 152.6 569.9 148.3 570 150.8 570.1 147.2 570.2 150.2 570.3 139 570.4 148.1 570.5 156.8 570.6 147.2 570.7 144 570.8 147.9 570.9 141.4 571.1 151.2 571.2 152.6 571.3 137.2 571.4 146.2 571.5 143.2 571.6 143.5 571.7 143 571.8 146 571.9 147.3 572 140.3 572.1 149 572.2 145.6 572.3 142.5 572.4 148.5 572.5 154.8 572.6 143.8 572.7 140.4 572.8 145 572.9 155.6 573 142.8 573.1 135.5 573.2 154.9 573.3 161.4 573.4 147.8 573.5 146 573.6 142.1 573.7 141.9 573.9 146 574 143.5 574.1 144.6 574.2 145.8 574.3 146.8 574.4 147.4 574.5 142.7 574.6 144.3 574.7 148.9 574.8 140.6 574.9 150.6 575 147.9 575.1 145.9 575.2 157 575.3 148.7 575.4 142 575.5 142.2 575.6 153.2 575.7 151.2 575.8 152.6 575.9 148 576 147.1 576.1 155.5 576.2 145 576.3 146.4 576.4 147.2 576.6 150.5 576.7 147.8 576.8 156.5 576.9 145.6 577 145.7 577.1 147.4 577.2 153.3 577.3 139.9 577.4 140.7 577.5 157.1 577.6 144.7 577.7 146.1 577.8 160.9 577.9 144.1 578 142.2 578.1 143 578.2 146.1 578.3 150.6 578.4 149.8 578.5 144.2 578.6 140.7 578.7 149.7 578.8 148.6 578.9 143.3 579 158.8 579.1 144.7 579.3 148.4 579.4 159 579.5 142.9 579.6 152.1 579.7 142.8 579.8 139.7 579.9 153.9 580 153.7 580.1 147.3 580.2 156.7 580.3 143.3 580.4 146.2 580.5 141.9 580.6 157.2 580.7 146.2 580.8 144.7 580.9 157 581 142.4 581.1 157.4 581.2 146.3 581.3 154.4 581.4 143 581.5 138.1 581.6 146.8 581.7 147.1 581.8 140.3 581.9 149.7 582.1 147 582.2 142.9 582.3 145 582.4 138.8 582.5 140.8 582.6 136.8 582.7 147.4 582.8 141.2 582.9 151.7 583 142.3 583.1 137.7 583.2 134.4 583.3 154 583.4 148.1 583.5 143.3 583.6 151.9 583.7 144.2 583.8 144.2 583.9 149.8 584 150.1 584.1 152.2 584.2 145.5 584.3 140.3 584.4 145.6 584.5 132.7 584.6 155.3 584.8 150.4 584.9 143.6 585 155.5 585.1 145.4 585.2 142.9 585.3 146.3 585.4 148.5 585.5 142.2 585.6 145.1 585.7 143.4 585.8 144.4 585.9 152.1 586 153.4 586.1 149.5 586.2 146.4 586.3 148.5 586.4 142.3 586.5 146.1 586.6 142.2 586.7 146.9 586.8 151.4 586.9 142.9 587 144.8 587.1 152.1 587.2 149.8 587.3 133.1 587.4 163.1 587.6 141.5 587.7 147.3 587.8 148.1 587.9 149.3 588 150.5 588.1 134.9 588.2 150.2 588.3 149.5 588.4 143.5 588.5 145.8 588.6 148.9 588.7 149.5 588.8 155.2 588.9 142 589 153.7 589.1 161.2 589.2 142.3 589.3 143.9 589.4 146.2 589.5 150.9 589.6 141.6 589.7 154 589.8 160.1 589.9 147.3 590 143.7 590.1 144.8 590.3 136.8 590.4 143.6 590.5 149.5 590.6 149.3 590.7 143.4 590.8 148.6 590.9 149 591 158 591.1 150 591.2 155.4 591.3 147 591.4 147.6 591.5 144.4 591.6 138.5 591.7 149.4 591.8 140.4 591.9 154.6 592 147.5 592.1 143.2 592.2 137.7 592.3 154.5 592.4 149.9 592.5 147.7 592.6 149 592.7 153.7 592.8 157.5 592.9 155.2 593.1 149 593.2 155.9 593.3 138.7 593.4 141.8 593.5 159 593.6 151.3 593.7 141.3 593.8 140.6 593.9 142.4 594 156.5 594.1 150.6 594.2 141.6 594.3 148.1 594.4 151.1 594.5 145.9 594.6 143.2 594.7 147.9 594.8 147.3 594.9 142.8 595 151.8 595.1 153.7 595.2 144.5 595.3 155.3 595.4 146 595.5 152.8 595.6 144.1 595.8 155.3 595.9 142.5 596 147.2 596.1 150.5 596.2 153.5 596.3 149.7 596.4 153.9 596.5 155.4 596.6 142.9 596.7 145.6 596.8 142.1 596.9 156.3 597 159.6 597.1 157.6 597.2 145.3 597.3 144.5 597.4 159.1 597.5 143.3 597.6 151.3 597.7 155.5 597.8 149.4 597.9 145.8 598 150.2 598.1 150 598.2 153.6 598.3 156.8 598.4 151.1 598.6 158 598.7 145.7 598.8 153.8 598.9 141.8 599 157.8 599.1 141.3 599.2 154 599.3 154 599.4 147.5 599.5 144.1 599.6 149.3 599.7 151.1 599.8 138.1 599.9 146.3 600 155.8 600.1 150.6 600.2 139.8 600.3 147.3 600.4 144.6 600.5 137.9 600.6 152.4 600.7 147.1 600.8 152.9 600.9 149.2 601 146.2 601.1 156.5 601.3 148.4 601.4 148.4 601.5 143.4 601.6 152.5 601.7 156.2 601.8 147 601.9 155.4 602 148.2 602.1 146.1 602.2 154.1 602.3 149.9 602.4 155 602.5 164.1 602.6 157.3 602.7 160.8 602.8 149.2 602.9 155.2 603 150.1 603.1 149.6 603.2 141.4 603.3 151.2 603.4 151.5 603.5 146.5 603.6 140.4 603.7 149.8 603.8 147.4 603.9 150.4 604.1 153.2 604.2 157.9 604.3 150 604.4 150.8 604.5 150.7 604.6 138.4 604.7 151.2 604.8 147.5 604.9 151.3 605 142.8 605.1 151 605.2 139.1 605.3 150.8 605.4 145.1 605.5 143.7 605.6 150.7 605.7 144.7 605.8 149 605.9 153.6 606 153.1 606.1 147.6 606.2 139.6 606.3 152.1 606.4 146.4 606.5 153.9 606.6 148 606.8 156.6 606.9 153.8 607 149.5 607.1 153.6 607.2 151 607.3 144 607.4 150.2 607.5 153.5 607.6 156.4 607.7 152.6 607.8 143.4 607.9 150.2 608 150.6 608.1 145.9 608.2 145.4 608.3 144.9 608.4 152.4 608.5 155.6 608.6 159.8 608.7 154.5 608.8 152.2 608.9 146.2 609 148.5 609.1 153.5 609.2 145.6 609.3 157.4 609.4 156.3 609.6 157.1 609.7 156.7 609.8 152.2 609.9 155.5 610 155.2 610.1 143.8 610.2 159.2 610.3 157 610.4 152.8 610.5 149.2 610.6 149.2 610.7 153.4 610.8 154.1 610.9 153.8 611 148.5 611.1 157.7 611.2 167.4 611.3 152.2 611.4 159.7 611.5 154 611.6 146.6 611.7 153.8 611.8 144.9 611.9 166.5 612 154.2 612.1 153.9 612.3 152 612.4 160.7 612.5 156.5 612.6 157.2 612.7 157.9 612.8 166 612.9 168.4 613 157.5 613.1 159.3 613.2 161.7 613.3 159.9 613.4 159.5 613.5 172.3 613.6 164.9 613.7 163.1 613.8 166.5 613.9 169.7 614 170.2 614.1 180.9 614.2 177.5 614.3 171.7 614.4 170.6 614.5 175.9 614.6 180.7 614.7 180.1 614.8 176.7 615 170 615.1 178.7 615.2 184.9 615.3 181.1 615.4 182.1 615.5 176 615.6 184.1 615.7 187.3 615.8 188.7 615.9 194 616 194.3 616.1 193.1 616.2 195.3 616.3 192.7 616.4 194 616.5 192.1 616.6 191.2 616.7 196.8 616.8 198.9 616.9 205.1 617 198.9 617.1 199 617.2 204.3 617.3 204.1 617.4 206 617.5 201.9 617.6 204.2 617.8 203.5 617.9 210.8 618 201.6 618.1 211.3 618.2 212.2 618.3 209.8 618.4 212.1 618.5 207 618.6 212.6 618.7 215.9 618.8 212.7 618.9 212.4 619 216.7 619.1 216.1 619.2 216 619.3 215.8 619.4 212.2 619.5 213.2 619.6 213.6 619.7 213.3 619.8 215.7 619.9 214.1 620 215.9 620.1 217.3 620.2 212.7 620.3 219.2 620.5 215.9 620.6 217 620.7 219.1 620.8 216.7 620.9 215.9 621 215.1 621.1 217.6 621.2 214.6 621.3 215.5 621.4 214.5 621.5 219.7 621.6 216.9 621.7 217.2 621.8 215 621.9 217.5 622 217.1 622.1 218.2 622.2 218.3 622.3 217.9 622.4 214.3 622.5 218.1 622.6 220.7 622.7 215.6 622.8 217.3 622.9 215.1 623 215.1 623.1 216.7 623.3 216.9 623.4 217.2 623.5 216.2 623.6 217.6 623.7 215.8 623.8 213.6 623.9 217.4 624 217.3 624.1 217.3 624.2 215 624.3 214.9 624.4 213.5 624.5 214.8 624.6 215.9 624.7 215.3 624.8 218.6 624.9 215.1 625 215.7 625.1 212.3 625.2 213.6 625.3 217.7 625.4 217.2 625.5 214.5 625.6 220 625.7 217.9 625.8 215.5 626 214.9 626.1 215.8 626.2 214 626.3 216.7 626.4 216 626.5 216.5 626.6 218.2 626.7 216.1 626.8 217.2 626.9 216 627 221 627.1 215.9 627.2 217.5 627.3 217.3 627.4 216.1 627.5 217 627.6 214.4 627.7 213.8 627.8 214.5 627.9 214.3 628 215.5 628.1 216.1 628.2 218.5 628.3 216.8 628.4 213.9 628.5 214.7 628.6 217.1 628.8 215.9 628.9 214.2 629 216.4 629.1 213.1 629.2 217.6 629.3 214.7 629.4 214.9 629.5 215.8 629.6 215.6 629.7 215.1 629.8 220.4 629.9 215.3 630 214 630.1 215.4 630.2 214 630.3 218.3 630.4 216.3 630.5 215.5 630.6 216.6 630.7 213.9 630.8 215.2 630.9 217.1 631 214.6 631.1 214.6 631.2 217 631.3 215 631.5 215.4 631.6 215.5 631.7 218.5 631.8 213.8 631.9 214.9 632 216.2 632.1 215.5 632.2 215.5 632.3 216.7 632.4 217.2 632.5 216 632.6 217.3 632.7 217.1 632.8 218.3 632.9 216.7 633 214.3 633.1 215.8 633.2 216.1 633.3 216.8 633.4 217 633.5 219 633.6 213.1 633.7 217.5 633.8 219 633.9 215.4 634 215.7 634.1 217.1 634.3 218.9 634.4 218.7 634.5 213.3 634.6 216.4 634.7 217.4 634.8 212.7 634.9 217.2 635 217.9 635.1 215.2 635.2 215.5 635.3 213.3 635.4 219.1 635.5 215.6 635.6 219.3 635.7 215.3 635.8 217.4 635.9 217.1 636 217.6 636.1 214.6 636.2 213.2 636.3 216.4 636.4 216.7 636.5 217.1 636.6 215.2 636.7 218.1 636.8 211.2 637 216.6 637.1 213 637.2 215.9 637.3 219.7 637.4 219.1 637.5 217 637.6 218.1 637.7 216.7 637.8 218.4 637.9 211.9 638 212.3 638.1 219.7 638.2 215.4 638.3 214.1 638.4 217 638.5 216.8 638.6 214.4 638.7 215.4 638.8 218.7 638.9 214.2 639 217.4 639.1 213.1 639.2 218.3 639.3 220.7 639.4 216.4 639.5 214.4 639.6 215.7 639.8 216.3 639.9 218.3 640 215 640.1 220.1 640.2 215.4 640.3 219.1 640.4 218.2 640.5 219.6 640.6 219 640.7 215 640.8 219.7 640.9 217.6 641 219.4 641.1 216.6 641.2 220.7 641.3 218.6 641.4 217.4 641.5 215.5 641.6 221.1 641.7 220.8 641.8 219.7 641.9 217.7 642 221.6 642.1 219.3 642.2 221.5 642.3 222.3 642.5 224 642.6 221.5 642.7 220.8 642.8 222.3 642.9 224.6 643 223.2 643.1 222 643.2 222.3 643.3 222.9 643.4 222 643.5 224.4 643.6 224.7 643.7 222.7 643.8 223.7 643.9 224.3 644 224.5 644.1 224.8 644.2 223.9 644.3 224.8 644.4 224.8 644.5 224.4 644.6 223.6 644.7 224.5 644.8 224.2 644.9 224.6 645 224.2 645.2 224.8 645.3 223.4 645.4 224.8 645.5 224.1 645.6 224.8 645.7 223.5 645.8 224.2 645.9 223.4 646 224.7 646.1 223.9 646.2 224.4 646.3 224.4 646.4 223.8 646.5 224.8 646.6 224 646.7 223.5 646.8 223.6 646.9 223.9 647 224.2 647.1 224.8 647.2 223.5 647.3 224.7 647.4 223.8 647.5 224.5 647.6 224.4 647.7 224.4 647.8 224.1 648 224.6 648.1 224.3 648.2 224.6 648.3 224.1 648.4 224.3 648.5 224.2 648.6 224.8 648.7 224.2 648.8 224.4 648.9 224.1 649 224.4 649.1 224.8 649.2 224.1 649.3 224.7 649.4 224.3 649.5 224.8 649.6 224.2 649.7 224.1 649.8 224.8 649.9 224.1 650 224.6 650.1 223.8 650.2 224.1 650.3 224.8 650.4 224.5 650.5 224.8 650.7 224.5 650.8 224.2 650.9 224 651 224.4 651.1 224.5 651.2 224.3 651.3 224.8 651.4 224.3 651.5 223.9 651.6 224.3 651.7 224 651.8 224.7 651.9 224.6 652 224.2 652.1 223.5 652.2 223.9 652.3 223.6 652.4 224.4 652.5 223.8 652.6 224.8 652.7 224.1 652.8 224.8 652.9 223.8 653 224.2 653.1 223.7 653.2 224.2 653.3 224.6 653.5 224.7 653.6 224.3 653.7 223.7 653.8 224.1 653.9 224.6 654 224.6 654.1 224.7 654.2 224.5 654.3 224.4 654.4 224.6 654.5 224.4 654.6 224.8 654.7 223.7 654.8 224.3 654.9 223.7 655 224.2 655.1 224.5 655.2 224.3 655.3 224.3 655.4 224.7 655.5 224.5 655.6 223.5 655.7 224 655.8 224.6 655.9 224.1 656 224.8 656.2 223.8 656.3 224.8 656.4 224 656.5 224.4 656.6 224.4 656.7 224.7 656.8 224.5 656.9 224.7 657 224.7 657.1 224.2 657.2 223.3 657.3 224.5 657.4 223.9 657.5 224.4 657.6 224.7 657.7 223.8 657.8 224.1 657.9 223.9 658 224.3 658.1 224.3 658.2 224.7 658.3 224.5 658.4 223.6 658.5 224.8 658.6 224.2 658.7 223.7 658.8 224 659 224 659.1 224.5 659.2 223.9 659.3 223.9 659.4 224.4 659.5 223.4 659.6 224.6 659.7 224.8 659.8 224.4 659.9 224.4 660 224.7 660.1 224.6 660.2 224.6 660.3 224.8 660.4 223.8 660.5 224.4 660.6 223.2 660.7 224.4 660.8 224.2 660.9 224.8 661 223.9 661.1 224.8 661.2 224.1 661.3 224 661.4 224 661.5 224.7 661.7 224.7 661.8 224 661.9 223.8 662 223.7 662.1 224.4 662.2 224.4 662.3 223.6 662.4 224.6 662.5 224 662.6 224.5 662.7 224.8 662.8 224.8 662.9 224.2 663 224.3 663.1 224.1 663.2 224.5 663.3 224.6 663.4 224.2 663.5 224.4 663.6 224.8 663.7 224.6 663.8 223.6 663.9 224.7 664 224.1 664.1 224.4 664.2 224 664.3 224.7 664.5 224.8 664.6 224.2 664.7 224.7 664.8 224.4 664.9 224.5 665 223.9 665.1 224.3 665.2 224.3 665.3 224.8 665.4 224.8 665.5 224.7 665.6 223.9 665.7 224 665.8 224.1 665.9 224.5 666 224.8 666.1 223.9 666.2 224.3 666.3 224.1 666.4 224.8 666.5 224.7 666.6 224.1 666.7 224.1 666.8 224.8 666.9 224.2 667 224.8 667.2 223.8 667.3 224.1 667.4 223.4 667.5 223.7 667.6 224.7 667.7 224.3 667.8 224.6 667.9 224.3 668 224 668.1 224.4 668.2 224.3 668.3 224.8 668.4 224.1 668.5 224.4 668.6 224.1 668.7 223.9 668.8 224.4 668.9 224.1 669 224.6 669.1 224 669.2 224.4 669.3 224.6 669.4 224.5 669.5 224.8 669.6 224.7 669.7 224.6 669.8 224.4 670 224.4 670.1 224.7 670.2 224.5 670.3 224.8 670.4 224.3 670.5 224.1 670.6 223.9 670.7 223.9 670.8 224.5 670.9 224.4 671 224.6 671.1 224.6 671.2 224.3 671.3 223.8 671.4 224.8 671.5 224.6 671.6 224.3 671.7 224.8 671.8 224.2 671.9 224.8 672 224.5 672.1 224.8 672.2 224.3 672.3 224.7 672.4 224.1 672.5 224.5 672.7 224.8" fill="none" stroke="#000" stroke-width="0.4" stroke-opacity="0.3"/>
<path d="M373.8 20h2.3M373.9 26.9h2.3M374 26.6h2.3M374.1 45.1h2.3M374.2 8.4h2.3M374.3 14.9h2.3M374.4 28.4h2.3M374.5 19.5h2.3M374.6 24.5h2.3M374.7 32.4h2.3M374.8 19.7h2.3M374.9 31.6h2.3M375 32.3h2.3M375.1 37h2.3M375.2 26.7h2.3M375.3 32.1h2.3M375.4 27.1h2.3M375.5 37.5h2.3M375.6 31.7h2.3M375.7 41h2.3M375.8 26.7h2.3M375.9 32.8h2.3M376 32.1h2.3M376.1 32h2.3M376.2 44.6h2.3M376.4 29.8h2.3M376.5 19.5h2.3M376.6 51.4h2.3M376.7 52.7h2.3M376.8 55.7h2.3M376.9 31.9h2.3M377 38.4h2.3M377.1 30.8h2.3M377.2 34.3h2.3M377.3 39.1h2.3M377.4 38.9h2.3M377.5 43.7h2.3M377.6 35h2.3M377.7 52.2h2.3M377.8 46.7h2.3M377.9 41.5h2.3M378 29h2.3M378.1 50.8h2.3M378.2 53.9h2.3M378.3 50h2.3M378.4 37.7h2.3M378.5 48.1h2.3M378.6 35.6h2.3M378.7 62.5h2.3M378.8 38h2.3M378.9 39.2h2.3M379.1 59.9h2.3M379.2 47.3h2.3M379.3 38.9h2.3M379.4 48.6h2.3M379.5 41.5h2.3M379.6 30.6h2.3M379.7 48.3h2.3M379.8 53.2h2.3M379.9 57.6h2.3M380 46.4h2.3M380.1 53.6h2.3M380.2 53.9h2.3M380.3 53.6h2.3M380.4 47.9h2.3M380.5 62.2h2.3M380.6 66.3h2.3M380.7 74h2.3M380.8 44.9h2.3M380.9 54.3h2.3M381 43.1h2.3M381.1 55.7h2.3M381.2 62h2.3M381.3 52.5h2.3M381.4 57.3h2.3M381.5 67.1h2.3M381.6 64.5h2.3M381.7 43.5h2.3M381.9 55.2h2.3M382 55h2.3M382.1 60.9h2.3M382.2 64.5h2.3M382.3 52.2h2.3M382.4 60.5h2.3M382.5 66.1h2.3M382.6 61.4h2.3M382.7 67.9h2.3M382.8 59.5h2.3M382.9 52.3h2.3M383 68.2h2.3M383.1 50.6h2.3M383.2 67.5h2.3M383.3 61.3h2.3M383.4 69.5h2.3M383.5 64.9h2.3M383.6 63.1h2.3M383.7 67.2h2.3M383.8 69.6h2.3M383.9 69.7h2.3M384 71.2h2.3M384.1 77.3h2.3M384.2 67.4h2.3M384.3 62.5h2.3M384.4 58.8h2.3M384.6 61.2h2.3M384.7 47.3h2.3M384.8 64.3h2.3M384.9 70.7h2.3M385 52.8h2.3M385.1 75.9h2.3M385.2 60.5h2.3M385.3 75.7h2.3M385.4 65.9h2.3M385.5 84.2h2.3M385.6 62.2h2.3M385.7 70.7h2.3M385.8 77.3h2.3M385.9 57.1h2.3M386 64.5h2.3M386.1 70.2h2.3M386.2 76.7h2.3M386.3 71.6h2.3M386.4 72.8h2.3M386.5 66.3h2.3M386.6 66h2.3M386.7 77.6h2.3M386.8 76.9h2.3M386.9 77.1h2.3M387 83.6h2.3M387.1 78.1h2.3M387.2 74.6h2.3M387.4 68.9h2.3M387.5 64.4h2.3M387.6 80.9h2.3M387.7 70.8h2.3M387.8 78.7h2.3M387.9 59.8h2.3M388 76.2h2.3M388.1 72.3h2.3M388.2 83.5h2.3M388.3 82.8h2.3M388.4 75.4h2.3M388.5 80.1h2.3M388.6 74.8h2.3M388.7 89.5h2.3M388.8 73h2.3M388.9 85h2.3M389 65.6h2.3M389.1 81h2.3M389.2 70.8h2.3M389.3 93.4h2.3M389.4 76.4h2.3M389.5 86.5h2.3M389.6 83.7h2.3M389.7 80.1h2.3M389.8 82.9h2.3M389.9 78.8h2.3M390.1 73.5h2.3M390.2 76.4h2.3M390.3 82.2h2.3M390.4 91.9h2.3M390.5 88h2.3M390.6 83.7h2.3M390.7 98.2h2.3M390.8 77.1h2.3M390.9 84.7h2.3M391 85h2.3M391.1 76.3h2.3M391.2 78.6h2.3M391.3 82.1h2.3M391.4 91.3h2.3M391.5 81.9h2.3M391.6 81.8h2.3M391.7 91h2.3M391.8 77.1h2.3M391.9 81.2h2.3M392 104.5h2.3M392.1 84.4h2.3M392.2 94.7h2.3M392.3 77.4h2.3M392.4 80h2.3M392.5 96.9h2.3M392.6 92.7h2.3M392.7 85.7h2.3M392.9 88.3h2.3M393 75.8h2.3M393.1 81.6h2.3M393.2 89.2h2.3M393.3 83.2h2.3M393.4 102.1h2.3M393.5 85.5h2.3M393.6 81.6h2.3M393.7 89.3h2.3M393.8 93.3h2.3M393.9 84.3h2.3M394 74.6h2.3M394.1 87.2h2.3M394.2 96.8h2.3M394.3 78.8h2.3M394.4 107.2h2.3M394.5 85.8h2.3M394.6 93.6h2.3M394.7 83.1h2.3M394.8 95.8h2.3M394.9 80.7h2.3M395 88h2.3M395.1 102.5h2.3M395.2 104.3h2.3M395.3 92.8h2.3M395.4 81.7h2.3M395.6 90.1h2.3M395.7 90.6h2.3M395.8 92.9h2.3M395.9 86.3h2.3M396 88.9h2.3M396.1 89.8h2.3M396.2 98.7h2.3M396.3 83.8h2.3M396.4 82.8h2.3M396.5 101.4h2.3M396.6 76.6h2.3M396.7 87.7h2.3M396.8 96.2h2.3M396.9 106.1h2.3M397 88.6h2.3M397.1 89.5h2.3M397.2 97.5h2.3M397.3 105.9h2.3M397.4 86.1h2.3M397.5 97.9h2.3M397.6 97.3h2.3M397.7 75.8h2.3M397.8 79.9h2.3M397.9 88.1h2.3M398 97.8h2.3M398.1 90.5h2.3M398.2 110.5h2.3M398.4 94.5h2.3M398.5 100.5h2.3M398.6 104.2h2.3M398.7 106.4h2.3M398.8 92.3h2.3M398.9 95.4h2.3M399 95.1h2.3M399.1 90.7h2.3M399.2 102.2h2.3M399.3 104.9h2.3M399.4 108.7h2.3M399.5 99.3h2.3M399.6 92.1h2.3M399.7 98.3h2.3M399.8 93.3h2.3M399.9 105.5h2.3M400 101h2.3M400.1 104.8h2.3M400.2 106.4h2.3M400.3 86.1h2.3M400.4 90.9h2.3M400.5 103.7h2.3M400.6 103.9h2.3M400.7 99.4h2.3M400.8 108.6h2.3M400.9 96.5h2.3M401.1 107.9h2.3M401.2 102.1h2.3M401.3 106.5h2.3M401.4 103.1h2.3M401.5 108.8h2.3M401.6 110.5h2.3M401.7 106.7h2.3M401.8 104.9h2.3M401.9 102.6h2.3M402 100.3h2.3M402.1 91.1h2.3M402.2 95.8h2.3M402.3 102.8h2.3M402.4 96.6h2.3M402.5 105.8h2.3M402.6 92.2h2.3M402.7 98.1h2.3M402.8 110.4h2.3M402.9 97h2.3M403 96.7h2.3M403.1 119.2h2.3M403.2 106.9h2.3M403.3 105.3h2.3M403.4 114.6h2.3M403.5 109.3h2.3M403.6 108.6h2.3M403.7 99.5h2.3M403.9 100.9h2.3M404 86.3h2.3M404.1 105.5h2.3M404.2 95.8h2.3M404.3 102.7h2.3M404.4 101.6h2.3M404.5 110.7h2.3M404.6 115.5h2.3M404.7 108.4h2.3M404.8 98.9h2.3M404.9 93.8h2.3M405 100h2.3M405.1 100.8h2.3M405.2 109.2h2.3M405.3 94.5h2.3M405.4 95.8h2.3M405.5 107.6h2.3M405.6 104.6h2.3M405.7 110.6h2.3M405.8 95.4h2.3M405.9 102.1h2.3M406 105.3h2.3M406.1 102.3h2.3M406.2 102.1h2.3M406.3 107.5h2.3M406.4 112.7h2.3M406.6 113h2.3M406.7 115.9h2.3M406.8 102.4h2.3M406.9 91.7h2.3M407 115.8h2.3M407.1 104.7h2.3M407.2 103.1h2.3M407.3 111.7h2.3M407.4 104.5h2.3M407.5 112.5h2.3M407.6 98.6h2.3M407.7 109.6h2.3M407.8 105.4h2.3M407.9 102h2.3M408 108.8h2.3M408.1 117.1h2.3M408.2 109.6h2.3M408.3 101.8h2.3M408.4 107h2.3M408.5 105.2h2.3M408.6 113.2h2.3M408.7 105.9h2.3M408.8 102.4h2.3M408.9 106.7h2.3M409 95.5h2.3M409.1 108.3h2.3M409.3 113.3h2.3M409.4 116.9h2.3M409.5 100.4h2.3M409.6 107.7h2.3M409.7 101.4h2.3M409.8 104.7h2.3M409.9 97.9h2.3M410 100.1h2.3M410.1 109.9h2.3M410.2 106.1h2.3M410.3 101.4h2.3M410.4 115.2h2.3M410.5 99.4h2.3M410.6 100.9h2.3M410.7 102.3h2.3M410.8 109.4h2.3M410.9 106.5h2.3M411 114.9h2.3M411.1 108.1h2.3M411.2 111.9h2.3M411.3 108h2.3M411.4 111.5h2.3M411.5 107h2.3M411.6 101.9h2.3M411.7 116.5h2.3M411.8 103.5h2.3M411.9 120.6h2.3M412.1 121.6h2.3M412.2 109.8h2.3M412.3 109.1h2.3M412.4 106.7h2.3M412.5 118.9h2.3M412.6 109.8h2.3M412.7 108.7h2.3M412.8 102.3h2.3M412.9 110.2h2.3M413 106.6h2.3M413.1 115.4h2.3M413.2 110.9h2.3M413.3 112.5h2.3M413.4 106h2.3M413.5 115.7h2.3M413.6 114.9h2.3M413.7 106.9h2.3M413.8 100.1h2.3M413.9 108.2h2.3M414 108.7h2.3M414.1 112.5h2.3M414.2 102.2h2.3M414.3 107.6h2.3M414.4 100.9h2.3M414.5 109h2.3M414.6 116.3h2.3M414.8 114.2h2.3M414.9 116.7h2.3M415 118.2h2.3M415.1 104.1h2.3M415.2 106.7h2.3M415.3 118.4h2.3M415.4 101.4h2.3M415.5 110.2h2.3M415.6 117h2.3M415.7 109.5h2.3M415.8 112.2h2.3M415.9 116.2h2.3M416 122.8h2.3M416.1 111.8h2.3M416.2 110.4h2.3M416.3 126.5h2.3M416.4 109.1h2.3M416.5 108.9h2.3M416.6 115h2.3M416.7 111.8h2.3M416.8 114.1h2.3M416.9 117.3h2.3M417 114.7h2.3M417.1 105.3h2.3M417.2 120.9h2.3M417.3 111.6h2.3M417.4 112h2.3M417.6 117h2.3M417.7 115.6h2.3M417.8 120.9h2.3M417.9 118h2.3M418 113.3h2.3M418.1 111.1h2.3M418.2 118.5h2.3M418.3 98.9h2.3M418.4 116.8h2.3M418.5 113.1h2.3M418.6 115.1h2.3M418.7 116.1h2.3M418.8 107h2.3M418.9 116.7h2.3M419 107h2.3M419.1 108.1h2.3M419.2 120h2.3M419.3 108.8h2.3M419.4 118h2.3M419.5 100h2.3M419.6 116.7h2.3M419.7 119.8h2.3M419.8 125h2.3M419.9 121.8h2.3M420 118h2.3M420.1 122.2h2.3M420.3 121.6h2.3M420.4 118.9h2.3M420.5 116.3h2.3M420.6 104.9h2.3M420.7 124.4h2.3M420.8 118.4h2.3M420.9 120.6h2.3M421 123.6h2.3M421.1 122.4h2.3M421.2 120.5h2.3M421.3 112h2.3M421.4 116.9h2.3M421.5 118.8h2.3M421.6 112.8h2.3M421.7 114.6h2.3M421.8 117.3h2.3M421.9 114.2h2.3M422 120.6h2.3M422.1 113.1h2.3M422.2 114h2.3M422.3 118.6h2.3M422.4 122.9h2.3M422.5 108.7h2.3M422.6 116.2h2.3M422.7 102.7h2.3M422.8 120.2h2.3M422.9 112.4h2.3M423.1 119.2h2.3M423.2 115.7h2.3M423.3 112.7h2.3M423.4 121.2h2.3M423.5 117.7h2.3M423.6 116.4h2.3M423.7 116.7h2.3M423.8 114.3h2.3M423.9 112.1h2.3M424 113.2h2.3M424.1 116.2h2.3M424.2 119.4h2.3M424.3 123.4h2.3M424.4 121.5h2.3M424.5 120.5h2.3M424.6 114.3h2.3M424.7 119.7h2.3M424.8 124.3h2.3M424.9 114.8h2.3M425 122.1h2.3M425.1 122h2.3M425.2 119.3h2.3M425.3 115.8h2.3M425.4 130.5h2.3M425.5 124h2.3M425.6 117.5h2.3M425.8 120.3h2.3M425.9 122.8h2.3M426 121.3h2.3M426.1 111.6h2.3M426.2 121.7h2.3M426.3 115.1h2.3M426.4 114.8h2.3M426.5 121h2.3M426.6 116.6h2.3M426.7 121.1h2.3M426.8 122h2.3M426.9 124.6h2.3M427 114.7h2.3M427.1 121.1h2.3M427.2 121.9h2.3M427.3 124.8h2.3M427.4 110.3h2.3M427.5 115.6h2.3M427.6 120h2.3M427.7 122.8h2.3M427.8 127h2.3M427.9 118.1h2.3M428 118.1h2.3M428.1 126.5h2.3M428.2 113.9h2.3M428.3 115.9h2.3M428.4 124.5h2.3M428.6 122.5h2.3M428.7 121.9h2.3M428.8 119.1h2.3M428.9 120.7h2.3M429 128h2.3M429.1 112.8h2.3M429.2 118.5h2.3M429.3 114h2.3M429.4 114.1h2.3M429.5 121.2h2.3M429.6 118.6h2.3M429.7 116.7h2.3M429.8 116.6h2.3M429.9 121.2h2.3M430 123.4h2.3M430.1 120.3h2.3M430.2 124.4h2.3M430.3 123.3h2.3M430.4 130.4h2.3M430.5 120.3h2.3M430.6 125.7h2.3M430.7 123.4h2.3M430.8 121.1h2.3M430.9 119.4h2.3M431 111.9h2.3M431.1 120h2.3M431.3 127.7h2.3M431.4 120.4h2.3M431.5 124.9h2.3M431.6 119.2h2.3M431.7 124.4h2.3M431.8 124.6h2.3M431.9 123.7h2.3M432 124.3h2.3M432.1 130h2.3M432.2 124.5h2.3M432.3 121.5h2.3M432.4 115.8h2.3M432.5 122.9h2.3M432.6 123.3h2.3M432.7 118.9h2.3M432.8 119.1h2.3M432.9 114.1h2.3M433 118.9h2.3M433.1 121.8h2.3M433.2 115.4h2.3M433.3 114.5h2.3M433.4 123.9h2.3M433.5 121h2.3M433.6 129.6h2.3M433.7 123.5h2.3M433.8 125.9h2.3M433.9 122.8h2.3M434.1 124.1h2.3M434.2 122.6h2.3M434.3 122.3h2.3M434.4 119.5h2.3M434.5 120.8h2.3M434.6 124.5h2.3M434.7 127.9h2.3M434.8 116.1h2.3M434.9 115.3h2.3M435 124.1h2.3M435.1 119.3h2.3M435.2 129.1h2.3M435.3 129.3h2.3M435.4 123.2h2.3M435.5 115.1h2.3M435.6 126.9h2.3M435.7 125.9h2.3M435.8 114.5h2.3M435.9 130.9h2.3M436 119h2.3M436.1 119.8h2.3M436.2 123h2.3M436.3 121.2h2.3M436.4 109.8h2.3M436.5 127.4h2.3M436.6 123.6h2.3M436.8 123.2h2.3M436.9 125.4h2.3M437 128.4h2.3M437.1 114.7h2.3M437.2 121.1h2.3M437.3 133.3h2.3M437.4 125.5h2.3M437.5 120.3h2.3M437.6 120.3h2.3M437.7 129h2.3M437.8 122.7h2.3M437.9 121h2.3M438 120.4h2.3M438.1 120.4h2.3M438.2 130.8h2.3M438.3 113.6h2.3M438.4 121h2.3M438.5 113.9h2.3M438.6 109.7h2.3M438.7 123.1h2.3M438.8 128.1h2.3M438.9 118.3h2.3M439 123.2h2.3M439.1 124.5h2.3M439.2 127.2h2.3M439.3 114.5h2.3M439.5 124.5h2.3M439.6 129h2.3M439.7 124.5h2.3M439.8 127.8h2.3M439.9 121.7h2.3M440 124.4h2.3M440.1 127.4h2.3M440.2 119.6h2.3M440.3 125.5h2.3M440.4 119.1h2.3M440.5 116.6h2.3M440.6 124.2h2.3M440.7 125.5h2.3M440.8 121.6h2.3M440.9 118.3h2.3M441 122.5h2.3M441.1 121.9h2.3M441.2 122.7h2.3M441.3 121.1h2.3M441.4 119.6h2.3M441.5 125.8h2.3M441.6 124.8h2.3M441.7 122.3h2.3M441.8 125.7h2.3M441.9 121.9h2.3M442 120.1h2.3M442.1 122.7h2.3M442.3 125.4h2.3M442.4 126.2h2.3M442.5 114.4h2.3M442.6 118.5h2.3M442.7 127.9h2.3M442.8 126.6h2.3M442.9 113.9h2.3M443 115.6h2.3M443.1 122h2.3M443.2 117.2h2.3M443.3 129.6h2.3M443.4 122.6h2.3M443.5 119.2h2.3M443.6 131.4h2.3M443.7 126.3h2.3M443.8 119h2.3M443.9 117.4h2.3M444 125.5h2.3M444.1 121.3h2.3M444.2 115.2h2.3M444.3 124.5h2.3M444.4 128.9h2.3M444.5 123h2.3M444.6 124.6h2.3M444.7 116.6h2.3M444.8 122h2.3M445 126.5h2.3M445.1 111.5h2.3M445.2 125.1h2.3M445.3 120.5h2.3M445.4 119.6h2.3M445.5 119.1h2.3M445.6 121.9h2.3M445.7 120h2.3M445.8 123.1h2.3M445.9 129.4h2.3M446 123.8h2.3M446.1 123.7h2.3M446.2 123.6h2.3M446.3 122.1h2.3M446.4 125.7h2.3M446.5 116.6h2.3M446.6 115.5h2.3M446.7 133.1h2.3M446.8 122.8h2.3M446.9 126.1h2.3M447 135h2.3M447.1 120.9h2.3M447.2 125.7h2.3M447.3 124.6h2.3M447.4 126.9h2.3M447.5 117.7h2.3M447.6 117h2.3M447.8 121.5h2.3M447.9 119.6h2.3M448 123.5h2.3M448.1 122.2h2.3M448.2 126.3h2.3M448.3 122.7h2.3M448.4 126.2h2.3M448.5 121.1h2.3M448.6 119h2.3M448.7 121.4h2.3M448.8 117.3h2.3M448.9 110.2h2.3M449 132.7h2.3M449.1 122.8h2.3M449.2 125.5h2.3M449.3 125h2.3M449.4 129.2h2.3M449.5 122.6h2.3M449.6 124.1h2.3M449.7 125.8h2.3M449.8 124h2.3M449.9 125.6h2.3M450 133.8h2.3M450.1 117.8h2.3M450.2 124.3h2.3M450.3 127.3h2.3M450.5 121.4h2.3M450.6 126h2.3M450.7 133h2.3M450.8 118.7h2.3M450.9 130.7h2.3M451 123.9h2.3M451.1 122.3h2.3M451.2 116.6h2.3M451.3 117.3h2.3M451.4 122.1h2.3M451.5 126.4h2.3M451.6 124.8h2.3M451.7 117.8h2.3M451.8 114.5h2.3M451.9 120.3h2.3M452 125.9h2.3M452.1 118.1h2.3M452.2 124.6h2.3M452.3 124.8h2.3M452.4 124.2h2.3M452.5 120.1h2.3M452.6 121.6h2.3M452.7 118.2h2.3M452.8 116.8h2.3M452.9 119.6h2.3M453 133.8h2.3M453.1 130.8h2.3M453.3 122.1h2.3M453.4 123.2h2.3M453.5 112.8h2.3M453.6 123h2.3M453.7 123.6h2.3M453.8 118.5h2.3M453.9 117.9h2.3M454 124h2.3M454.1 120.6h2.3M454.2 128.2h2.3M454.3 127.3h2.3M454.4 117.1h2.3M454.5 129.4h2.3M454.6 118.6h2.3M454.7 118.6h2.3M454.8 119.3h2.3M454.9 118.6h2.3M455 120.2h2.3M455.1 132.9h2.3M455.2 127.6h2.3M455.3 125.7h2.3M455.4 118.6h2.3M455.5 128.1h2.3M455.6 126.2h2.3M455.7 124.6h2.3M455.8 116.7h2.3M456 129.6h2.3M456.1 129.2h2.3M456.2 120h2.3M456.3 132.8h2.3M456.4 121.4h2.3M456.5 125.8h2.3M456.6 130.3h2.3M456.7 124.9h2.3M456.8 127.6h2.3M456.9 122.1h2.3M457 121.2h2.3M457.1 116h2.3M457.2 123h2.3M457.3 122.5h2.3M457.4 125.6h2.3M457.5 123.1h2.3M457.6 118h2.3M457.7 131.9h2.3M457.8 119.9h2.3M457.9 125.4h2.3M458 122.6h2.3M458.1 121.4h2.3M458.2 119h2.3M458.3 121.8h2.3M458.4 124.8h2.3M458.5 121.5h2.3M458.6 122.9h2.3M458.8 123.9h2.3M458.9 122h2.3M459 118.9h2.3M459.1 122.3h2.3M459.2 122.2h2.3M459.3 128.9h2.3M459.4 123.5h2.3M459.5 131.6h2.3M459.6 119.6h2.3M459.7 127.3h2.3M459.8 116.9h2.3M459.9 110.3h2.3M460 125.4h2.3M460.1 116.7h2.3M460.2 121h2.3M460.3 125.5h2.3M460.4 126.8h2.3M460.5 120.2h2.3M460.6 116.3h2.3M460.7 121.2h2.3M460.8 129.9h2.3M460.9 127.6h2.3M461 123.8h2.3M461.1 116.4h2.3M461.2 121.4h2.3M461.3 121.2h2.3M461.5 117h2.3M461.6 123.6h2.3M461.7 123.1h2.3M461.8 123.5h2.3M461.9 130.9h2.3M462 120.4h2.3M462.1 120.6h2.3M462.2 118h2.3M462.3 128.1h2.3M462.4 126.3h2.3M462.5 118.1h2.3M462.6 120.9h2.3M462.7 116h2.3M462.8 126.4h2.3M462.9 121.4h2.3M463 125.5h2.3M463.1 120.9h2.3M463.2 124.6h2.3M463.3 119.8h2.3M463.4 117.2h2.3M463.5 119.1h2.3M463.6 130.7h2.3M463.7 116.2h2.3M463.8 120.1h2.3M463.9 127h2.3M464 126.3h2.3M464.1 122h2.3M464.3 119.4h2.3M464.4 124.2h2.3M464.5 129.6h2.3M464.6 120.7h2.3M464.7 121.2h2.3M464.8 110.5h2.3M464.9 128h2.3M465 110.1h2.3M465.1 110.8h2.3M465.2 120.4h2.3M465.3 114h2.3M465.4 121.1h2.3M465.5 117.1h2.3M465.6 125.1h2.3M465.7 121.2h2.3M465.8 126.3h2.3M465.9 128.9h2.3M466 122.7h2.3M466.1 124.4h2.3M466.2 118.5h2.3M466.3 115.2h2.3M466.4 121.9h2.3M466.5 120.7h2.3M466.6 120h2.3M466.7 128.7h2.3M466.8 119.5h2.3M467 120.6h2.3M467.1 120.8h2.3M467.2 125.7h2.3M467.3 129.7h2.3M467.4 121.5h2.3M467.5 118.7h2.3M467.6 113.7h2.3M467.7 114.6h2.3M467.8 113h2.3M467.9 118.1h2.3M468 114.2h2.3M468.1 120.6h2.3M468.2 115.4h2.3M468.3 114.9h2.3M468.4 106.4h2.3M468.5 117.9h2.3M468.6 125h2.3M468.7 112.2h2.3M468.8 122.4h2.3M468.9 118.8h2.3M469 119.7h2.3M469.1 122.5h2.3M469.2 111.7h2.3M469.3 115h2.3M469.4 120.7h2.3M469.5 117.3h2.3M469.7 119.5h2.3M469.8 114.3h2.3M469.9 118.9h2.3M470 120.6h2.3M470.1 119.9h2.3M470.2 118.7h2.3M470.3 115h2.3M470.4 120.7h2.3M470.5 116.4h2.3M470.6 113.5h2.3M470.7 103.9h2.3M470.8 111h2.3M470.9 128.5h2.3M471 117.4h2.3M471.1 116.6h2.3M471.2 112.8h2.3M471.3 106.3h2.3M471.4 110.2h2.3M471.5 125.2h2.3M471.6 112h2.3M471.7 112.8h2.3M471.8 111.1h2.3M471.9 106.1h2.3M472 118.3h2.3M472.1 107h2.3M472.2 121.8h2.3M472.3 113.1h2.3M472.5 111.2h2.3M472.6 101.4h2.3M472.7 116.3h2.3M472.8 121.1h2.3M472.9 108.9h2.3M473 115.5h2.3M473.1 104h2.3M473.2 115.3h2.3M473.3 116h2.3M473.4 105.1h2.3M473.5 110.8h2.3M473.6 105.9h2.3M473.7 118.1h2.3M473.8 102.3h2.3M473.9 113.5h2.3M474 106.2h2.3M474.1 115.3h2.3M474.2 118h2.3M474.3 111.3h2.3M474.4 109h2.3M474.5 101.7h2.3M474.6 107.9h2.3M474.7 105.9h2.3M474.8 106.2h2.3M474.9 95.7h2.3M475 113.6h2.3M475.2 103h2.3M475.3 110.2h2.3M475.4 108.1h2.3M475.5 112.3h2.3M475.6 103.6h2.3M475.7 116h2.3M475.8 116.5h2.3M475.9 111h2.3M476 116h2.3M476.1 105.5h2.3M476.2 105.8h2.3M476.3 114.5h2.3M476.4 107h2.3M476.5 114.6h2.3M476.6 111.7h2.3M476.7 111.7h2.3M476.8 99.3h2.3M476.9 112.3h2.3M477 117.2h2.3M477.1 117.5h2.3M477.2 107.2h2.3M477.3 122h2.3M477.4 116.4h2.3M477.5 116.5h2.3M477.6 127.3h2.3M477.7 118h2.3M477.8 111.3h2.3M478 115.7h2.3M478.1 121.9h2.3M478.2 114.6h2.3M478.3 116h2.3M478.4 109.2h2.3M478.5 123.9h2.3M478.6 122.1h2.3M478.7 119.9h2.3M478.8 121.6h2.3M478.9 120.7h2.3M479 122.5h2.3M479.1 126.8h2.3M479.2 133.1h2.3M479.3 127h2.3M479.4 132.8h2.3M479.5 131.1h2.3M479.6 128.4h2.3M479.7 122.3h2.3M479.8 120.6h2.3M479.9 133h2.3M480 125.1h2.3M480.1 122.5h2.3M480.2 128.2h2.3M480.3 138.6h2.3M480.4 142.2h2.3M480.5 124.3h2.3M480.7 124h2.3M480.8 128.4h2.3M480.9 137.1h2.3M481 122.1h2.3M481.1 124.1h2.3M481.2 132.2h2.3M481.3 133.7h2.3M481.4 144.7h2.3M481.5 128.6h2.3M481.6 143.3h2.3M481.7 129.7h2.3M481.8 129.8h2.3M481.9 133.9h2.3M482 125.2h2.3M482.1 136.8h2.3M482.2 131.5h2.3M482.3 130.4h2.3M482.4 133.8h2.3M482.5 137.8h2.3M482.6 128h2.3M482.7 132.9h2.3M482.8 136.7h2.3M482.9 136.6h2.3M483 134.9h2.3M483.1 122.1h2.3M483.2 135.2h2.3M483.3 137.3h2.3M483.5 142.3h2.3M483.6 143.3h2.3M483.7 147.4h2.3M483.8 134.7h2.3M483.9 136h2.3M484 142.3h2.3M484.1 145.1h2.3M484.2 138.2h2.3M484.3 139.5h2.3M484.4 144.3h2.3M484.5 134.6h2.3M484.6 135.6h2.3M484.7 136.8h2.3M484.8 132h2.3M484.9 140.5h2.3M485 128.5h2.3M485.1 142.7h2.3M485.2 133.7h2.3M485.3 133h2.3M485.4 138.3h2.3M485.5 134.7h2.3M485.6 144.5h2.3M485.7 145.8h2.3M485.8 138.1h2.3M485.9 141.3h2.3M486 133.5h2.3M486.2 136.8h2.3M486.3 133.4h2.3M486.4 135.2h2.3M486.5 135.9h2.3M486.6 136.6h2.3M486.7 139.3h2.3M486.8 139.9h2.3M486.9 125.1h2.3M487 147.6h2.3M487.1 138.3h2.3M487.2 131.3h2.3M487.3 134.8h2.3M487.4 128.9h2.3M487.5 134h2.3M487.6 144.8h2.3M487.7 139.3h2.3M487.8 145.7h2.3M487.9 131.5h2.3M488 128.8h2.3M488.1 140h2.3M488.2 134.2h2.3M488.3 139.9h2.3M488.4 146h2.3M488.5 140.1h2.3M488.6 146.9h2.3M488.7 140.9h2.3M488.8 136.3h2.3M489 133.2h2.3M489.1 129.9h2.3M489.2 139.5h2.3M489.3 136.2h2.3M489.4 135.1h2.3M489.5 134.3h2.3M489.6 153.3h2.3M489.7 142.2h2.3M489.8 132.9h2.3M489.9 144.3h2.3M490 136.2h2.3M490.1 132.7h2.3M490.2 148.9h2.3M490.3 138.8h2.3M490.4 136.3h2.3M490.5 137.6h2.3M490.6 146.8h2.3M490.7 135.7h2.3M490.8 142.3h2.3M490.9 132.9h2.3M491 135.2h2.3M491.1 141h2.3M491.2 136.7h2.3M491.3 141.9h2.3M491.4 141.9h2.3M491.5 147.2h2.3M491.7 139.2h2.3M491.8 133.1h2.3M491.9 137.2h2.3M492 138h2.3M492.1 141.6h2.3M492.2 141h2.3M492.3 133.6h2.3M492.4 146.8h2.3M492.5 125.8h2.3M492.6 138.4h2.3M492.7 125.2h2.3M492.8 128.8h2.3M492.9 140.5h2.3M493 133.7h2.3M493.1 136.6h2.3M493.2 135.4h2.3M493.3 133.4h2.3M493.4 141.4h2.3M493.5 141.8h2.3M493.6 140.7h2.3M493.7 146.3h2.3M493.8 139.8h2.3M493.9 136.9h2.3M494 136.8h2.3M494.1 137.1h2.3M494.2 140.6h2.3M494.3 133.6h2.3M494.5 150.5h2.3M494.6 140.7h2.3M494.7 140.3h2.3M494.8 133.1h2.3M494.9 134.5h2.3M495 133.7h2.3M495.1 138.4h2.3M495.2 132.8h2.3M495.3 144.4h2.3M495.4 138.1h2.3M495.5 151h2.3M495.6 128.4h2.3M495.7 129.2h2.3M495.8 142.1h2.3M495.9 143.6h2.3M496 151h2.3M496.1 147.7h2.3M496.2 137.9h2.3M496.3 139.6h2.3M496.4 147.4h2.3M496.5 141.6h2.3M496.6 142.6h2.3M496.7 135.9h2.3M496.8 134.5h2.3M496.9 140h2.3M497 138h2.3M497.2 138.7h2.3M497.3 151.1h2.3M497.4 137.7h2.3M497.5 139.1h2.3M497.6 134.3h2.3M497.7 149.6h2.3M497.8 134.2h2.3M497.9 142.5h2.3M498 137.2h2.3M498.1 131.6h2.3M498.2 147.5h2.3M498.3 146.5h2.3M498.4 132.9h2.3M498.5 145.5h2.3M498.6 144.5h2.3M498.7 135.3h2.3M498.8 140h2.3M498.9 134.2h2.3M499 136.7h2.3M499.1 139h2.3M499.2 133h2.3M499.3 126h2.3M499.4 139.5h2.3M499.5 130.2h2.3M499.6 132.2h2.3M499.7 138.3h2.3M499.9 136.2h2.3M500 144.5h2.3M500.1 142.6h2.3M500.2 137.3h2.3M500.3 139.2h2.3M500.4 131.3h2.3M500.5 146.6h2.3M500.6 140.7h2.3M500.7 142.7h2.3M500.8 139.9h2.3M500.9 132.1h2.3M501 146.1h2.3M501.1 134h2.3M501.2 142.5h2.3M501.3 141h2.3M501.4 133.2h2.3M501.5 140.7h2.3M501.6 135.1h2.3M501.7 138.4h2.3M501.8 140.1h2.3M501.9 141.2h2.3M502 149.3h2.3M502.1 143.5h2.3M502.2 138.1h2.3M502.3 137.9h2.3M502.4 147.9h2.3M502.5 133.2h2.3M502.7 135.8h2.3M502.8 146.8h2.3M502.9 145.3h2.3M503 136.2h2.3M503.1 149.5h2.3M503.2 143.5h2.3M503.3 139.5h2.3M503.4 139.9h2.3M503.5 139.5h2.3M503.6 136.9h2.3M503.7 143.9h2.3M503.8 142.1h2.3M503.9 127.1h2.3M504 147.5h2.3M504.1 141.9h2.3M504.2 138.6h2.3M504.3 143.1h2.3M504.4 132.1h2.3M504.5 138.8h2.3M504.6 134.8h2.3M504.7 154.5h2.3M504.8 132.3h2.3M504.9 132.5h2.3M505 143.7h2.3M505.1 131.6h2.3M505.2 137.7h2.3M505.4 133.9h2.3M505.5 128.7h2.3M505.6 138.7h2.3M505.7 145.3h2.3M505.8 139.4h2.3M505.9 149.7h2.3M506 144.1h2.3M506.1 143.9h2.3M506.2 143.5h2.3M506.3 132.5h2.3M506.4 134.5h2.3M506.5 144.7h2.3M506.6 132.7h2.3M506.7 149.3h2.3M506.8 143.3h2.3M506.9 140.2h2.3M507 132.4h2.3M507.1 135.1h2.3M507.2 136.7h2.3M507.3 131.8h2.3M507.4 135.2h2.3M507.5 131.4h2.3M507.6 144h2.3M507.7 149.4h2.3M507.8 141.9h2.3M507.9 134.6h2.3M508 137.9h2.3M508.2 134.2h2.3M508.3 135.3h2.3M508.4 136.4h2.3M508.5 134.7h2.3M508.6 143.7h2.3M508.7 133.1h2.3M508.8 145.4h2.3M508.9 140.2h2.3M509 147.8h2.3M509.1 136.6h2.3M509.2 148.7h2.3M509.3 131.3h2.3M509.4 147.5h2.3M509.5 138.1h2.3M509.6 140.4h2.3M509.7 144.8h2.3M509.8 132.3h2.3M509.9 142.2h2.3M510 131.1h2.3M510.1 145.7h2.3M510.2 144.4h2.3M510.3 151.4h2.3M510.4 136.5h2.3M510.5 134.4h2.3M510.6 138.4h2.3M510.7 140.7h2.3M510.9 145.2h2.3M511 126h2.3M511.1 135.4h2.3M511.2 150.6h2.3M511.3 141.6h2.3M511.4 155.1h2.3M511.5 130.6h2.3M511.6 128.3h2.3M511.7 131.3h2.3M511.8 140.2h2.3M511.9 143.4h2.3M512 148.1h2.3M512.1 136.8h2.3M512.2 144.3h2.3M512.3 142.1h2.3M512.4 143.7h2.3M512.5 141.8h2.3M512.6 134.7h2.3M512.7 130.1h2.3M512.8 139.1h2.3M512.9 139.9h2.3M513 146.5h2.3M513.1 147.2h2.3M513.2 146.3h2.3M513.3 134.9h2.3M513.4 138.6h2.3M513.5 134.4h2.3M513.7 137.6h2.3M513.8 142.4h2.3M513.9 147.4h2.3M514 142.3h2.3M514.1 148.5h2.3M514.2 128.4h2.3M514.3 138.6h2.3M514.4 142.3h2.3M514.5 124.5h2.3M514.6 142.4h2.3M514.7 136.9h2.3M514.8 141.2h2.3M514.9 138.1h2.3M515 142.4h2.3M515.1 137.3h2.3M515.2 131.9h2.3M515.3 147.7h2.3M515.4 153.3h2.3M515.5 132.4h2.3M515.6 139.3h2.3M515.7 135.2h2.3M515.8 142h2.3M515.9 131.3h2.3M516 129.6h2.3M516.1 147.2h2.3M516.2 136.4h2.3M516.4 144h2.3M516.5 149.9h2.3M516.6 142.2h2.3M516.7 137.1h2.3M516.8 148.5h2.3M516.9 148.1h2.3M517 133.3h2.3M517.1 140.4h2.3M517.2 138.2h2.3M517.3 147.3h2.3M517.4 144.5h2.3M517.5 140h2.3M517.6 139.6h2.3M517.7 139.9h2.3M517.8 131.4h2.3M517.9 139.8h2.3M518 149.8h2.3M518.1 146h2.3M518.2 141.2h2.3M518.3 133.4h2.3M518.4 145h2.3M518.5 143.3h2.3M518.6 141.2h2.3M518.7 146.9h2.3M518.8 145.9h2.3M518.9 142.5h2.3M519 135.3h2.3M519.2 138.3h2.3M519.3 142.9h2.3M519.4 138.9h2.3M519.5 148.8h2.3M519.6 135.4h2.3M519.7 135.7h2.3M519.8 139.5h2.3M519.9 150.9h2.3M520 129.4h2.3M520.1 156.3h2.3M520.2 147.2h2.3M520.3 146.8h2.3M520.4 137.3h2.3M520.5 150.2h2.3M520.6 140h2.3M520.7 142.3h2.3M520.8 143.2h2.3M520.9 136.4h2.3M521 133.1h2.3M521.1 139.2h2.3M521.2 143.1h2.3M521.3 154.9h2.3M521.4 132.9h2.3M521.5 143.3h2.3M521.6 152.4h2.3M521.7 140.6h2.3M521.9 133.1h2.3M522 142.4h2.3M522.1 148.4h2.3M522.2 128.3h2.3M522.3 138h2.3M522.4 139.1h2.3M522.5 135.6h2.3M522.6 154.3h2.3M522.7 142h2.3M522.8 142.6h2.3M522.9 128.3h2.3M523 144.9h2.3M523.1 144.9h2.3M523.2 149.8h2.3M523.3 146.5h2.3M523.4 142.9h2.3M523.5 140.1h2.3M523.6 142.8h2.3M523.7 129.9h2.3M523.8 138.8h2.3M523.9 137.9h2.3M524 133.7h2.3M524.1 138h2.3M524.2 144.8h2.3M524.3 150.8h2.3M524.4 139.6h2.3M524.5 146.6h2.3M524.7 134h2.3M524.8 146.3h2.3M524.9 154.9h2.3M525 141.6h2.3M525.1 135.5h2.3M525.2 143h2.3M525.3 140.8h2.3M525.4 140.9h2.3M525.5 131.7h2.3M525.6 140.1h2.3M525.7 142.1h2.3M525.8 145.5h2.3M525.9 151.6h2.3M526 133.7h2.3M526.1 135.2h2.3M526.2 147.6h2.3M526.3 138.4h2.3M526.4 140.1h2.3M526.5 144.2h2.3M526.6 143.9h2.3M526.7 137.6h2.3M526.8 149.1h2.3M526.9 145.1h2.3M527 142.5h2.3M527.1 142.1h2.3M527.2 143.3h2.3M527.4 140.8h2.3M527.5 139h2.3M527.6 147.4h2.3M527.7 141.6h2.3M527.8 145.2h2.3M527.9 133.3h2.3M528 150.4h2.3M528.1 143.6h2.3M528.2 138.1h2.3M528.3 143.9h2.3M528.4 144.2h2.3M528.5 145.4h2.3M528.6 140.4h2.3M528.7 149.1h2.3M528.8 142.7h2.3M528.9 142.8h2.3M529 150.8h2.3M529.1 140.6h2.3M529.2 145h2.3M529.3 140.4h2.3M529.4 137.2h2.3M529.5 140.2h2.3M529.6 149.2h2.3M529.7 140.4h2.3M529.8 151.6h2.3M529.9 146.7h2.3M530 132.5h2.3M530.2 142.2h2.3M530.3 133.2h2.3M530.4 143.3h2.3M530.5 142.2h2.3M530.6 148.8h2.3M530.7 136.8h2.3M530.8 143.4h2.3M530.9 138.6h2.3M531 139.7h2.3M531.1 139.2h2.3M531.2 140.4h2.3M531.3 142.7h2.3M531.4 142.3h2.3M531.5 146.3h2.3M531.6 154.7h2.3M531.7 139.4h2.3M531.8 130.1h2.3M531.9 135.9h2.3M532 128.6h2.3M532.1 139.4h2.3M532.2 147.8h2.3M532.3 148h2.3M532.4 137.9h2.3M532.5 140.2h2.3M532.6 143.2h2.3M532.7 137.9h2.3M532.9 149.1h2.3M533 139.2h2.3M533.1 143.8h2.3M533.2 141.3h2.3M533.3 135.3h2.3M533.4 143h2.3M533.5 134.2h2.3M533.6 134.5h2.3M533.7 146.6h2.3M533.8 128.7h2.3M533.9 149.4h2.3M534 142.8h2.3M534.1 137.9h2.3M534.2 155.5h2.3M534.3 136.2h2.3M534.4 135.6h2.3M534.5 142.9h2.3M534.6 140.7h2.3M534.7 141h2.3M534.8 143.5h2.3M534.9 136h2.3M535 144.5h2.3M535.1 142.6h2.3M535.2 140.2h2.3M535.3 137.4h2.3M535.4 135.9h2.3M535.6 151h2.3M535.7 154.2h2.3M535.8 143.2h2.3M535.9 142.7h2.3M536 148.7h2.3M536.1 140.6h2.3M536.2 138.7h2.3M536.3 140.2h2.3M536.4 132.8h2.3M536.5 148.5h2.3M536.6 142.3h2.3M536.7 131.2h2.3M536.8 138.5h2.3M536.9 149h2.3M537 141.3h2.3M537.1 135.7h2.3M537.2 130.4h2.3M537.3 138.7h2.3M537.4 135.8h2.3M537.5 149h2.3M537.6 144h2.3M537.7 135.6h2.3M537.8 148.2h2.3M537.9 143h2.3M538 153.5h2.3M538.1 134h2.3M538.2 143.4h2.3M538.4 139.4h2.3M538.5 151.5h2.3M538.6 150.4h2.3M538.7 132.2h2.3M538.8 144.7h2.3M538.9 145.9h2.3M539 139.8h2.3M539.1 139.5h2.3M539.2 154.2h2.3M539.3 148.5h2.3M539.4 142.5h2.3M539.5 142.8h2.3M539.6 140.8h2.3M539.7 145.3h2.3M539.8 145h2.3M539.9 141.6h2.3M540 146.9h2.3M540.1 147.7h2.3M540.2 146.1h2.3M540.3 142.9h2.3M540.4 143.8h2.3M540.5 145.7h2.3M540.6 144.4h2.3M540.7 143.2h2.3M540.8 141.1h2.3M540.9 140.9h2.3M541.1 150.5h2.3M541.2 137.4h2.3M541.3 152.3h2.3M541.4 139.9h2.3M541.5 147.2h2.3M541.6 139.7h2.3M541.7 136.9h2.3M541.8 154h2.3M541.9 139.6h2.3M542 141.5h2.3M542.1 145.8h2.3M542.2 140.9h2.3M542.3 146h2.3M542.4 142.5h2.3M542.5 149.3h2.3M542.6 138.7h2.3M542.7 139.8h2.3M542.8 138.9h2.3M542.9 147h2.3M543 132.6h2.3M543.1 131.9h2.3M543.2 143.8h2.3M543.3 145.7h2.3M543.4 145.7h2.3M543.5 139.3h2.3M543.6 137.4h2.3M543.7 147.6h2.3M543.9 155h2.3M544 140.7h2.3M544.1 143.6h2.3M544.2 142.4h2.3M544.3 140.4h2.3M544.4 149.8h2.3M544.5 143.1h2.3M544.6 145.2h2.3M544.7 141.3h2.3M544.8 136.4h2.3M544.9 143.5h2.3M545 148.4h2.3M545.1 136.3h2.3M545.2 139.5h2.3M545.3 144.7h2.3M545.4 154h2.3M545.5 148.6h2.3M545.6 142.8h2.3M545.7 140.5h2.3M545.8 146.7h2.3M545.9 141.2h2.3M546 147.4h2.3M546.1 146.2h2.3M546.2 140.7h2.3M546.3 145.3h2.3M546.4 143h2.3M546.6 138.7h2.3M546.7 137.3h2.3M546.8 147.2h2.3M546.9 145.3h2.3M547 151.5h2.3M547.1 151.4h2.3M547.2 142.2h2.3M547.3 146.9h2.3M547.4 154.6h2.3M547.5 140.9h2.3M547.6 148.8h2.3M547.7 145.7h2.3M547.8 141.6h2.3M547.9 141.7h2.3M548 144.3h2.3M548.1 155.4h2.3M548.2 140.8h2.3M548.3 147.4h2.3M548.4 152.2h2.3M548.5 156.7h2.3M548.6 136.5h2.3M548.7 143.3h2.3M548.8 143.4h2.3M548.9 140.6h2.3M549 144.8h2.3M549.1 152.6h2.3M549.2 140.2h2.3M549.4 138.4h2.3M549.5 141.2h2.3M549.6 135.3h2.3M549.7 133.2h2.3M549.8 148.7h2.3M549.9 146.7h2.3M550 139.1h2.3M550.1 143.2h2.3M550.2 143h2.3M550.3 138.9h2.3M550.4 140h2.3M550.5 146.7h2.3M550.6 143.5h2.3M550.7 148.3h2.3M550.8 145.3h2.3M550.9 150.6h2.3M551 155.5h2.3M551.1 147.1h2.3M551.2 147.6h2.3M551.3 139.2h2.3M551.4 135.3h2.3M551.5 144.1h2.3M551.6 141.6h2.3M551.7 147.9h2.3M551.8 149.6h2.3M551.9 145.9h2.3M552.1 145.9h2.3M552.2 142.6h2.3M552.3 143.7h2.3M552.4 134.9h2.3M552.5 145.6h2.3M552.6 153.7h2.3M552.7 143.7h2.3M552.8 148.1h2.3M552.9 143.2h2.3M553 138h2.3M553.1 148h2.3M553.2 144.8h2.3M553.3 141.5h2.3M553.4 149.8h2.3M553.5 143.2h2.3M553.6 141.3h2.3M553.7 139.8h2.3M553.8 138.2h2.3M553.9 141.3h2.3M554 142.2h2.3M554.1 152.4h2.3M554.2 159.7h2.3M554.3 149.9h2.3M554.4 136.4h2.3M554.5 143.8h2.3M554.6 157.3h2.3M554.7 146.9h2.3M554.9 142.4h2.3M555 155h2.3M555.1 141.3h2.3M555.2 151h2.3M555.3 138.6h2.3M555.4 144.4h2.3M555.5 129.1h2.3M555.6 152.1h2.3M555.7 142.9h2.3M555.8 152.9h2.3M555.9 138h2.3M556 143.9h2.3M556.1 139.3h2.3M556.2 144h2.3M556.3 151.2h2.3M556.4 148.3h2.3M556.5 151.6h2.3M556.6 150.5h2.3M556.7 143.8h2.3M556.8 138.6h2.3M556.9 139.8h2.3M557 141.7h2.3M557.1 147.9h2.3M557.2 141.8h2.3M557.3 149.5h2.3M557.4 143.5h2.3M557.6 140h2.3M557.7 145.8h2.3M557.8 147.4h2.3M557.9 147.2h2.3M558 141.3h2.3M558.1 146.5h2.3M558.2 152.8h2.3M558.3 147.1h2.3M558.4 150.8h2.3M558.5 136.3h2.3M558.6 144.7h2.3M558.7 153.1h2.3M558.8 143.3h2.3M558.9 140.8h2.3M559 142.7h2.3M559.1 146.9h2.3M559.2 144h2.3M559.3 143.3h2.3M559.4 139.2h2.3M559.5 142.8h2.3M559.6 132.1h2.3M559.7 146.1h2.3M559.8 136.3h2.3M559.9 144.8h2.3M560 154.6h2.3M560.1 151.6h2.3M560.2 155.2h2.3M560.4 154.7h2.3M560.5 138.2h2.3M560.6 148.7h2.3M560.7 141.6h2.3M560.8 150.1h2.3M560.9 145.1h2.3M561 151h2.3M561.1 140.2h2.3M561.2 146.5h2.3M561.3 147.6h2.3M561.4 146h2.3M561.5 132.9h2.3M561.6 142.6h2.3M561.7 140.4h2.3M561.8 152.1h2.3M561.9 148.8h2.3M562 143.5h2.3M562.1 155.6h2.3M562.2 137.7h2.3M562.3 143.7h2.3M562.4 145.3h2.3M562.5 146.3h2.3M562.6 146.6h2.3M562.7 148.1h2.3M562.8 137.4h2.3M562.9 141.4h2.3M563.1 138.3h2.3M563.2 147h2.3M563.3 150.3h2.3M563.4 135h2.3M563.5 152.2h2.3M563.6 148.8h2.3M563.7 141.4h2.3M563.8 139.3h2.3M563.9 152.8h2.3M564 146.9h2.3M564.1 145.3h2.3M564.2 146.2h2.3M564.3 150.3h2.3M564.4 141.7h2.3M564.5 148.4h2.3M564.6 146.8h2.3M564.7 158.1h2.3M564.8 146.1h2.3M564.9 156.4h2.3M565 141.6h2.3M565.1 142.8h2.3M565.2 148.4h2.3M565.3 144.7h2.3M565.4 145h2.3M565.5 146.4h2.3M565.6 143.6h2.3M565.8 146.3h2.3M565.9 148.3h2.3M566 150.1h2.3M566.1 136.3h2.3M566.2 144.6h2.3M566.3 145.8h2.3M566.4 141.6h2.3M566.5 147.9h2.3M566.6 147.9h2.3M566.7 142h2.3M566.8 140h2.3M566.9 142h2.3M567 154.1h2.3M567.1 145.5h2.3M567.2 145.9h2.3M567.3 143.3h2.3M567.4 150.8h2.3M567.5 151.7h2.3M567.6 146.5h2.3M567.7 150.8h2.3M567.8 151.8h2.3M567.9 146.3h2.3M568 138.9h2.3M568.1 145.2h2.3M568.2 139.7h2.3M568.3 151.5h2.3M568.4 142h2.3M568.6 146h2.3M568.7 152.6h2.3M568.8 148.3h2.3M568.9 150.8h2.3M569 147.2h2.3M569.1 150.2h2.3M569.2 139h2.3M569.3 148.1h2.3M569.4 156.8h2.3M569.5 147.2h2.3M569.6 144h2.3M569.7 147.9h2.3M569.8 141.4h2.3M569.9 151.2h2.3M570 152.6h2.3M570.1 137.2h2.3M570.2 146.2h2.3M570.3 143.2h2.3M570.4 143.5h2.3M570.5 143h2.3M570.6 146h2.3M570.7 147.3h2.3M570.8 140.3h2.3M570.9 149h2.3M571 145.6h2.3M571.1 142.5h2.3M571.3 148.5h2.3M571.4 154.8h2.3M571.5 143.8h2.3M571.6 140.4h2.3M571.7 145h2.3M571.8 155.6h2.3M571.9 142.8h2.3M572 135.5h2.3M572.1 154.9h2.3M572.2 161.4h2.3M572.3 147.8h2.3M572.4 146h2.3M572.5 142.1h2.3M572.6 141.9h2.3M572.7 146h2.3M572.8 143.5h2.3M572.9 144.6h2.3M573 145.8h2.3M573.1 146.8h2.3M573.2 147.4h2.3M573.3 142.7h2.3M573.4 144.3h2.3M573.5 148.9h2.3M573.6 140.6h2.3M573.7 150.6h2.3M573.8 147.9h2.3M573.9 145.9h2.3M574.1 157h2.3M574.2 148.7h2.3M574.3 142h2.3M574.4 142.2h2.3M574.5 153.2h2.3M574.6 151.2h2.3M574.7 152.6h2.3M574.8 148h2.3M574.9 147.1h2.3M575 155.5h2.3M575.1 145h2.3M575.2 146.4h2.3M575.3 147.2h2.3M575.4 150.5h2.3M575.5 147.8h2.3M575.6 156.5h2.3M575.7 145.6h2.3M575.8 145.7h2.3M575.9 147.4h2.3M576 153.3h2.3M576.1 139.9h2.3M576.2 140.7h2.3M576.3 157.1h2.3M576.4 144.7h2.3M576.5 146.1h2.3M576.6 160.9h2.3M576.8 144.1h2.3M576.9 142.2h2.3M577 143h2.3M577.1 146.1h2.3M577.2 150.6h2.3M577.3 149.8h2.3M577.4 144.2h2.3M577.5 140.7h2.3M577.6 149.7h2.3M577.7 148.6h2.3M577.8 143.3h2.3M577.9 158.8h2.3M578 144.7h2.3M578.1 148.4h2.3M578.2 159h2.3M578.3 142.9h2.3M578.4 152.1h2.3M578.5 142.8h2.3M578.6 139.7h2.3M578.7 153.9h2.3M578.8 153.7h2.3M578.9 147.3h2.3M579 156.7h2.3M579.1 143.3h2.3M579.2 146.2h2.3M579.3 141.9h2.3M579.4 157.2h2.3M579.6 146.2h2.3M579.7 144.7h2.3M579.8 157h2.3M579.9 142.4h2.3M580 157.4h2.3M580.1 146.3h2.3M580.2 154.4h2.3M580.3 143h2.3M580.4 138.1h2.3M580.5 146.8h2.3M580.6 147.1h2.3M580.7 140.3h2.3M580.8 149.7h2.3M580.9 147h2.3M581 142.9h2.3M581.1 145h2.3M581.2 138.8h2.3M581.3 140.8h2.3M581.4 136.8h2.3M581.5 147.4h2.3M581.6 141.2h2.3M581.7 151.7h2.3M581.8 142.3h2.3M581.9 137.7h2.3M582 134.4h2.3M582.1 154h2.3M582.3 148.1h2.3M582.4 143.3h2.3M582.5 151.9h2.3M582.6 144.2h2.3M582.7 144.2h2.3M582.8 149.8h2.3M582.9 150.1h2.3M583 152.2h2.3M583.1 145.5h2.3M583.2 140.3h2.3M583.3 145.6h2.3M583.4 132.7h2.3M583.5 155.3h2.3M583.6 150.4h2.3M583.7 143.6h2.3M583.8 155.5h2.3M583.9 145.4h2.3M584 142.9h2.3M584.1 146.3h2.3M584.2 148.5h2.3M584.3 142.2h2.3M584.4 145.1h2.3M584.5 143.4h2.3M584.6 144.4h2.3M584.7 152.1h2.3M584.8 153.4h2.3M584.9 149.5h2.3M585.1 146.4h2.3M585.2 148.5h2.3M585.3 142.3h2.3M585.4 146.1h2.3M585.5 142.2h2.3M585.6 146.9h2.3M585.7 151.4h2.3M585.8 142.9h2.3M585.9 144.8h2.3M586 152.1h2.3M586.1 149.8h2.3M586.2 133.1h2.3M586.3 163.1h2.3M586.4 141.5h2.3M586.5 147.3h2.3M586.6 148.1h2.3M586.7 149.3h2.3M586.8 150.5h2.3M586.9 134.9h2.3M587 150.2h2.3M587.1 149.5h2.3M587.2 143.5h2.3M587.3 145.8h2.3M587.4 148.9h2.3M587.5 149.5h2.3M587.6 155.2h2.3M587.8 142h2.3M587.9 153.7h2.3M588 161.2h2.3M588.1 142.3h2.3M588.2 143.9h2.3M588.3 146.2h2.3M588.4 150.9h2.3M588.5 141.6h2.3M588.6 154h2.3M588.7 160.1h2.3M588.8 147.3h2.3M588.9 143.7h2.3M589 144.8h2.3M589.1 136.8h2.3M589.2 143.6h2.3M589.3 149.5h2.3M589.4 149.3h2.3M589.5 143.4h2.3M589.6 148.6h2.3M589.7 149h2.3M589.8 158h2.3M589.9 150h2.3M590 155.4h2.3M590.1 147h2.3M590.2 147.6h2.3M590.3 144.4h2.3M590.4 138.5h2.3M590.6 149.4h2.3M590.7 140.4h2.3M590.8 154.6h2.3M590.9 147.5h2.3M591 143.2h2.3M591.1 137.7h2.3M591.2 154.5h2.3M591.3 149.9h2.3M591.4 147.7h2.3M591.5 149h2.3M591.6 153.7h2.3M591.7 157.5h2.3M591.8 155.2h2.3M591.9 149h2.3M592 155.9h2.3M592.1 138.7h2.3M592.2 141.8h2.3M592.3 159h2.3M592.4 151.3h2.3M592.5 141.3h2.3M592.6 140.6h2.3M592.7 142.4h2.3M592.8 156.5h2.3M592.9 150.6h2.3M593 141.6h2.3M593.1 148.1h2.3M593.3 151.1h2.3M593.4 145.9h2.3M593.5 143.2h2.3M593.6 147.9h2.3M593.7 147.3h2.3M593.8 142.8h2.3M593.9 151.8h2.3M594 153.7h2.3M594.1 144.5h2.3M594.2 155.3h2.3M594.3 146h2.3M594.4 152.8h2.3M594.5 144.1h2.3M594.6 155.3h2.3M594.7 142.5h2.3M594.8 147.2h2.3M594.9 150.5h2.3M595 153.5h2.3M595.1 149.7h2.3M595.2 153.9h2.3M595.3 155.4h2.3M595.4 142.9h2.3M595.5 145.6h2.3M595.6 142.1h2.3M595.7 156.3h2.3M595.8 159.6h2.3M596 157.6h2.3M596.1 145.3h2.3M596.2 144.5h2.3M596.3 159.1h2.3M596.4 143.3h2.3M596.5 151.3h2.3M596.6 155.5h2.3M596.7 149.4h2.3M596.8 145.8h2.3M596.9 150.2h2.3M597 150h2.3M597.1 153.6h2.3M597.2 156.8h2.3M597.3 151.1h2.3M597.4 158h2.3M597.5 145.7h2.3M597.6 153.8h2.3M597.7 141.8h2.3M597.8 157.8h2.3M597.9 141.3h2.3M598 154h2.3M598.1 154h2.3M598.2 147.5h2.3M598.3 144.1h2.3M598.4 149.3h2.3M598.5 151.1h2.3M598.6 138.1h2.3M598.8 146.3h2.3M598.9 155.8h2.3M599 150.6h2.3M599.1 139.8h2.3M599.2 147.3h2.3M599.3 144.6h2.3M599.4 137.9h2.3M599.5 152.4h2.3M599.6 147.1h2.3M599.7 152.9h2.3M599.8 149.2h2.3M599.9 146.2h2.3M600 156.5h2.3M600.1 148.4h2.3M600.2 148.4h2.3M600.3 143.4h2.3M600.4 152.5h2.3M600.5 156.2h2.3M600.6 147h2.3M600.7 155.4h2.3M600.8 148.2h2.3M600.9 146.1h2.3M601 154.1h2.3M601.1 149.9h2.3M601.2 155h2.3M601.3 164.1h2.3M601.5 157.3h2.3M601.6 160.8h2.3M601.7 149.2h2.3M601.8 155.2h2.3M601.9 150.1h2.3M602 149.6h2.3M602.1 141.4h2.3M602.2 151.2h2.3M602.3 151.5h2.3M602.4 146.5h2.3M602.5 140.4h2.3M602.6 149.8h2.3M602.7 147.4h2.3M602.8 150.4h2.3M602.9 153.2h2.3M603 157.9h2.3M603.1 150h2.3M603.2 150.8h2.3M603.3 150.7h2.3M603.4 138.4h2.3M603.5 151.2h2.3M603.6 147.5h2.3M603.7 151.3h2.3M603.8 142.8h2.3M603.9 151h2.3M604 139.1h2.3M604.1 150.8h2.3M604.3 145.1h2.3M604.4 143.7h2.3M604.5 150.7h2.3M604.6 144.7h2.3M604.7 149h2.3M604.8 153.6h2.3M604.9 153.1h2.3M605 147.6h2.3M605.1 139.6h2.3M605.2 152.1h2.3M605.3 146.4h2.3M605.4 153.9h2.3M605.5 148h2.3M605.6 156.6h2.3M605.7 153.8h2.3M605.8 149.5h2.3M605.9 153.6h2.3M606 151h2.3M606.1 144h2.3M606.2 150.2h2.3M606.3 153.5h2.3M606.4 156.4h2.3M606.5 152.6h2.3M606.6 143.4h2.3M606.7 150.2h2.3M606.8 150.6h2.3M607 145.9h2.3M607.1 145.4h2.3M607.2 144.9h2.3M607.3 152.4h2.3M607.4 155.6h2.3M607.5 159.8h2.3M607.6 154.5h2.3M607.7 152.2h2.3M607.8 146.2h2.3M607.9 148.5h2.3M608 153.5h2.3M608.1 145.6h2.3M608.2 157.4h2.3M608.3 156.3h2.3M608.4 157.1h2.3M608.5 156.7h2.3M608.6 152.2h2.3M608.7 155.5h2.3M608.8 155.2h2.3M608.9 143.8h2.3M609 159.2h2.3M609.1 157h2.3M609.2 152.8h2.3M609.3 149.2h2.3M609.4 149.2h2.3M609.5 153.4h2.3M609.6 154.1h2.3M609.8 153.8h2.3M609.9 148.5h2.3M610 157.7h2.3M610.1 167.4h2.3M610.2 152.2h2.3M610.3 159.7h2.3M610.4 154h2.3M610.5 146.6h2.3M610.6 153.8h2.3M610.7 144.9h2.3M610.8 166.5h2.3M610.9 154.2h2.3M611 153.9h2.3M611.1 152h2.3M611.2 160.7h2.3M611.3 156.5h2.3M611.4 157.2h2.3M611.5 157.9h2.3M611.6 166h2.3M611.7 168.4h2.3M611.8 157.5h2.3M611.9 159.3h2.3M612 161.7h2.3M612.1 159.9h2.3M612.2 159.5h2.3M612.3 172.3h2.3M612.5 164.9h2.3M612.6 163.1h2.3M612.7 166.5h2.3M612.8 169.7h2.3M612.9 170.2h2.3M613 180.9h2.3M613.1 177.5h2.3M613.2 171.7h2.3M613.3 170.6h2.3M613.4 175.9h2.3M613.5 180.7h2.3M613.6 180.1h2.3M613.7 176.7h2.3M613.8 170h2.3M613.9 178.7h2.3M614 184.9h2.3M614.1 181.1h2.3M614.2 182.1h2.3M614.3 176h2.3M614.4 184.1h2.3M614.5 187.3h2.3M614.6 188.7h2.3M614.7 194h2.3M614.8 194.3h2.3M614.9 193.1h2.3M615 195.3h2.3M615.1 192.7h2.3M615.3 194h2.3M615.4 192.1h2.3M615.5 191.2h2.3M615.6 196.8h2.3M615.7 198.9h2.3M615.8 205.1h2.3M615.9 198.9h2.3M616 199h2.3M616.1 204.3h2.3M616.2 204.1h2.3M616.3 206h2.3M616.4 201.9h2.3M616.5 204.2h2.3M616.6 203.5h2.3M616.7 210.8h2.3M616.8 201.6h2.3M616.9 211.3h2.3M617 212.2h2.3M617.1 209.8h2.3M617.2 212.1h2.3M617.3 207h2.3M617.4 212.6h2.3M617.5 215.9h2.3M617.6 212.7h2.3M617.7 212.4h2.3M617.8 216.7h2.3M618 216.1h2.3M618.1 216h2.3M618.2 215.8h2.3M618.3 212.2h2.3M618.4 213.2h2.3M618.5 213.6h2.3M618.6 213.3h2.3M618.7 215.7h2.3M618.8 214.1h2.3M618.9 215.9h2.3M619 217.3h2.3M619.1 212.7h2.3M619.2 219.2h2.3M619.3 215.9h2.3M619.4 217h2.3M619.5 219.1h2.3M619.6 216.7h2.3M619.7 215.9h2.3M619.8 215.1h2.3M619.9 217.6h2.3M620 214.6h2.3M620.1 215.5h2.3M620.2 214.5h2.3M620.3 219.7h2.3M620.4 216.9h2.3M620.5 217.2h2.3M620.6 215h2.3M620.8 217.5h2.3M620.9 217.1h2.3M621 218.2h2.3M621.1 218.3h2.3M621.2 217.9h2.3M621.3 214.3h2.3M621.4 218.1h2.3M621.5 220.7h2.3M621.6 215.6h2.3M621.7 217.3h2.3M621.8 215.1h2.3M621.9 215.1h2.3M622 216.7h2.3M622.1 216.9h2.3M622.2 217.2h2.3M622.3 216.2h2.3M622.4 217.6h2.3M622.5 215.8h2.3M622.6 213.6h2.3M622.7 217.4h2.3M622.8 217.3h2.3M622.9 217.3h2.3M623 215h2.3M623.1 214.9h2.3M623.2 213.5h2.3M623.3 214.8h2.3M623.5 215.9h2.3M623.6 215.3h2.3M623.7 218.6h2.3M623.8 215.1h2.3M623.9 215.7h2.3M624 212.3h2.3M624.1 213.6h2.3M624.2 217.7h2.3M624.3 217.2h2.3M624.4 214.5h2.3M624.5 220h2.3M624.6 217.9h2.3M624.7 215.5h2.3M624.8 214.9h2.3M624.9 215.8h2.3M625 214h2.3M625.1 216.7h2.3M625.2 216h2.3M625.3 216.5h2.3M625.4 218.2h2.3M625.5 216.1h2.3M625.6 217.2h2.3M625.7 216h2.3M625.8 221h2.3M625.9 215.9h2.3M626 217.5h2.3M626.2 217.3h2.3M626.3 216.1h2.3M626.4 217h2.3M626.5 214.4h2.3M626.6 213.8h2.3M626.7 214.5h2.3M626.8 214.3h2.3M626.9 215.5h2.3M627 216.1h2.3M627.1 218.5h2.3M627.2 216.8h2.3M627.3 213.9h2.3M627.4 214.7h2.3M627.5 217.1h2.3M627.6 215.9h2.3M627.7 214.2h2.3M627.8 216.4h2.3M627.9 213.1h2.3M628 217.6h2.3M628.1 214.7h2.3M628.2 214.9h2.3M628.3 215.8h2.3M628.4 215.6h2.3M628.5 215.1h2.3M628.6 220.4h2.3M628.7 215.3h2.3M628.8 214h2.3M629 215.4h2.3M629.1 214h2.3M629.2 218.3h2.3M629.3 216.3h2.3M629.4 215.5h2.3M629.5 216.6h2.3M629.6 213.9h2.3M629.7 215.2h2.3M629.8 217.1h2.3M629.9 214.6h2.3M630 214.6h2.3M630.1 217h2.3M630.2 215h2.3M630.3 215.4h2.3M630.4 215.5h2.3M630.5 218.5h2.3M630.6 213.8h2.3M630.7 214.9h2.3M630.8 216.2h2.3M630.9 215.5h2.3M631 215.5h2.3M631.1 216.7h2.3M631.2 217.2h2.3M631.3 216h2.3M631.4 217.3h2.3M631.5 217.1h2.3M631.7 218.3h2.3M631.8 216.7h2.3M631.9 214.3h2.3M632 215.8h2.3M632.1 216.1h2.3M632.2 216.8h2.3M632.3 217h2.3M632.4 219h2.3M632.5 213.1h2.3M632.6 217.5h2.3M632.7 219h2.3M632.8 215.4h2.3M632.9 215.7h2.3M633 217.1h2.3M633.1 218.9h2.3M633.2 218.7h2.3M633.3 213.3h2.3M633.4 216.4h2.3M633.5 217.4h2.3M633.6 212.7h2.3M633.7 217.2h2.3M633.8 217.9h2.3M633.9 215.2h2.3M634 215.5h2.3M634.1 213.3h2.3M634.2 219.1h2.3M634.3 215.6h2.3M634.5 219.3h2.3M634.6 215.3h2.3M634.7 217.4h2.3M634.8 217.1h2.3M634.9 217.6h2.3M635 214.6h2.3M635.1 213.2h2.3M635.2 216.4h2.3M635.3 216.7h2.3M635.4 217.1h2.3M635.5 215.2h2.3M635.6 218.1h2.3M635.7 211.2h2.3M635.8 216.6h2.3M635.9 213h2.3M636 215.9h2.3M636.1 219.7h2.3M636.2 219.1h2.3M636.3 217h2.3M636.4 218.1h2.3M636.5 216.7h2.3M636.6 218.4h2.3M636.7 211.9h2.3M636.8 212.3h2.3M636.9 219.7h2.3M637 215.4h2.3M637.2 214.1h2.3M637.3 217h2.3M637.4 216.8h2.3M637.5 214.4h2.3M637.6 215.4h2.3M637.7 218.7h2.3M637.8 214.2h2.3M637.9 217.4h2.3M638 213.1h2.3M638.1 218.3h2.3M638.2 220.7h2.3M638.3 216.4h2.3M638.4 214.4h2.3M638.5 215.7h2.3M638.6 216.3h2.3M638.7 218.3h2.3M638.8 215h2.3M638.9 220.1h2.3M639 215.4h2.3M639.1 219.1h2.3M639.2 218.2h2.3M639.3 219.6h2.3M639.4 219h2.3M639.5 215h2.3M639.6 219.7h2.3M639.7 217.6h2.3M639.8 219.4h2.3M640 216.6h2.3M640.1 220.7h2.3M640.2 218.6h2.3M640.3 217.4h2.3M640.4 215.5h2.3M640.5 221.1h2.3M640.6 220.8h2.3M640.7 219.7h2.3M640.8 217.7h2.3M640.9 221.6h2.3M641 219.3h2.3M641.1 221.5h2.3M641.2 222.3h2.3M641.3 224h2.3M641.4 221.5h2.3M641.5 220.8h2.3M641.6 222.3h2.3M641.7 224.6h2.3M641.8 223.2h2.3M641.9 222h2.3M642 222.3h2.3M642.1 222.9h2.3M642.2 222h2.3M642.3 224.4h2.3M642.4 224.7h2.3M642.5 222.7h2.3M642.7 223.7h2.3M642.8 224.3h2.3M642.9 224.5h2.3M643 224.8h2.3M643.1 223.9h2.3M643.2 224.8h2.3M643.3 224.8h2.3M643.4 224.4h2.3M643.5 223.6h2.3M643.6 224.5h2.3M643.7 224.2h2.3M643.8 224.6h2.3M643.9 224.2h2.3M644 224.8h2.3M644.1 223.4h2.3M644.2 224.8h2.3M644.3 224.1h2.3M644.4 224.8h2.3M644.5 223.5h2.3M644.6 224.2h2.3M644.7 223.4h2.3M644.8 224.7h2.3M644.9 223.9h2.3M645 224.4h2.3M645.1 224.4h2.3M645.2 223.8h2.3M645.3 224.8h2.3M645.5 224h2.3M645.6 223.5h2.3M645.7 223.6h2.3M645.8 223.9h2.3M645.9 224.2h2.3M646 224.8h2.3M646.1 223.5h2.3M646.2 224.7h2.3M646.3 223.8h2.3M646.4 224.5h2.3M646.5 224.4h2.3M646.6 224.4h2.3M646.7 224.1h2.3M646.8 224.6h2.3M646.9 224.3h2.3M647 224.6h2.3M647.1 224.1h2.3M647.2 224.3h2.3M647.3 224.2h2.3M647.4 224.8h2.3M647.5 224.2h2.3M647.6 224.4h2.3M647.7 224.1h2.3M647.8 224.4h2.3M647.9 224.8h2.3M648 224.1h2.3M648.2 224.7h2.3M648.3 224.3h2.3M648.4 224.8h2.3M648.5 224.2h2.3M648.6 224.1h2.3M648.7 224.8h2.3M648.8 224.1h2.3M648.9 224.6h2.3M649 223.8h2.3M649.1 224.1h2.3M649.2 224.8h2.3M649.3 224.5h2.3M649.4 224.8h2.3M649.5 224.5h2.3M649.6 224.2h2.3M649.7 224h2.3M649.8 224.4h2.3M649.9 224.5h2.3M650 224.3h2.3M650.1 224.8h2.3M650.2 224.3h2.3M650.3 223.9h2.3M650.4 224.3h2.3M650.5 224h2.3M650.6 224.7h2.3M650.7 224.6h2.3M650.8 224.2h2.3M651 223.5h2.3M651.1 223.9h2.3M651.2 223.6h2.3M651.3 224.4h2.3M651.4 223.8h2.3M651.5 224.8h2.3M651.6 224.1h2.3M651.7 224.8h2.3M651.8 223.8h2.3M651.9 224.2h2.3M652 223.7h2.3M652.1 224.2h2.3M652.2 224.6h2.3M652.3 224.7h2.3M652.4 224.3h2.3M652.5 223.7h2.3M652.6 224.1h2.3M652.7 224.6h2.3M652.8 224.6h2.3M652.9 224.7h2.3M653 224.5h2.3M653.1 224.4h2.3M653.2 224.6h2.3M653.3 224.4h2.3M653.4 224.8h2.3M653.5 223.7h2.3M653.7 224.3h2.3M653.8 223.7h2.3M653.9 224.2h2.3M654 224.5h2.3M654.1 224.3h2.3M654.2 224.3h2.3M654.3 224.7h2.3M654.4 224.5h2.3M654.5 223.5h2.3M654.6 224h2.3M654.7 224.6h2.3M654.8 224.1h2.3M654.9 224.8h2.3M655 223.8h2.3M655.1 224.8h2.3M655.2 224h2.3M655.3 224.4h2.3M655.4 224.4h2.3M655.5 224.7h2.3M655.6 224.5h2.3M655.7 224.7h2.3M655.8 224.7h2.3M655.9 224.2h2.3M656 223.3h2.3M656.1 224.5h2.3M656.2 223.9h2.3M656.4 224.4h2.3M656.5 224.7h2.3M656.6 223.8h2.3M656.7 224.1h2.3M656.8 223.9h2.3M656.9 224.3h2.3M657 224.3h2.3M657.1 224.7h2.3M657.2 224.5h2.3M657.3 223.6h2.3M657.4 224.8h2.3M657.5 224.2h2.3M657.6 223.7h2.3M657.7 224h2.3M657.8 224h2.3M657.9 224.5h2.3M658 223.9h2.3M658.1 223.9h2.3M658.2 224.4h2.3M658.3 223.4h2.3M658.4 224.6h2.3M658.5 224.8h2.3M658.6 224.4h2.3M658.7 224.4h2.3M658.8 224.7h2.3M658.9 224.6h2.3M659 224.6h2.3M659.2 224.8h2.3M659.3 223.8h2.3M659.4 224.4h2.3M659.5 223.2h2.3M659.6 224.4h2.3M659.7 224.2h2.3M659.8 224.8h2.3M659.9 223.9h2.3M660 224.8h2.3M660.1 224.1h2.3M660.2 224h2.3M660.3 224h2.3M660.4 224.7h2.3M660.5 224.7h2.3M660.6 224h2.3M660.7 223.8h2.3M660.8 223.7h2.3M660.9 224.4h2.3M661 224.4h2.3M661.1 223.6h2.3M661.2 224.6h2.3M661.3 224h2.3M661.4 224.5h2.3M661.5 224.8h2.3M661.6 224.8h2.3M661.7 224.2h2.3M661.9 224.3h2.3M662 224.1h2.3M662.1 224.5h2.3M662.2 224.6h2.3M662.3 224.2h2.3M662.4 224.4h2.3M662.5 224.8h2.3M662.6 224.6h2.3M662.7 223.6h2.3M662.8 224.7h2.3M662.9 224.1h2.3M663 224.4h2.3M663.1 224h2.3M663.2 224.7h2.3M663.3 224.8h2.3M663.4 224.2h2.3M663.5 224.7h2.3M663.6 224.4h2.3M663.7 224.5h2.3M663.8 223.9h2.3M663.9 224.3h2.3M664 224.3h2.3M664.1 224.8h2.3M664.2 224.8h2.3M664.3 224.7h2.3M664.4 223.9h2.3M664.5 224h2.3M664.7 224.1h2.3M664.8 224.5h2.3M664.9 224.8h2.3M665 223.9h2.3M665.1 224.3h2.3M665.2 224.1h2.3M665.3 224.8h2.3M665.4 224.7h2.3M665.5 224.1h2.3M665.6 224.1h2.3M665.7 224.8h2.3M665.8 224.2h2.3M665.9 224.8h2.3M666 223.8h2.3M666.1 224.1h2.3M666.2 223.4h2.3M666.3 223.7h2.3M666.4 224.7h2.3M666.5 224.3h2.3M666.6 224.6h2.3M666.7 224.3h2.3M666.8 224h2.3M666.9 224.4h2.3M667 224.3h2.3M667.1 224.8h2.3M667.2 224.1h2.3M667.4 224.4h2.3M667.5 224.1h2.3M667.6 223.9h2.3M667.7 224.4h2.3M667.8 224.1h2.3M667.9 224.6h2.3M668 224h2.3M668.1 224.4h2.3M668.2 224.6h2.3M668.3 224.5h2.3M668.4 224.8h2.3M668.5 224.7h2.3M668.6 224.6h2.3M668.7 224.4h2.3M668.8 224.4h2.3M668.9 224.7h2.3M669 224.5h2.3M669.1 224.8h2.3M669.2 224.3h2.3M669.3 224.1h2.3M669.4 223.9h2.3M669.5 223.9h2.3M669.6 224.5h2.3M669.7 224.4h2.3M669.8 224.6h2.3M669.9 224.6h2.3M670 224.3h2.3M670.2 223.8h2.3M670.3 224.8h2.3M670.4 224.6h2.3M670.5 224.3h2.3M670.6 224.8h2.3M670.7 224.2h2.3M670.8 224.8h2.3M670.9 224.5h2.3M671 224.8h2.3M671.1 224.3h2.3M671.2 224.7h2.3M671.3 224.1h2.3M671.4 224.5h2.3M671.5 224.8h2.3" fill="none" stroke="#000" stroke-width="2.2"/>
<path d="M374.8 19 L375.1 20.5 L375.3 22.1 L375.6 23.7 L375.8 25.3 L376.1 26.9 L376.3 28.4 L376.6 29.7 L376.8 31 L377.1 32.2 L377.3 33.4 L377.6 34.5 L377.8 35.6 L378.1 36.7 L378.3 37.8 L378.6 38.8 L378.8 39.8 L379.1 40.7 L379.3 41.7 L379.6 42.6 L379.8 43.5 L380.1 44.4 L380.3 45.3 L380.6 46.2 L380.8 47 L381.1 47.9 L381.3 48.7 L381.6 49.5 L381.8 50.3 L382.1 51 L382.3 51.8 L382.6 52.5 L382.8 53.3 L383.1 54 L383.3 54.7 L383.6 55.4 L383.8 56.1 L384.1 56.8 L384.3 57.5 L384.6 58.2 L384.8 58.9 L385.1 59.5 L385.3 60.2 L385.6 60.8 L385.8 61.5 L386.1 62.1 L386.3 62.8 L386.6 63.4 L386.8 64.1 L387.1 64.7 L387.3 65.4 L387.6 66 L387.8 66.6 L388.1 67.3 L388.3 67.9 L388.6 68.5 L388.8 69.1 L389.1 69.7 L389.3 70.3 L389.6 70.9 L389.8 71.5 L390.1 72.1 L390.3 72.6 L390.6 73.2 L390.8 73.7 L391.1 74.2 L391.3 74.7 L391.6 75.2 L391.8 75.7 L392.1 76.2 L392.3 76.7 L392.6 77.1 L392.8 77.5 L393.1 77.9 L393.3 78.3 L393.6 78.7 L393.8 79.1 L394.1 79.5 L394.3 79.8 L394.6 80.2 L394.8 80.5 L395.1 80.9 L395.3 81.2 L395.6 81.5 L395.8 81.9 L396.1 82.2 L396.3 82.5 L396.6 82.8 L396.8 83.1 L397.1 83.4 L397.3 83.8 L397.6 84.1 L397.8 84.4 L398.1 84.7 L398.3 85 L398.6 85.3 L398.8 85.6 L399.1 86 L399.3 86.3 L399.6 86.6 L399.8 87 L400.1 87.3 L400.3 87.6 L400.6 88 L400.8 88.3 L401.1 88.7 L401.3 89 L401.6 89.4 L401.8 89.7 L402.1 90 L402.3 90.4 L402.6 90.7 L402.8 91 L403.1 91.3 L403.3 91.7 L403.6 92 L403.8 92.3 L404.1 92.6 L404.3 92.9 L404.6 93.1 L404.8 93.4 L405.1 93.7 L405.3 93.9 L405.6 94.1 L405.8 94.4 L406.1 94.6 L406.3 94.9 L406.6 95.1 L406.8 95.3 L407.1 95.5 L407.3 95.8 L407.6 96 L407.8 96.2 L408.1 96.4 L408.3 96.6 L408.6 96.8 L408.8 97 L409.1 97.2 L409.3 97.4 L409.6 97.6 L409.8 97.8 L410.1 98 L410.3 98.2 L410.6 98.4 L410.8 98.5 L411.1 98.7 L411.3 98.9 L411.6 99.1 L411.8 99.3 L412.1 99.5 L412.3 99.7 L412.6 99.8 L412.8 100 L413.1 100.2 L413.3 100.4 L413.6 100.6 L413.8 100.8 L414.1 101 L414.3 101.2 L414.6 101.4 L414.8 101.5 L415.1 101.7 L415.3 101.9 L415.6 102.1 L415.8 102.3 L416.1 102.5 L416.3 102.7 L416.6 102.9 L416.8 103.1 L417.1 103.3 L417.3 103.5 L417.6 103.7 L417.8 104 L418.1 104.2 L418.3 104.4 L418.6 104.6 L418.8 104.8 L419.1 105 L419.3 105.2 L419.6 105.4 L419.8 105.6 L420.1 105.8 L420.3 106 L420.6 106.2 L420.8 106.4 L421.1 106.5 L421.3 106.7 L421.6 106.9 L421.8 107.1 L422.1 107.3 L422.3 107.5 L422.6 107.7 L422.8 107.8 L423.1 108 L423.3 108.2 L423.6 108.4 L423.8 108.5 L424.1 108.7 L424.3 108.9 L424.6 109 L424.8 109.2 L425.1 109.3 L425.3 109.5 L425.6 109.6 L425.8 109.8 L426.1 109.9 L426.3 110.1 L426.6 110.2 L426.8 110.3 L427.1 110.5 L427.3 110.6 L427.6 110.8 L427.8 110.9 L428.1 111 L428.3 111.2 L428.6 111.3 L428.8 111.4 L429.1 111.6 L429.3 111.7 L429.6 111.8 L429.8 111.9 L430.1 112.1 L430.3 112.2 L430.6 112.3 L430.8 112.4 L431.1 112.5 L431.3 112.7 L431.6 112.8 L431.8 112.9 L432.1 113 L432.3 113.1 L432.6 113.2 L432.8 113.4 L433.1 113.5 L433.3 113.6 L433.6 113.7 L433.8 113.8 L434.1 113.9 L434.3 114 L434.6 114.1 L434.8 114.2 L435.1 114.3 L435.3 114.4 L435.6 114.5 L435.8 114.6 L436.1 114.7 L436.3 114.8 L436.6 114.9 L436.8 115 L437.1 115.1 L437.3 115.2 L437.6 115.3 L437.8 115.4 L438.1 115.5 L438.3 115.6 L438.6 115.7 L438.8 115.8 L439.1 115.9 L439.3 115.9 L439.6 116 L439.8 116.1 L440.1 116.2 L440.3 116.3 L440.6 116.4 L440.8 116.5 L441.1 116.6 L441.3 116.6 L441.6 116.7 L441.8 116.8 L442.1 116.9 L442.3 117 L442.6 117 L442.8 117.1 L443.1 117.2 L443.3 117.3 L443.6 117.4 L443.8 117.4 L444.1 117.5 L444.3 117.6 L444.6 117.7 L444.8 117.7 L445.1 117.8 L445.3 117.9 L445.6 118 L445.8 118 L446.1 118.1 L446.3 118.2 L446.6 118.3 L446.8 118.3 L447.1 118.4 L447.3 118.5 L447.6 118.5 L447.8 118.6 L448.1 118.7 L448.3 118.7 L448.6 118.8 L448.8 118.9 L449.1 118.9 L449.3 119 L449.6 119.1 L449.8 119.1 L450.1 119.2 L450.3 119.3 L450.6 119.3 L450.8 119.4 L451.1 119.5 L451.3 119.5 L451.6 119.6 L451.8 119.6 L452.1 119.7 L452.3 119.8 L452.6 119.8 L452.8 119.9 L453.1 119.9 L453.3 120 L453.6 120.1 L453.8 120.1 L454.1 120.2 L454.3 120.2 L454.6 120.3 L454.8 120.4 L455.1 120.4 L455.3 120.5 L455.6 120.5 L455.8 120.6 L456.1 120.7 L456.3 120.7 L456.6 120.8 L456.8 120.8 L457.1 120.9 L457.3 121 L457.6 121.1 L457.8 121.1 L458.1 121.2 L458.3 121.2 L458.6 121.3 L458.8 121.4 L459.1 121.4 L459.3 121.5 L459.6 121.6 L459.8 121.6 L460.1 121.7 L460.3 121.7 L460.6 121.8 L460.8 121.8 L461.1 121.8 L461.3 121.9 L461.6 121.9 L461.8 121.9 L462.1 122 L462.3 122 L462.6 122 L462.8 122 L463.1 122 L463.3 122 L463.6 122 L463.8 122 L464.1 122 L464.3 122 L464.6 122 L464.8 122 L465.1 122 L465.3 122 L465.6 122 L465.8 122 L466.1 122 L466.3 122 L466.6 121.9 L466.8 121.9 L467.1 121.8 L467.3 121.7 L467.6 121.5 L467.8 121.4 L468.1 121.2 L468.3 121.1 L468.6 120.9 L468.8 120.7 L469.1 120.6 L469.3 120.4 L469.6 120.1 L469.8 119.8 L470.1 119.5 L470.3 119.2 L470.6 118.9 L470.8 118.5 L471.1 118.1 L471.3 117.7 L471.6 117.2 L471.8 116.7 L472.1 116.1 L472.3 115.6 L472.6 115.1 L472.8 114.6 L473.1 114.1 L473.3 113.7 L473.6 113.2 L473.8 112.7 L474.1 112.3 L474.3 111.8 L474.6 111.3 L474.8 110.9 L475.1 110.5 L475.3 110.2 L475.6 109.9 L475.8 109.6 L476.1 109.5 L476.3 109.4 L476.6 109.4 L476.8 109.6 L477.1 110 L477.3 110.4 L477.6 111 L477.8 111.6 L478.1 112.3 L478.3 113 L478.6 113.9 L478.8 115.1 L479.1 116.5 L479.3 117.9 L479.6 119.2 L479.8 120.5 L480.1 121.8 L480.3 123.1 L480.6 124.4 L480.8 125.7 L481.1 126.8 L481.3 128 L481.6 129 L481.8 130 L482.1 131.1 L482.3 132.2 L482.6 133.2 L482.8 134 L483.1 134.8 L483.3 135.3 L483.6 135.5 L483.8 135.7 L484.1 135.9 L484.3 136 L484.6 136.2 L484.8 136.3 L485.1 136.4 L485.3 136.6 L485.6 136.7 L485.8 136.8 L486.1 136.9 L486.3 137 L486.6 137 L486.8 137.1 L487.1 137.2 L487.3 137.3 L487.6 137.3 L487.8 137.4 L488.1 137.4 L488.3 137.5 L488.6 137.5 L488.8 137.6 L489.1 137.6 L489.3 137.6 L489.6 137.7 L489.8 137.7 L490.1 137.7 L490.3 137.7 L490.6 137.7 L490.8 137.8 L491.1 137.8 L491.3 137.8 L491.6 137.8 L491.8 137.8 L492.1 137.8 L492.3 137.9 L492.6 137.9 L492.8 137.9 L493.1 137.9 L493.3 137.9 L493.6 137.9 L493.8 137.9 L494.1 137.9 L494.3 138 L494.6 138 L494.8 138 L495.1 138 L495.3 138 L495.6 138 L495.8 138.1 L496.1 138.1 L496.3 138.1 L496.6 138.1 L496.8 138.1 L497.1 138.2 L497.3 138.2 L497.6 138.2 L497.8 138.2 L498.1 138.2 L498.3 138.3 L498.6 138.3 L498.8 138.3 L499.1 138.3 L499.3 138.4 L499.6 138.4 L499.8 138.4 L500.1 138.4 L500.3 138.5 L500.6 138.5 L500.8 138.5 L501.1 138.5 L501.3 138.6 L501.6 138.6 L501.8 138.6 L502.1 138.6 L502.3 138.7 L502.6 138.7 L502.8 138.7 L503.1 138.7 L503.3 138.8 L503.6 138.8 L503.8 138.8 L504.1 138.9 L504.3 138.9 L504.6 138.9 L504.8 138.9 L505.1 139 L505.3 139 L505.6 139 L505.8 139.1 L506.1 139.1 L506.3 139.1 L506.6 139.1 L506.8 139.2 L507.1 139.2 L507.3 139.2 L507.6 139.3 L507.8 139.3 L508.1 139.3 L508.3 139.4 L508.6 139.4 L508.8 139.4 L509.1 139.5 L509.3 139.5 L509.6 139.5 L509.8 139.5 L510.1 139.6 L510.3 139.6 L510.6 139.6 L510.8 139.7 L511.1 139.7 L511.3 139.7 L511.6 139.8 L511.8 139.8 L512 139.8 L512.3 139.9 L512.5 139.9 L512.8 139.9 L513 140 L513.3 140 L513.5 140 L513.8 140.1 L514 140.1 L514.3 140.1 L514.5 140.2 L514.8 140.2 L515 140.2 L515.3 140.3 L515.5 140.3 L515.8 140.3 L516 140.4 L516.3 140.4 L516.5 140.4 L516.8 140.5 L517 140.5 L517.3 140.5 L517.5 140.6 L517.8 140.6 L518 140.6 L518.3 140.7 L518.5 140.7 L518.8 140.7 L519 140.8 L519.3 140.8 L519.5 140.8 L519.8 140.9 L520 140.9 L520.3 140.9 L520.5 140.9 L520.8 141 L521 141 L521.3 141 L521.5 141.1 L521.8 141.1 L522 141.1 L522.3 141.2 L522.5 141.2 L522.8 141.2 L523 141.3 L523.3 141.3 L523.5 141.3 L523.8 141.4 L524 141.4 L524.3 141.4 L524.5 141.5 L524.8 141.5 L525 141.5 L525.3 141.6 L525.5 141.6 L525.8 141.6 L526 141.6 L526.3 141.7 L526.5 141.7 L526.8 141.7 L527 141.8 L527.3 141.8 L527.5 141.8 L527.8 141.9 L528 141.9 L528.3 141.9 L528.5 141.9 L528.8 142 L529 142 L529.3 142 L529.5 142.1 L529.8 142.1 L530 142.1 L530.3 142.1 L530.5 142.2 L530.8 142.2 L531 142.2 L531.3 142.2 L531.5 142.3 L531.8 142.3 L532 142.3 L532.3 142.3 L532.5 142.4 L532.8 142.4 L533 142.4 L533.3 142.5 L533.5 142.5 L533.8 142.5 L534 142.5 L534.3 142.6 L534.5 142.6 L534.8 142.6 L535 142.6 L535.3 142.7 L535.5 142.7 L535.8 142.7 L536 142.7 L536.3 142.8 L536.5 142.8 L536.8 142.8 L537 142.9 L537.3 142.9 L537.5 142.9 L537.8 142.9 L538 143 L538.3 143 L538.5 143 L538.8 143 L539 143.1 L539.3 143.1 L539.5 143.1 L539.8 143.1 L540 143.2 L540.3 143.2 L540.5 143.2 L540.8 143.2 L541 143.3 L541.3 143.3 L541.5 143.3 L541.8 143.3 L542 143.4 L542.3 143.4 L542.5 143.4 L542.8 143.4 L543 143.5 L543.3 143.5 L543.5 143.5 L543.8 143.5 L544 143.6 L544.3 143.6 L544.5 143.6 L544.8 143.6 L545 143.7 L545.3 143.7 L545.5 143.7 L545.8 143.7 L546 143.8 L546.3 143.8 L546.5 143.8 L546.8 143.8 L547 143.9 L547.3 143.9 L547.5 143.9 L547.8 143.9 L548 144 L548.3 144 L548.5 144 L548.8 144.1 L549 144.1 L549.3 144.1 L549.5 144.1 L549.8 144.2 L550 144.2 L550.3 144.2 L550.5 144.2 L550.8 144.3 L551 144.3 L551.3 144.3 L551.5 144.3 L551.8 144.4 L552 144.4 L552.3 144.4 L552.5 144.4 L552.8 144.5 L553 144.5 L553.3 144.5 L553.5 144.5 L553.8 144.6 L554 144.6 L554.3 144.6 L554.5 144.6 L554.8 144.7 L555 144.7 L555.3 144.7 L555.5 144.7 L555.8 144.8 L556 144.8 L556.3 144.8 L556.5 144.8 L556.8 144.9 L557 144.9 L557.3 144.9 L557.5 144.9 L557.8 145 L558 145 L558.3 145 L558.5 145 L558.8 145.1 L559 145.1 L559.3 145.1 L559.5 145.2 L559.8 145.2 L560 145.2 L560.3 145.2 L560.5 145.3 L560.8 145.3 L561 145.3 L561.3 145.3 L561.5 145.4 L561.8 145.4 L562 145.4 L562.3 145.4 L562.5 145.5 L562.8 145.5 L563 145.5 L563.3 145.6 L563.5 145.6 L563.8 145.6 L564 145.6 L564.3 145.7 L564.5 145.7 L564.8 145.7 L565 145.8 L565.3 145.8 L565.5 145.8 L565.8 145.9 L566 145.9 L566.3 145.9 L566.5 145.9 L566.8 146 L567 146 L567.3 146 L567.5 146.1 L567.8 146.1 L568 146.1 L568.3 146.2 L568.5 146.2 L568.8 146.2 L569 146.2 L569.3 146.3 L569.5 146.3 L569.8 146.3 L570 146.4 L570.3 146.4 L570.5 146.4 L570.8 146.5 L571 146.5 L571.3 146.5 L571.5 146.6 L571.8 146.6 L572 146.6 L572.3 146.6 L572.5 146.7 L572.8 146.7 L573 146.7 L573.3 146.8 L573.5 146.8 L573.8 146.8 L574 146.9 L574.3 146.9 L574.5 146.9 L574.8 147 L575 147 L575.3 147 L575.5 147.1 L575.8 147.1 L576 147.1 L576.3 147.1 L576.5 147.2 L576.8 147.2 L577 147.2 L577.3 147.3 L577.5 147.3 L577.8 147.3 L578 147.4 L578.3 147.4 L578.5 147.4 L578.8 147.5 L579 147.5 L579.3 147.5 L579.5 147.5 L579.8 147.6 L580 147.6 L580.3 147.6 L580.5 147.7 L580.8 147.7 L581 147.7 L581.3 147.8 L581.5 147.8 L581.8 147.8 L582 147.8 L582.3 147.9 L582.5 147.9 L582.8 147.9 L583 148 L583.3 148 L583.5 148 L583.8 148 L584 148.1 L584.3 148.1 L584.5 148.1 L584.8 148.2 L585 148.2 L585.3 148.2 L585.5 148.2 L585.8 148.3 L586 148.3 L586.3 148.3 L586.5 148.4 L586.8 148.4 L587 148.4 L587.3 148.4 L587.5 148.5 L587.8 148.5 L588 148.5 L588.3 148.5 L588.5 148.6 L588.8 148.6 L589 148.6 L589.3 148.6 L589.5 148.7 L589.8 148.7 L590 148.7 L590.3 148.7 L590.5 148.8 L590.8 148.8 L591 148.8 L591.3 148.8 L591.5 148.9 L591.8 148.9 L592 148.9 L592.3 148.9 L592.5 149 L592.8 149 L593 149 L593.3 149 L593.5 149 L593.8 149.1 L594 149.1 L594.3 149.1 L594.5 149.1 L594.8 149.1 L595 149.2 L595.3 149.2 L595.5 149.2 L595.8 149.2 L596 149.2 L596.3 149.3 L596.5 149.3 L596.8 149.3 L597 149.3 L597.3 149.3 L597.5 149.3 L597.8 149.4 L598 149.4 L598.3 149.4 L598.5 149.4 L598.8 149.4 L599 149.4 L599.3 149.5 L599.5 149.5 L599.8 149.5 L600 149.5 L600.3 149.5 L600.5 149.5 L600.8 149.5 L601 149.5 L601.3 149.6 L601.5 149.6 L601.8 149.6 L602 149.6 L602.3 149.6 L602.5 149.6 L602.8 149.6 L603 149.6 L603.3 149.6 L603.5 149.6 L603.8 149.6 L604 149.6 L604.3 149.6 L604.5 149.6 L604.8 149.7 L605 149.7 L605.3 149.7 L605.5 149.7 L605.8 149.7 L606 149.7 L606.3 149.7 L606.5 149.8 L606.8 149.8 L607 149.8 L607.3 149.9 L607.5 149.9 L607.8 150.1 L608 150.2 L608.3 150.4 L608.5 150.5 L608.8 150.7 L609 150.9 L609.3 151.2 L609.5 151.5 L609.8 151.9 L610 152.4 L610.3 152.9 L610.5 153.4 L610.8 154.1 L611 155 L611.3 156.1 L611.5 157.2 L611.8 158.5 L612 160 L612.3 162 L612.5 165.8 L612.8 170 L613 172.8 L613.3 175.2 L613.5 177.3 L613.8 179.3 L614 181.2 L614.3 183.3 L614.5 185.5 L614.8 187.8 L615 190.2 L615.3 192.6 L615.5 194.9 L615.8 197.3 L616 199.6 L616.3 201.8 L616.5 204.2 L616.8 206.5 L617 208.5 L617.3 210 L617.5 211.2 L617.8 212.3 L618 213.2 L618.3 213.9 L618.5 214.4 L618.8 214.8 L619 215.2 L619.3 215.5 L619.5 215.7 L619.8 215.8 L620 215.9 L620.3 215.9 L620.5 216 L620.8 216 L621 216 L621.3 216.1 L621.5 216.1 L621.8 216.1 L622 216.1 L622.3 216.1 L622.5 216.1 L622.8 216.1 L623 216.1 L623.3 216.1 L623.5 216.1 L623.8 216.1 L624 216.1 L624.3 216.1 L624.5 216.1 L624.8 216.1 L625 216.1 L625.3 216.1 L625.5 216.1 L625.8 216.1 L626 216.1 L626.3 216.1 L626.5 216.1 L626.8 216.1 L627 216.1 L627.3 216.1 L627.5 216.1 L627.8 216.1 L628 216.1 L628.3 216.1 L628.5 216.2 L628.8 216.2 L629 216.2 L629.3 216.2 L629.5 216.2 L629.8 216.2 L630 216.2 L630.3 216.2 L630.5 216.2 L630.8 216.2 L631 216.2 L631.3 216.2 L631.5 216.2 L631.8 216.2 L632 216.2 L632.3 216.2 L632.5 216.2 L632.8 216.2 L633 216.2 L633.3 216.2 L633.5 216.2 L633.8 216.2 L634 216.2 L634.3 216.2 L634.5 216.2 L634.8 216.2 L635 216.2 L635.3 216.2 L635.5 216.2 L635.8 216.2 L636 216.2 L636.3 216.2 L636.5 216.2 L636.8 216.2 L637 216.3 L637.3 216.3 L637.5 216.3 L637.8 216.3 L638 216.4 L638.3 216.4 L638.5 216.5 L638.8 216.5 L639 216.6 L639.3 216.6 L639.5 216.8 L639.8 217.1 L640 217.4 L640.3 217.8 L640.5 218.3 L640.8 218.7 L641 219.2 L641.3 219.7 L641.5 220.3 L641.8 221.1 L642 221.8 L642.3 222.5 L642.5 222.9 L642.8 223.2 L643 223.5 L643.3 223.7 L643.5 223.9 L643.8 224.1 L644 224.2 L644.3 224.3 L644.5 224.3 L644.8 224.3 L645 224.3 L645.3 224.3 L645.5 224.3 L645.8 224.3 L646 224.3 L646.3 224.3 L646.5 224.3 L646.8 224.3 L647 224.3 L647.3 224.3 L647.5 224.4 L647.8 224.4 L648 224.4 L648.3 224.4 L648.5 224.4 L648.8 224.4 L649 224.4 L649.3 224.4 L649.5 224.4 L649.8 224.4 L650 224.4 L650.3 224.4 L650.5 224.4 L650.8 224.4 L651 224.4 L651.3 224.4 L651.5 224.4 L651.8 224.4 L652 224.4 L652.3 224.4 L652.5 224.4 L652.8 224.4 L653 224.4 L653.3 224.4 L653.5 224.4 L653.8 224.4 L654 224.4 L654.3 224.4 L654.5 224.4 L654.8 224.4 L655 224.4 L655.3 224.4 L655.5 224.4 L655.8 224.4 L656 224.5 L656.3 224.5 L656.5 224.5 L656.8 224.5 L657 224.5 L657.3 224.5 L657.5 224.5 L657.8 224.5 L658 224.5 L658.3 224.5 L658.5 224.5 L658.8 224.5 L659 224.5 L659.3 224.5 L659.5 224.5 L659.8 224.5 L660 224.5 L660.3 224.5 L660.5 224.5 L660.8 224.5 L661 224.5 L661.3 224.5 L661.5 224.5 L661.8 224.5 L662 224.5 L662.3 224.5 L662.5 224.5 L662.8 224.5 L663 224.5 L663.3 224.5 L663.5 224.5 L663.8 224.5 L664 224.5 L664.3 224.5 L664.5 224.5 L664.8 224.5 L665 224.5 L665.3 224.5 L665.5 224.5 L665.8 224.5 L666 224.5 L666.3 224.5 L666.5 224.5 L666.8 224.5 L667 224.5 L667.3 224.5 L667.5 224.5 L667.8 224.5 L668 224.5 L668.3 224.5 L668.5 224.5 L668.8 224.5 L669 224.5 L669.3 224.5 L669.5 224.5 L669.8 224.5 L670 224.5 L670.3 224.5 L670.5 224.5 L670.8 224.5 L671 224.5 L671.3 224.5 L671.5 224.5 L671.8 224.5 L672 224.5 L672.3 224.5 L672.5 224.5" fill="none" stroke="#f00000" stroke-width="2.2" stroke-linejoin="round"/>
</g>
<text x="63.6" y="30.6" font-size="24" font-family="Liberation Serif, serif" fill="#222" textLength="11.6" lengthAdjust="spacingAndGlyphs">a</text>
<text x="395.6" y="26.6" font-size="23.5" font-family="Liberation Serif, serif" fill="#222" textLength="11.2" lengthAdjust="spacingAndGlyphs">b</text>
<path d="M215 20.2H238.7" stroke="#444" stroke-width="0.9"/>
<rect x="225.8" y="19.2" width="2" height="2" fill="#111"/>
<path d="M215 37.8H238.7" stroke="#ff5a5a" stroke-width="1.2"/>
<rect x="225.8" y="36.8" width="2" height="2" fill="#e00"/>
<g fill="#222" stroke="#222" stroke-width="0.25" font-family="Liberation Serif, serif" font-size="14.2"><text x="242.5" y="23.7" textLength="83" lengthAdjust="spacingAndGlyphs">Experimental</text>
<text x="242.5" y="41" textLength="63.2" lengthAdjust="spacingAndGlyphs">Simulated</text></g>
<path d="M556.7 20.7H581" stroke="#444" stroke-width="0.9"/>
<rect x="567.9" y="19.7" width="2" height="2" fill="#111"/>
<path d="M556.7 39H581" stroke="#ff5a5a" stroke-width="1.2"/>
<rect x="567.9" y="38" width="2" height="2" fill="#e00"/>
<g fill="#222" stroke="#222" stroke-width="0.25" font-family="Liberation Serif, serif" font-size="14.5"><text x="585.1" y="24.3" textLength="85.5" lengthAdjust="spacingAndGlyphs">Experimental</text>
<text x="585.1" y="42.3" textLength="64.7" lengthAdjust="spacingAndGlyphs">Simulated</text></g>
<text x="187.4" y="252.9" text-anchor="middle" font-size="14.3" font-weight="bold" font-family="Liberation Serif, serif" fill="#222" textLength="52.5" lengthAdjust="spacingAndGlyphs">Channel</text>
<text x="523.9" y="256.8" text-anchor="middle" font-size="14.5" font-weight="bold" font-family="Liberation Serif, serif" fill="#222" textLength="53" lengthAdjust="spacingAndGlyphs">Channel</text>
<text transform="translate(11.0 97.3) rotate(-90)" x="0" y="0" text-anchor="middle" font-size="12.4" font-weight="bold" font-family="Liberation Serif, serif" fill="#222" textLength="97.5" lengthAdjust="spacingAndGlyphs">Scattering yield</text>
<g fill="#c8141e" stroke="#c8141e" stroke-width="0.3" font-family="Liberation Serif, serif" font-size="16.5">
<text x="136.4" y="73.4" textLength="11" lengthAdjust="spacingAndGlyphs">O</text>
<text x="472.1" y="73.6" textLength="11" lengthAdjust="spacingAndGlyphs">O</text>
<text x="291.0" y="133.6" textLength="19" lengthAdjust="spacingAndGlyphs">Cu</text>
<text x="627.0" y="130.6" textLength="19" lengthAdjust="spacingAndGlyphs">Cu</text>
<text x="626.8" y="190.8" textLength="18.2" lengthAdjust="spacingAndGlyphs">Ag</text>
</g>
<path d="M142.1 79.1L142.1 88.4" stroke="#666" stroke-width="0.9"/><path d="M142.1 93.4L140.3 87.4L142.1 87.7L143.8 87.4Z" fill="#111"/>
<path d="M476.9 82.9L476.9 94.5" stroke="#666" stroke-width="0.9"/><path d="M476.9 99.5L475.1 93.5L476.9 93.8L478.6 93.5Z" fill="#111"/>
<path d="M285.9 131.9L277 140.8" stroke="#666" stroke-width="0.9"/><path d="M273.1 144.7L276.3 138.7L277.5 140.3L279.1 141.5Z" fill="#111"/>
<path d="M625.2 132.2L616 141.1" stroke="#666" stroke-width="0.9"/><path d="M612 144.9L615.3 139L616.5 140.6L618.1 141.8Z" fill="#111"/>
<path d="M634.4 194.8L634.4 207" stroke="#666" stroke-width="0.9"/><path d="M634.4 211.4L632.6 206L634.4 206.3L636.1 206Z" fill="#111"/>
</svg>
</body></html>
